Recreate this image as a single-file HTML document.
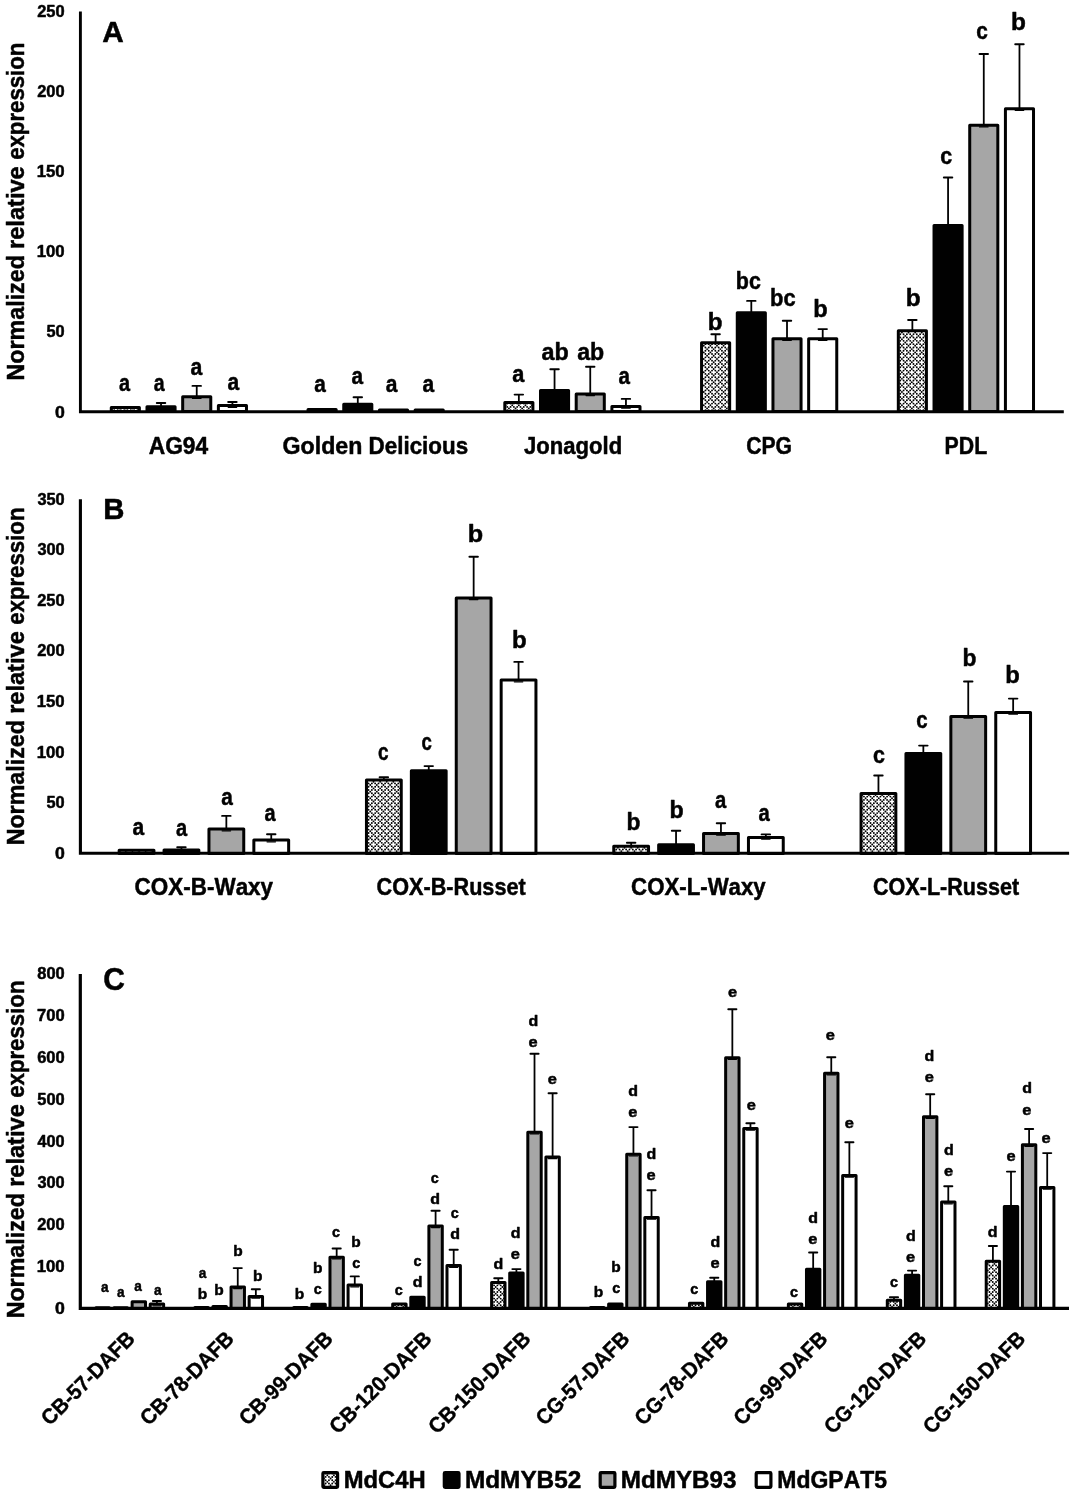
<!DOCTYPE html>
<html><head><meta charset="utf-8"><style>html,body{margin:0;padding:0;background:#fff;width:1075px;height:1495px;overflow:hidden}</style></head>
<body>
<svg width="1075" height="1495" viewBox="0 0 1075 1495" style="display:block">
<style>text{stroke:#000;stroke-width:0.5px;stroke-linejoin:round}</style>
<rect width="100%" height="100%" fill="#fff"/>
<g font-family="Liberation Sans" font-weight="bold" fill="#000" style="font-kerning:none" opacity="0.999">
<rect x="111.28" y="407.60" width="28.10" height="4.00" fill="#fff"/>
<clipPath id="c5"><rect x="111.28" y="407.60" width="28.10" height="4.00"/></clipPath>
<path clip-path="url(#c5)" fill="#000" d="M110.03 406.91a0.95 0.95 0 1 0 1.9 0a0.95 0.95 0 1 0 -1.9 0M110.03 410.21a0.95 0.95 0 1 0 1.9 0a0.95 0.95 0 1 0 -1.9 0M113.33 406.91a0.95 0.95 0 1 0 1.9 0a0.95 0.95 0 1 0 -1.9 0M113.33 410.21a0.95 0.95 0 1 0 1.9 0a0.95 0.95 0 1 0 -1.9 0M116.64 406.91a0.95 0.95 0 1 0 1.9 0a0.95 0.95 0 1 0 -1.9 0M116.64 410.21a0.95 0.95 0 1 0 1.9 0a0.95 0.95 0 1 0 -1.9 0M119.94 406.91a0.95 0.95 0 1 0 1.9 0a0.95 0.95 0 1 0 -1.9 0M119.94 410.21a0.95 0.95 0 1 0 1.9 0a0.95 0.95 0 1 0 -1.9 0M123.24 406.91a0.95 0.95 0 1 0 1.9 0a0.95 0.95 0 1 0 -1.9 0M123.24 410.21a0.95 0.95 0 1 0 1.9 0a0.95 0.95 0 1 0 -1.9 0M126.54 406.91a0.95 0.95 0 1 0 1.9 0a0.95 0.95 0 1 0 -1.9 0M126.54 410.21a0.95 0.95 0 1 0 1.9 0a0.95 0.95 0 1 0 -1.9 0M129.85 406.91a0.95 0.95 0 1 0 1.9 0a0.95 0.95 0 1 0 -1.9 0M129.85 410.21a0.95 0.95 0 1 0 1.9 0a0.95 0.95 0 1 0 -1.9 0M133.15 406.91a0.95 0.95 0 1 0 1.9 0a0.95 0.95 0 1 0 -1.9 0M133.15 410.21a0.95 0.95 0 1 0 1.9 0a0.95 0.95 0 1 0 -1.9 0M136.45 406.91a0.95 0.95 0 1 0 1.9 0a0.95 0.95 0 1 0 -1.9 0M136.45 410.21a0.95 0.95 0 1 0 1.9 0a0.95 0.95 0 1 0 -1.9 0M111.68 408.56a0.95 0.95 0 1 0 1.9 0a0.95 0.95 0 1 0 -1.9 0M114.98 411.86a0.95 0.95 0 1 0 1.9 0a0.95 0.95 0 1 0 -1.9 0M118.29 408.56a0.95 0.95 0 1 0 1.9 0a0.95 0.95 0 1 0 -1.9 0M121.59 411.86a0.95 0.95 0 1 0 1.9 0a0.95 0.95 0 1 0 -1.9 0M124.89 408.56a0.95 0.95 0 1 0 1.9 0a0.95 0.95 0 1 0 -1.9 0M128.19 411.86a0.95 0.95 0 1 0 1.9 0a0.95 0.95 0 1 0 -1.9 0M131.50 408.56a0.95 0.95 0 1 0 1.9 0a0.95 0.95 0 1 0 -1.9 0M134.80 411.86a0.95 0.95 0 1 0 1.9 0a0.95 0.95 0 1 0 -1.9 0M138.10 408.56a0.95 0.95 0 1 0 1.9 0a0.95 0.95 0 1 0 -1.9 0"/>
<rect x="111.28" y="407.60" width="28.10" height="4.00" fill="none" stroke="#000" stroke-width="3.0" stroke-linejoin="round"/>
<text x="119.02" y="391.36" font-size="24" textLength="11.06" lengthAdjust="spacingAndGlyphs">a</text>
<line x1="161.03" y1="408.30" x2="161.03" y2="403.00" stroke="#000" stroke-width="1.8"/>
<line x1="156.78" y1="403.00" x2="165.28" y2="403.00" stroke="#000" stroke-width="1.9" stroke-linecap="round"/>
<rect x="146.98" y="406.80" width="28.10" height="4.80" fill="#000" stroke="#000" stroke-width="3.0" stroke-linejoin="round"/>
<text x="153.63" y="391.36" font-size="24" textLength="10.85" lengthAdjust="spacingAndGlyphs">a</text>
<line x1="196.73" y1="398.20" x2="196.73" y2="385.90" stroke="#000" stroke-width="1.8"/>
<line x1="192.48" y1="385.90" x2="200.98" y2="385.90" stroke="#000" stroke-width="1.9" stroke-linecap="round"/>
<rect x="182.68" y="396.70" width="28.10" height="14.90" fill="#a6a6a6" stroke="#000" stroke-width="3.0" stroke-linejoin="round"/>
<line x1="192.48" y1="398.40" x2="200.98" y2="398.40" stroke="#000" stroke-width="1.2" stroke-linecap="round"/>
<text x="190.48" y="374.66" font-size="24" textLength="11.79" lengthAdjust="spacingAndGlyphs">a</text>
<line x1="232.43" y1="407.10" x2="232.43" y2="402.00" stroke="#000" stroke-width="1.8"/>
<line x1="228.18" y1="402.00" x2="236.68" y2="402.00" stroke="#000" stroke-width="1.9" stroke-linecap="round"/>
<rect x="218.38" y="405.60" width="28.10" height="6.00" fill="#fff" stroke="#000" stroke-width="3.0" stroke-linejoin="round"/>
<line x1="228.18" y1="407.30" x2="236.68" y2="407.30" stroke="#000" stroke-width="1.2" stroke-linecap="round"/>
<text x="227.38" y="389.96" font-size="24" textLength="11.68" lengthAdjust="spacingAndGlyphs">a</text>
<rect x="308.04" y="409.40" width="28.10" height="2.20" fill="#fff"/>
<clipPath id="c24"><rect x="308.04" y="409.40" width="28.10" height="2.20"/></clipPath>
<path clip-path="url(#c24)" fill="#000" d="M308.18 410.21a0.95 0.95 0 1 0 1.9 0a0.95 0.95 0 1 0 -1.9 0M311.48 410.21a0.95 0.95 0 1 0 1.9 0a0.95 0.95 0 1 0 -1.9 0M314.79 410.21a0.95 0.95 0 1 0 1.9 0a0.95 0.95 0 1 0 -1.9 0M318.09 410.21a0.95 0.95 0 1 0 1.9 0a0.95 0.95 0 1 0 -1.9 0M321.39 410.21a0.95 0.95 0 1 0 1.9 0a0.95 0.95 0 1 0 -1.9 0M324.69 410.21a0.95 0.95 0 1 0 1.9 0a0.95 0.95 0 1 0 -1.9 0M328.00 410.21a0.95 0.95 0 1 0 1.9 0a0.95 0.95 0 1 0 -1.9 0M331.30 410.21a0.95 0.95 0 1 0 1.9 0a0.95 0.95 0 1 0 -1.9 0M334.60 410.21a0.95 0.95 0 1 0 1.9 0a0.95 0.95 0 1 0 -1.9 0M306.53 411.86a0.95 0.95 0 1 0 1.9 0a0.95 0.95 0 1 0 -1.9 0M309.83 408.56a0.95 0.95 0 1 0 1.9 0a0.95 0.95 0 1 0 -1.9 0M313.13 411.86a0.95 0.95 0 1 0 1.9 0a0.95 0.95 0 1 0 -1.9 0M316.44 408.56a0.95 0.95 0 1 0 1.9 0a0.95 0.95 0 1 0 -1.9 0M319.74 411.86a0.95 0.95 0 1 0 1.9 0a0.95 0.95 0 1 0 -1.9 0M323.04 408.56a0.95 0.95 0 1 0 1.9 0a0.95 0.95 0 1 0 -1.9 0M326.34 411.86a0.95 0.95 0 1 0 1.9 0a0.95 0.95 0 1 0 -1.9 0M329.65 408.56a0.95 0.95 0 1 0 1.9 0a0.95 0.95 0 1 0 -1.9 0M332.95 411.86a0.95 0.95 0 1 0 1.9 0a0.95 0.95 0 1 0 -1.9 0"/>
<rect x="308.04" y="409.40" width="28.10" height="2.20" fill="none" stroke="#000" stroke-width="3.0" stroke-linejoin="round"/>
<text x="314.29" y="391.76" font-size="24" textLength="11.58" lengthAdjust="spacingAndGlyphs">a</text>
<line x1="357.79" y1="405.70" x2="357.79" y2="397.20" stroke="#000" stroke-width="1.8"/>
<line x1="353.54" y1="397.20" x2="362.04" y2="397.20" stroke="#000" stroke-width="1.9" stroke-linecap="round"/>
<rect x="343.74" y="404.20" width="28.10" height="7.40" fill="#000" stroke="#000" stroke-width="3.0" stroke-linejoin="round"/>
<text x="351.49" y="384.36" font-size="24" textLength="11.58" lengthAdjust="spacingAndGlyphs">a</text>
<rect x="379.44" y="409.90" width="28.10" height="1.70" fill="#a6a6a6" stroke="#000" stroke-width="3.0" stroke-linejoin="round"/>
<text x="385.68" y="391.76" font-size="24" textLength="11.68" lengthAdjust="spacingAndGlyphs">a</text>
<rect x="415.14" y="409.90" width="28.10" height="1.70" fill="#fff" stroke="#000" stroke-width="3.0" stroke-linejoin="round"/>
<text x="422.58" y="392.46" font-size="24" textLength="11.68" lengthAdjust="spacingAndGlyphs">a</text>
<line x1="518.85" y1="404.00" x2="518.85" y2="394.60" stroke="#000" stroke-width="1.8"/>
<line x1="514.60" y1="394.60" x2="523.10" y2="394.60" stroke="#000" stroke-width="1.9" stroke-linecap="round"/>
<rect x="504.80" y="402.50" width="28.10" height="9.10" fill="#fff"/>
<clipPath id="c39"><rect x="504.80" y="402.50" width="28.10" height="9.10"/></clipPath>
<path clip-path="url(#c39)" fill="#000" d="M503.03 403.60a0.95 0.95 0 1 0 1.9 0a0.95 0.95 0 1 0 -1.9 0M503.03 406.91a0.95 0.95 0 1 0 1.9 0a0.95 0.95 0 1 0 -1.9 0M503.03 410.21a0.95 0.95 0 1 0 1.9 0a0.95 0.95 0 1 0 -1.9 0M506.33 403.60a0.95 0.95 0 1 0 1.9 0a0.95 0.95 0 1 0 -1.9 0M506.33 406.91a0.95 0.95 0 1 0 1.9 0a0.95 0.95 0 1 0 -1.9 0M506.33 410.21a0.95 0.95 0 1 0 1.9 0a0.95 0.95 0 1 0 -1.9 0M509.63 403.60a0.95 0.95 0 1 0 1.9 0a0.95 0.95 0 1 0 -1.9 0M509.63 406.91a0.95 0.95 0 1 0 1.9 0a0.95 0.95 0 1 0 -1.9 0M509.63 410.21a0.95 0.95 0 1 0 1.9 0a0.95 0.95 0 1 0 -1.9 0M512.93 403.60a0.95 0.95 0 1 0 1.9 0a0.95 0.95 0 1 0 -1.9 0M512.93 406.91a0.95 0.95 0 1 0 1.9 0a0.95 0.95 0 1 0 -1.9 0M512.93 410.21a0.95 0.95 0 1 0 1.9 0a0.95 0.95 0 1 0 -1.9 0M516.24 403.60a0.95 0.95 0 1 0 1.9 0a0.95 0.95 0 1 0 -1.9 0M516.24 406.91a0.95 0.95 0 1 0 1.9 0a0.95 0.95 0 1 0 -1.9 0M516.24 410.21a0.95 0.95 0 1 0 1.9 0a0.95 0.95 0 1 0 -1.9 0M519.54 403.60a0.95 0.95 0 1 0 1.9 0a0.95 0.95 0 1 0 -1.9 0M519.54 406.91a0.95 0.95 0 1 0 1.9 0a0.95 0.95 0 1 0 -1.9 0M519.54 410.21a0.95 0.95 0 1 0 1.9 0a0.95 0.95 0 1 0 -1.9 0M522.84 403.60a0.95 0.95 0 1 0 1.9 0a0.95 0.95 0 1 0 -1.9 0M522.84 406.91a0.95 0.95 0 1 0 1.9 0a0.95 0.95 0 1 0 -1.9 0M522.84 410.21a0.95 0.95 0 1 0 1.9 0a0.95 0.95 0 1 0 -1.9 0M526.14 403.60a0.95 0.95 0 1 0 1.9 0a0.95 0.95 0 1 0 -1.9 0M526.14 406.91a0.95 0.95 0 1 0 1.9 0a0.95 0.95 0 1 0 -1.9 0M526.14 410.21a0.95 0.95 0 1 0 1.9 0a0.95 0.95 0 1 0 -1.9 0M529.45 403.60a0.95 0.95 0 1 0 1.9 0a0.95 0.95 0 1 0 -1.9 0M529.45 406.91a0.95 0.95 0 1 0 1.9 0a0.95 0.95 0 1 0 -1.9 0M529.45 410.21a0.95 0.95 0 1 0 1.9 0a0.95 0.95 0 1 0 -1.9 0M532.75 403.60a0.95 0.95 0 1 0 1.9 0a0.95 0.95 0 1 0 -1.9 0M532.75 406.91a0.95 0.95 0 1 0 1.9 0a0.95 0.95 0 1 0 -1.9 0M532.75 410.21a0.95 0.95 0 1 0 1.9 0a0.95 0.95 0 1 0 -1.9 0M504.68 405.25a0.95 0.95 0 1 0 1.9 0a0.95 0.95 0 1 0 -1.9 0M504.68 411.86a0.95 0.95 0 1 0 1.9 0a0.95 0.95 0 1 0 -1.9 0M507.98 401.95a0.95 0.95 0 1 0 1.9 0a0.95 0.95 0 1 0 -1.9 0M511.28 405.25a0.95 0.95 0 1 0 1.9 0a0.95 0.95 0 1 0 -1.9 0M507.98 408.56a0.95 0.95 0 1 0 1.9 0a0.95 0.95 0 1 0 -1.9 0M511.28 411.86a0.95 0.95 0 1 0 1.9 0a0.95 0.95 0 1 0 -1.9 0M514.59 401.95a0.95 0.95 0 1 0 1.9 0a0.95 0.95 0 1 0 -1.9 0M517.89 405.25a0.95 0.95 0 1 0 1.9 0a0.95 0.95 0 1 0 -1.9 0M514.59 408.56a0.95 0.95 0 1 0 1.9 0a0.95 0.95 0 1 0 -1.9 0M517.89 411.86a0.95 0.95 0 1 0 1.9 0a0.95 0.95 0 1 0 -1.9 0M521.19 401.95a0.95 0.95 0 1 0 1.9 0a0.95 0.95 0 1 0 -1.9 0M524.49 405.25a0.95 0.95 0 1 0 1.9 0a0.95 0.95 0 1 0 -1.9 0M521.19 408.56a0.95 0.95 0 1 0 1.9 0a0.95 0.95 0 1 0 -1.9 0M524.49 411.86a0.95 0.95 0 1 0 1.9 0a0.95 0.95 0 1 0 -1.9 0M527.80 401.95a0.95 0.95 0 1 0 1.9 0a0.95 0.95 0 1 0 -1.9 0M531.10 405.25a0.95 0.95 0 1 0 1.9 0a0.95 0.95 0 1 0 -1.9 0M527.80 408.56a0.95 0.95 0 1 0 1.9 0a0.95 0.95 0 1 0 -1.9 0M531.10 411.86a0.95 0.95 0 1 0 1.9 0a0.95 0.95 0 1 0 -1.9 0"/>
<rect x="504.80" y="402.50" width="28.10" height="9.10" fill="none" stroke="#000" stroke-width="3.0" stroke-linejoin="round"/>
<text x="512.26" y="382.46" font-size="24" textLength="12.10" lengthAdjust="spacingAndGlyphs">a</text>
<line x1="554.55" y1="392.10" x2="554.55" y2="369.30" stroke="#000" stroke-width="1.8"/>
<line x1="550.30" y1="369.30" x2="558.80" y2="369.30" stroke="#000" stroke-width="1.9" stroke-linecap="round"/>
<rect x="540.50" y="390.60" width="28.10" height="21.00" fill="#000" stroke="#000" stroke-width="3.0" stroke-linejoin="round"/>
<text x="541.62" y="360.16" font-size="24" textLength="27.24" lengthAdjust="spacingAndGlyphs">ab</text>
<line x1="590.25" y1="395.40" x2="590.25" y2="366.80" stroke="#000" stroke-width="1.8"/>
<line x1="586.00" y1="366.80" x2="594.50" y2="366.80" stroke="#000" stroke-width="1.9" stroke-linecap="round"/>
<rect x="576.20" y="393.90" width="28.10" height="17.70" fill="#a6a6a6" stroke="#000" stroke-width="3.0" stroke-linejoin="round"/>
<line x1="586.00" y1="395.60" x2="594.50" y2="395.60" stroke="#000" stroke-width="1.2" stroke-linecap="round"/>
<text x="577.22" y="360.16" font-size="24" textLength="27.03" lengthAdjust="spacingAndGlyphs">ab</text>
<line x1="625.95" y1="408.00" x2="625.95" y2="398.90" stroke="#000" stroke-width="1.8"/>
<line x1="621.70" y1="398.90" x2="630.20" y2="398.90" stroke="#000" stroke-width="1.9" stroke-linecap="round"/>
<rect x="611.90" y="406.50" width="28.10" height="5.10" fill="#fff" stroke="#000" stroke-width="3.0" stroke-linejoin="round"/>
<line x1="621.70" y1="408.20" x2="630.20" y2="408.20" stroke="#000" stroke-width="1.2" stroke-linecap="round"/>
<text x="618.40" y="384.36" font-size="24" textLength="11.47" lengthAdjust="spacingAndGlyphs">a</text>
<line x1="715.61" y1="344.30" x2="715.61" y2="334.20" stroke="#000" stroke-width="1.8"/>
<line x1="711.36" y1="334.20" x2="719.86" y2="334.20" stroke="#000" stroke-width="1.9" stroke-linecap="round"/>
<rect x="701.56" y="342.80" width="28.10" height="68.80" fill="#fff"/>
<clipPath id="c60"><rect x="701.56" y="342.80" width="28.10" height="68.80"/></clipPath>
<path clip-path="url(#c60)" fill="#000" d="M701.18 344.16a0.95 0.95 0 1 0 1.9 0a0.95 0.95 0 1 0 -1.9 0M701.18 347.46a0.95 0.95 0 1 0 1.9 0a0.95 0.95 0 1 0 -1.9 0M701.18 350.76a0.95 0.95 0 1 0 1.9 0a0.95 0.95 0 1 0 -1.9 0M701.18 354.06a0.95 0.95 0 1 0 1.9 0a0.95 0.95 0 1 0 -1.9 0M701.18 357.37a0.95 0.95 0 1 0 1.9 0a0.95 0.95 0 1 0 -1.9 0M701.18 360.67a0.95 0.95 0 1 0 1.9 0a0.95 0.95 0 1 0 -1.9 0M701.18 363.97a0.95 0.95 0 1 0 1.9 0a0.95 0.95 0 1 0 -1.9 0M701.18 367.28a0.95 0.95 0 1 0 1.9 0a0.95 0.95 0 1 0 -1.9 0M701.18 370.58a0.95 0.95 0 1 0 1.9 0a0.95 0.95 0 1 0 -1.9 0M701.18 373.88a0.95 0.95 0 1 0 1.9 0a0.95 0.95 0 1 0 -1.9 0M701.18 377.18a0.95 0.95 0 1 0 1.9 0a0.95 0.95 0 1 0 -1.9 0M701.18 380.49a0.95 0.95 0 1 0 1.9 0a0.95 0.95 0 1 0 -1.9 0M701.18 383.79a0.95 0.95 0 1 0 1.9 0a0.95 0.95 0 1 0 -1.9 0M701.18 387.09a0.95 0.95 0 1 0 1.9 0a0.95 0.95 0 1 0 -1.9 0M701.18 390.39a0.95 0.95 0 1 0 1.9 0a0.95 0.95 0 1 0 -1.9 0M701.18 393.70a0.95 0.95 0 1 0 1.9 0a0.95 0.95 0 1 0 -1.9 0M701.18 397.00a0.95 0.95 0 1 0 1.9 0a0.95 0.95 0 1 0 -1.9 0M701.18 400.30a0.95 0.95 0 1 0 1.9 0a0.95 0.95 0 1 0 -1.9 0M701.18 403.60a0.95 0.95 0 1 0 1.9 0a0.95 0.95 0 1 0 -1.9 0M701.18 406.91a0.95 0.95 0 1 0 1.9 0a0.95 0.95 0 1 0 -1.9 0M701.18 410.21a0.95 0.95 0 1 0 1.9 0a0.95 0.95 0 1 0 -1.9 0M704.48 344.16a0.95 0.95 0 1 0 1.9 0a0.95 0.95 0 1 0 -1.9 0M704.48 347.46a0.95 0.95 0 1 0 1.9 0a0.95 0.95 0 1 0 -1.9 0M704.48 350.76a0.95 0.95 0 1 0 1.9 0a0.95 0.95 0 1 0 -1.9 0M704.48 354.06a0.95 0.95 0 1 0 1.9 0a0.95 0.95 0 1 0 -1.9 0M704.48 357.37a0.95 0.95 0 1 0 1.9 0a0.95 0.95 0 1 0 -1.9 0M704.48 360.67a0.95 0.95 0 1 0 1.9 0a0.95 0.95 0 1 0 -1.9 0M704.48 363.97a0.95 0.95 0 1 0 1.9 0a0.95 0.95 0 1 0 -1.9 0M704.48 367.28a0.95 0.95 0 1 0 1.9 0a0.95 0.95 0 1 0 -1.9 0M704.48 370.58a0.95 0.95 0 1 0 1.9 0a0.95 0.95 0 1 0 -1.9 0M704.48 373.88a0.95 0.95 0 1 0 1.9 0a0.95 0.95 0 1 0 -1.9 0M704.48 377.18a0.95 0.95 0 1 0 1.9 0a0.95 0.95 0 1 0 -1.9 0M704.48 380.49a0.95 0.95 0 1 0 1.9 0a0.95 0.95 0 1 0 -1.9 0M704.48 383.79a0.95 0.95 0 1 0 1.9 0a0.95 0.95 0 1 0 -1.9 0M704.48 387.09a0.95 0.95 0 1 0 1.9 0a0.95 0.95 0 1 0 -1.9 0M704.48 390.39a0.95 0.95 0 1 0 1.9 0a0.95 0.95 0 1 0 -1.9 0M704.48 393.70a0.95 0.95 0 1 0 1.9 0a0.95 0.95 0 1 0 -1.9 0M704.48 397.00a0.95 0.95 0 1 0 1.9 0a0.95 0.95 0 1 0 -1.9 0M704.48 400.30a0.95 0.95 0 1 0 1.9 0a0.95 0.95 0 1 0 -1.9 0M704.48 403.60a0.95 0.95 0 1 0 1.9 0a0.95 0.95 0 1 0 -1.9 0M704.48 406.91a0.95 0.95 0 1 0 1.9 0a0.95 0.95 0 1 0 -1.9 0M704.48 410.21a0.95 0.95 0 1 0 1.9 0a0.95 0.95 0 1 0 -1.9 0M707.78 344.16a0.95 0.95 0 1 0 1.9 0a0.95 0.95 0 1 0 -1.9 0M707.78 347.46a0.95 0.95 0 1 0 1.9 0a0.95 0.95 0 1 0 -1.9 0M707.78 350.76a0.95 0.95 0 1 0 1.9 0a0.95 0.95 0 1 0 -1.9 0M707.78 354.06a0.95 0.95 0 1 0 1.9 0a0.95 0.95 0 1 0 -1.9 0M707.78 357.37a0.95 0.95 0 1 0 1.9 0a0.95 0.95 0 1 0 -1.9 0M707.78 360.67a0.95 0.95 0 1 0 1.9 0a0.95 0.95 0 1 0 -1.9 0M707.78 363.97a0.95 0.95 0 1 0 1.9 0a0.95 0.95 0 1 0 -1.9 0M707.78 367.28a0.95 0.95 0 1 0 1.9 0a0.95 0.95 0 1 0 -1.9 0M707.78 370.58a0.95 0.95 0 1 0 1.9 0a0.95 0.95 0 1 0 -1.9 0M707.78 373.88a0.95 0.95 0 1 0 1.9 0a0.95 0.95 0 1 0 -1.9 0M707.78 377.18a0.95 0.95 0 1 0 1.9 0a0.95 0.95 0 1 0 -1.9 0M707.78 380.49a0.95 0.95 0 1 0 1.9 0a0.95 0.95 0 1 0 -1.9 0M707.78 383.79a0.95 0.95 0 1 0 1.9 0a0.95 0.95 0 1 0 -1.9 0M707.78 387.09a0.95 0.95 0 1 0 1.9 0a0.95 0.95 0 1 0 -1.9 0M707.78 390.39a0.95 0.95 0 1 0 1.9 0a0.95 0.95 0 1 0 -1.9 0M707.78 393.70a0.95 0.95 0 1 0 1.9 0a0.95 0.95 0 1 0 -1.9 0M707.78 397.00a0.95 0.95 0 1 0 1.9 0a0.95 0.95 0 1 0 -1.9 0M707.78 400.30a0.95 0.95 0 1 0 1.9 0a0.95 0.95 0 1 0 -1.9 0M707.78 403.60a0.95 0.95 0 1 0 1.9 0a0.95 0.95 0 1 0 -1.9 0M707.78 406.91a0.95 0.95 0 1 0 1.9 0a0.95 0.95 0 1 0 -1.9 0M707.78 410.21a0.95 0.95 0 1 0 1.9 0a0.95 0.95 0 1 0 -1.9 0M711.08 344.16a0.95 0.95 0 1 0 1.9 0a0.95 0.95 0 1 0 -1.9 0M711.08 347.46a0.95 0.95 0 1 0 1.9 0a0.95 0.95 0 1 0 -1.9 0M711.08 350.76a0.95 0.95 0 1 0 1.9 0a0.95 0.95 0 1 0 -1.9 0M711.08 354.06a0.95 0.95 0 1 0 1.9 0a0.95 0.95 0 1 0 -1.9 0M711.08 357.37a0.95 0.95 0 1 0 1.9 0a0.95 0.95 0 1 0 -1.9 0M711.08 360.67a0.95 0.95 0 1 0 1.9 0a0.95 0.95 0 1 0 -1.9 0M711.08 363.97a0.95 0.95 0 1 0 1.9 0a0.95 0.95 0 1 0 -1.9 0M711.08 367.28a0.95 0.95 0 1 0 1.9 0a0.95 0.95 0 1 0 -1.9 0M711.08 370.58a0.95 0.95 0 1 0 1.9 0a0.95 0.95 0 1 0 -1.9 0M711.08 373.88a0.95 0.95 0 1 0 1.9 0a0.95 0.95 0 1 0 -1.9 0M711.08 377.18a0.95 0.95 0 1 0 1.9 0a0.95 0.95 0 1 0 -1.9 0M711.08 380.49a0.95 0.95 0 1 0 1.9 0a0.95 0.95 0 1 0 -1.9 0M711.08 383.79a0.95 0.95 0 1 0 1.9 0a0.95 0.95 0 1 0 -1.9 0M711.08 387.09a0.95 0.95 0 1 0 1.9 0a0.95 0.95 0 1 0 -1.9 0M711.08 390.39a0.95 0.95 0 1 0 1.9 0a0.95 0.95 0 1 0 -1.9 0M711.08 393.70a0.95 0.95 0 1 0 1.9 0a0.95 0.95 0 1 0 -1.9 0M711.08 397.00a0.95 0.95 0 1 0 1.9 0a0.95 0.95 0 1 0 -1.9 0M711.08 400.30a0.95 0.95 0 1 0 1.9 0a0.95 0.95 0 1 0 -1.9 0M711.08 403.60a0.95 0.95 0 1 0 1.9 0a0.95 0.95 0 1 0 -1.9 0M711.08 406.91a0.95 0.95 0 1 0 1.9 0a0.95 0.95 0 1 0 -1.9 0M711.08 410.21a0.95 0.95 0 1 0 1.9 0a0.95 0.95 0 1 0 -1.9 0M714.39 344.16a0.95 0.95 0 1 0 1.9 0a0.95 0.95 0 1 0 -1.9 0M714.39 347.46a0.95 0.95 0 1 0 1.9 0a0.95 0.95 0 1 0 -1.9 0M714.39 350.76a0.95 0.95 0 1 0 1.9 0a0.95 0.95 0 1 0 -1.9 0M714.39 354.06a0.95 0.95 0 1 0 1.9 0a0.95 0.95 0 1 0 -1.9 0M714.39 357.37a0.95 0.95 0 1 0 1.9 0a0.95 0.95 0 1 0 -1.9 0M714.39 360.67a0.95 0.95 0 1 0 1.9 0a0.95 0.95 0 1 0 -1.9 0M714.39 363.97a0.95 0.95 0 1 0 1.9 0a0.95 0.95 0 1 0 -1.9 0M714.39 367.28a0.95 0.95 0 1 0 1.9 0a0.95 0.95 0 1 0 -1.9 0M714.39 370.58a0.95 0.95 0 1 0 1.9 0a0.95 0.95 0 1 0 -1.9 0M714.39 373.88a0.95 0.95 0 1 0 1.9 0a0.95 0.95 0 1 0 -1.9 0M714.39 377.18a0.95 0.95 0 1 0 1.9 0a0.95 0.95 0 1 0 -1.9 0M714.39 380.49a0.95 0.95 0 1 0 1.9 0a0.95 0.95 0 1 0 -1.9 0M714.39 383.79a0.95 0.95 0 1 0 1.9 0a0.95 0.95 0 1 0 -1.9 0M714.39 387.09a0.95 0.95 0 1 0 1.9 0a0.95 0.95 0 1 0 -1.9 0M714.39 390.39a0.95 0.95 0 1 0 1.9 0a0.95 0.95 0 1 0 -1.9 0M714.39 393.70a0.95 0.95 0 1 0 1.9 0a0.95 0.95 0 1 0 -1.9 0M714.39 397.00a0.95 0.95 0 1 0 1.9 0a0.95 0.95 0 1 0 -1.9 0M714.39 400.30a0.95 0.95 0 1 0 1.9 0a0.95 0.95 0 1 0 -1.9 0M714.39 403.60a0.95 0.95 0 1 0 1.9 0a0.95 0.95 0 1 0 -1.9 0M714.39 406.91a0.95 0.95 0 1 0 1.9 0a0.95 0.95 0 1 0 -1.9 0M714.39 410.21a0.95 0.95 0 1 0 1.9 0a0.95 0.95 0 1 0 -1.9 0M717.69 344.16a0.95 0.95 0 1 0 1.9 0a0.95 0.95 0 1 0 -1.9 0M717.69 347.46a0.95 0.95 0 1 0 1.9 0a0.95 0.95 0 1 0 -1.9 0M717.69 350.76a0.95 0.95 0 1 0 1.9 0a0.95 0.95 0 1 0 -1.9 0M717.69 354.06a0.95 0.95 0 1 0 1.9 0a0.95 0.95 0 1 0 -1.9 0M717.69 357.37a0.95 0.95 0 1 0 1.9 0a0.95 0.95 0 1 0 -1.9 0M717.69 360.67a0.95 0.95 0 1 0 1.9 0a0.95 0.95 0 1 0 -1.9 0M717.69 363.97a0.95 0.95 0 1 0 1.9 0a0.95 0.95 0 1 0 -1.9 0M717.69 367.28a0.95 0.95 0 1 0 1.9 0a0.95 0.95 0 1 0 -1.9 0M717.69 370.58a0.95 0.95 0 1 0 1.9 0a0.95 0.95 0 1 0 -1.9 0M717.69 373.88a0.95 0.95 0 1 0 1.9 0a0.95 0.95 0 1 0 -1.9 0M717.69 377.18a0.95 0.95 0 1 0 1.9 0a0.95 0.95 0 1 0 -1.9 0M717.69 380.49a0.95 0.95 0 1 0 1.9 0a0.95 0.95 0 1 0 -1.9 0M717.69 383.79a0.95 0.95 0 1 0 1.9 0a0.95 0.95 0 1 0 -1.9 0M717.69 387.09a0.95 0.95 0 1 0 1.9 0a0.95 0.95 0 1 0 -1.9 0M717.69 390.39a0.95 0.95 0 1 0 1.9 0a0.95 0.95 0 1 0 -1.9 0M717.69 393.70a0.95 0.95 0 1 0 1.9 0a0.95 0.95 0 1 0 -1.9 0M717.69 397.00a0.95 0.95 0 1 0 1.9 0a0.95 0.95 0 1 0 -1.9 0M717.69 400.30a0.95 0.95 0 1 0 1.9 0a0.95 0.95 0 1 0 -1.9 0M717.69 403.60a0.95 0.95 0 1 0 1.9 0a0.95 0.95 0 1 0 -1.9 0M717.69 406.91a0.95 0.95 0 1 0 1.9 0a0.95 0.95 0 1 0 -1.9 0M717.69 410.21a0.95 0.95 0 1 0 1.9 0a0.95 0.95 0 1 0 -1.9 0M720.99 344.16a0.95 0.95 0 1 0 1.9 0a0.95 0.95 0 1 0 -1.9 0M720.99 347.46a0.95 0.95 0 1 0 1.9 0a0.95 0.95 0 1 0 -1.9 0M720.99 350.76a0.95 0.95 0 1 0 1.9 0a0.95 0.95 0 1 0 -1.9 0M720.99 354.06a0.95 0.95 0 1 0 1.9 0a0.95 0.95 0 1 0 -1.9 0M720.99 357.37a0.95 0.95 0 1 0 1.9 0a0.95 0.95 0 1 0 -1.9 0M720.99 360.67a0.95 0.95 0 1 0 1.9 0a0.95 0.95 0 1 0 -1.9 0M720.99 363.97a0.95 0.95 0 1 0 1.9 0a0.95 0.95 0 1 0 -1.9 0M720.99 367.28a0.95 0.95 0 1 0 1.9 0a0.95 0.95 0 1 0 -1.9 0M720.99 370.58a0.95 0.95 0 1 0 1.9 0a0.95 0.95 0 1 0 -1.9 0M720.99 373.88a0.95 0.95 0 1 0 1.9 0a0.95 0.95 0 1 0 -1.9 0M720.99 377.18a0.95 0.95 0 1 0 1.9 0a0.95 0.95 0 1 0 -1.9 0M720.99 380.49a0.95 0.95 0 1 0 1.9 0a0.95 0.95 0 1 0 -1.9 0M720.99 383.79a0.95 0.95 0 1 0 1.9 0a0.95 0.95 0 1 0 -1.9 0M720.99 387.09a0.95 0.95 0 1 0 1.9 0a0.95 0.95 0 1 0 -1.9 0M720.99 390.39a0.95 0.95 0 1 0 1.9 0a0.95 0.95 0 1 0 -1.9 0M720.99 393.70a0.95 0.95 0 1 0 1.9 0a0.95 0.95 0 1 0 -1.9 0M720.99 397.00a0.95 0.95 0 1 0 1.9 0a0.95 0.95 0 1 0 -1.9 0M720.99 400.30a0.95 0.95 0 1 0 1.9 0a0.95 0.95 0 1 0 -1.9 0M720.99 403.60a0.95 0.95 0 1 0 1.9 0a0.95 0.95 0 1 0 -1.9 0M720.99 406.91a0.95 0.95 0 1 0 1.9 0a0.95 0.95 0 1 0 -1.9 0M720.99 410.21a0.95 0.95 0 1 0 1.9 0a0.95 0.95 0 1 0 -1.9 0M724.29 344.16a0.95 0.95 0 1 0 1.9 0a0.95 0.95 0 1 0 -1.9 0M724.29 347.46a0.95 0.95 0 1 0 1.9 0a0.95 0.95 0 1 0 -1.9 0M724.29 350.76a0.95 0.95 0 1 0 1.9 0a0.95 0.95 0 1 0 -1.9 0M724.29 354.06a0.95 0.95 0 1 0 1.9 0a0.95 0.95 0 1 0 -1.9 0M724.29 357.37a0.95 0.95 0 1 0 1.9 0a0.95 0.95 0 1 0 -1.9 0M724.29 360.67a0.95 0.95 0 1 0 1.9 0a0.95 0.95 0 1 0 -1.9 0M724.29 363.97a0.95 0.95 0 1 0 1.9 0a0.95 0.95 0 1 0 -1.9 0M724.29 367.28a0.95 0.95 0 1 0 1.9 0a0.95 0.95 0 1 0 -1.9 0M724.29 370.58a0.95 0.95 0 1 0 1.9 0a0.95 0.95 0 1 0 -1.9 0M724.29 373.88a0.95 0.95 0 1 0 1.9 0a0.95 0.95 0 1 0 -1.9 0M724.29 377.18a0.95 0.95 0 1 0 1.9 0a0.95 0.95 0 1 0 -1.9 0M724.29 380.49a0.95 0.95 0 1 0 1.9 0a0.95 0.95 0 1 0 -1.9 0M724.29 383.79a0.95 0.95 0 1 0 1.9 0a0.95 0.95 0 1 0 -1.9 0M724.29 387.09a0.95 0.95 0 1 0 1.9 0a0.95 0.95 0 1 0 -1.9 0M724.29 390.39a0.95 0.95 0 1 0 1.9 0a0.95 0.95 0 1 0 -1.9 0M724.29 393.70a0.95 0.95 0 1 0 1.9 0a0.95 0.95 0 1 0 -1.9 0M724.29 397.00a0.95 0.95 0 1 0 1.9 0a0.95 0.95 0 1 0 -1.9 0M724.29 400.30a0.95 0.95 0 1 0 1.9 0a0.95 0.95 0 1 0 -1.9 0M724.29 403.60a0.95 0.95 0 1 0 1.9 0a0.95 0.95 0 1 0 -1.9 0M724.29 406.91a0.95 0.95 0 1 0 1.9 0a0.95 0.95 0 1 0 -1.9 0M724.29 410.21a0.95 0.95 0 1 0 1.9 0a0.95 0.95 0 1 0 -1.9 0M727.60 344.16a0.95 0.95 0 1 0 1.9 0a0.95 0.95 0 1 0 -1.9 0M727.60 347.46a0.95 0.95 0 1 0 1.9 0a0.95 0.95 0 1 0 -1.9 0M727.60 350.76a0.95 0.95 0 1 0 1.9 0a0.95 0.95 0 1 0 -1.9 0M727.60 354.06a0.95 0.95 0 1 0 1.9 0a0.95 0.95 0 1 0 -1.9 0M727.60 357.37a0.95 0.95 0 1 0 1.9 0a0.95 0.95 0 1 0 -1.9 0M727.60 360.67a0.95 0.95 0 1 0 1.9 0a0.95 0.95 0 1 0 -1.9 0M727.60 363.97a0.95 0.95 0 1 0 1.9 0a0.95 0.95 0 1 0 -1.9 0M727.60 367.28a0.95 0.95 0 1 0 1.9 0a0.95 0.95 0 1 0 -1.9 0M727.60 370.58a0.95 0.95 0 1 0 1.9 0a0.95 0.95 0 1 0 -1.9 0M727.60 373.88a0.95 0.95 0 1 0 1.9 0a0.95 0.95 0 1 0 -1.9 0M727.60 377.18a0.95 0.95 0 1 0 1.9 0a0.95 0.95 0 1 0 -1.9 0M727.60 380.49a0.95 0.95 0 1 0 1.9 0a0.95 0.95 0 1 0 -1.9 0M727.60 383.79a0.95 0.95 0 1 0 1.9 0a0.95 0.95 0 1 0 -1.9 0M727.60 387.09a0.95 0.95 0 1 0 1.9 0a0.95 0.95 0 1 0 -1.9 0M727.60 390.39a0.95 0.95 0 1 0 1.9 0a0.95 0.95 0 1 0 -1.9 0M727.60 393.70a0.95 0.95 0 1 0 1.9 0a0.95 0.95 0 1 0 -1.9 0M727.60 397.00a0.95 0.95 0 1 0 1.9 0a0.95 0.95 0 1 0 -1.9 0M727.60 400.30a0.95 0.95 0 1 0 1.9 0a0.95 0.95 0 1 0 -1.9 0M727.60 403.60a0.95 0.95 0 1 0 1.9 0a0.95 0.95 0 1 0 -1.9 0M727.60 406.91a0.95 0.95 0 1 0 1.9 0a0.95 0.95 0 1 0 -1.9 0M727.60 410.21a0.95 0.95 0 1 0 1.9 0a0.95 0.95 0 1 0 -1.9 0M702.83 345.81a0.95 0.95 0 1 0 1.9 0a0.95 0.95 0 1 0 -1.9 0M702.83 352.41a0.95 0.95 0 1 0 1.9 0a0.95 0.95 0 1 0 -1.9 0M702.83 359.02a0.95 0.95 0 1 0 1.9 0a0.95 0.95 0 1 0 -1.9 0M702.83 365.62a0.95 0.95 0 1 0 1.9 0a0.95 0.95 0 1 0 -1.9 0M702.83 372.23a0.95 0.95 0 1 0 1.9 0a0.95 0.95 0 1 0 -1.9 0M702.83 378.83a0.95 0.95 0 1 0 1.9 0a0.95 0.95 0 1 0 -1.9 0M702.83 385.44a0.95 0.95 0 1 0 1.9 0a0.95 0.95 0 1 0 -1.9 0M702.83 392.04a0.95 0.95 0 1 0 1.9 0a0.95 0.95 0 1 0 -1.9 0M702.83 398.65a0.95 0.95 0 1 0 1.9 0a0.95 0.95 0 1 0 -1.9 0M702.83 405.25a0.95 0.95 0 1 0 1.9 0a0.95 0.95 0 1 0 -1.9 0M702.83 411.86a0.95 0.95 0 1 0 1.9 0a0.95 0.95 0 1 0 -1.9 0M706.13 342.51a0.95 0.95 0 1 0 1.9 0a0.95 0.95 0 1 0 -1.9 0M709.43 345.81a0.95 0.95 0 1 0 1.9 0a0.95 0.95 0 1 0 -1.9 0M706.13 349.11a0.95 0.95 0 1 0 1.9 0a0.95 0.95 0 1 0 -1.9 0M709.43 352.41a0.95 0.95 0 1 0 1.9 0a0.95 0.95 0 1 0 -1.9 0M706.13 355.72a0.95 0.95 0 1 0 1.9 0a0.95 0.95 0 1 0 -1.9 0M709.43 359.02a0.95 0.95 0 1 0 1.9 0a0.95 0.95 0 1 0 -1.9 0M706.13 362.32a0.95 0.95 0 1 0 1.9 0a0.95 0.95 0 1 0 -1.9 0M709.43 365.62a0.95 0.95 0 1 0 1.9 0a0.95 0.95 0 1 0 -1.9 0M706.13 368.93a0.95 0.95 0 1 0 1.9 0a0.95 0.95 0 1 0 -1.9 0M709.43 372.23a0.95 0.95 0 1 0 1.9 0a0.95 0.95 0 1 0 -1.9 0M706.13 375.53a0.95 0.95 0 1 0 1.9 0a0.95 0.95 0 1 0 -1.9 0M709.43 378.83a0.95 0.95 0 1 0 1.9 0a0.95 0.95 0 1 0 -1.9 0M706.13 382.14a0.95 0.95 0 1 0 1.9 0a0.95 0.95 0 1 0 -1.9 0M709.43 385.44a0.95 0.95 0 1 0 1.9 0a0.95 0.95 0 1 0 -1.9 0M706.13 388.74a0.95 0.95 0 1 0 1.9 0a0.95 0.95 0 1 0 -1.9 0M709.43 392.04a0.95 0.95 0 1 0 1.9 0a0.95 0.95 0 1 0 -1.9 0M706.13 395.35a0.95 0.95 0 1 0 1.9 0a0.95 0.95 0 1 0 -1.9 0M709.43 398.65a0.95 0.95 0 1 0 1.9 0a0.95 0.95 0 1 0 -1.9 0M706.13 401.95a0.95 0.95 0 1 0 1.9 0a0.95 0.95 0 1 0 -1.9 0M709.43 405.25a0.95 0.95 0 1 0 1.9 0a0.95 0.95 0 1 0 -1.9 0M706.13 408.56a0.95 0.95 0 1 0 1.9 0a0.95 0.95 0 1 0 -1.9 0M709.43 411.86a0.95 0.95 0 1 0 1.9 0a0.95 0.95 0 1 0 -1.9 0M712.74 342.51a0.95 0.95 0 1 0 1.9 0a0.95 0.95 0 1 0 -1.9 0M716.04 345.81a0.95 0.95 0 1 0 1.9 0a0.95 0.95 0 1 0 -1.9 0M712.74 349.11a0.95 0.95 0 1 0 1.9 0a0.95 0.95 0 1 0 -1.9 0M716.04 352.41a0.95 0.95 0 1 0 1.9 0a0.95 0.95 0 1 0 -1.9 0M712.74 355.72a0.95 0.95 0 1 0 1.9 0a0.95 0.95 0 1 0 -1.9 0M716.04 359.02a0.95 0.95 0 1 0 1.9 0a0.95 0.95 0 1 0 -1.9 0M712.74 362.32a0.95 0.95 0 1 0 1.9 0a0.95 0.95 0 1 0 -1.9 0M716.04 365.62a0.95 0.95 0 1 0 1.9 0a0.95 0.95 0 1 0 -1.9 0M712.74 368.93a0.95 0.95 0 1 0 1.9 0a0.95 0.95 0 1 0 -1.9 0M716.04 372.23a0.95 0.95 0 1 0 1.9 0a0.95 0.95 0 1 0 -1.9 0M712.74 375.53a0.95 0.95 0 1 0 1.9 0a0.95 0.95 0 1 0 -1.9 0M716.04 378.83a0.95 0.95 0 1 0 1.9 0a0.95 0.95 0 1 0 -1.9 0M712.74 382.14a0.95 0.95 0 1 0 1.9 0a0.95 0.95 0 1 0 -1.9 0M716.04 385.44a0.95 0.95 0 1 0 1.9 0a0.95 0.95 0 1 0 -1.9 0M712.74 388.74a0.95 0.95 0 1 0 1.9 0a0.95 0.95 0 1 0 -1.9 0M716.04 392.04a0.95 0.95 0 1 0 1.9 0a0.95 0.95 0 1 0 -1.9 0M712.74 395.35a0.95 0.95 0 1 0 1.9 0a0.95 0.95 0 1 0 -1.9 0M716.04 398.65a0.95 0.95 0 1 0 1.9 0a0.95 0.95 0 1 0 -1.9 0M712.74 401.95a0.95 0.95 0 1 0 1.9 0a0.95 0.95 0 1 0 -1.9 0M716.04 405.25a0.95 0.95 0 1 0 1.9 0a0.95 0.95 0 1 0 -1.9 0M712.74 408.56a0.95 0.95 0 1 0 1.9 0a0.95 0.95 0 1 0 -1.9 0M716.04 411.86a0.95 0.95 0 1 0 1.9 0a0.95 0.95 0 1 0 -1.9 0M719.34 342.51a0.95 0.95 0 1 0 1.9 0a0.95 0.95 0 1 0 -1.9 0M722.64 345.81a0.95 0.95 0 1 0 1.9 0a0.95 0.95 0 1 0 -1.9 0M719.34 349.11a0.95 0.95 0 1 0 1.9 0a0.95 0.95 0 1 0 -1.9 0M722.64 352.41a0.95 0.95 0 1 0 1.9 0a0.95 0.95 0 1 0 -1.9 0M719.34 355.72a0.95 0.95 0 1 0 1.9 0a0.95 0.95 0 1 0 -1.9 0M722.64 359.02a0.95 0.95 0 1 0 1.9 0a0.95 0.95 0 1 0 -1.9 0M719.34 362.32a0.95 0.95 0 1 0 1.9 0a0.95 0.95 0 1 0 -1.9 0M722.64 365.62a0.95 0.95 0 1 0 1.9 0a0.95 0.95 0 1 0 -1.9 0M719.34 368.93a0.95 0.95 0 1 0 1.9 0a0.95 0.95 0 1 0 -1.9 0M722.64 372.23a0.95 0.95 0 1 0 1.9 0a0.95 0.95 0 1 0 -1.9 0M719.34 375.53a0.95 0.95 0 1 0 1.9 0a0.95 0.95 0 1 0 -1.9 0M722.64 378.83a0.95 0.95 0 1 0 1.9 0a0.95 0.95 0 1 0 -1.9 0M719.34 382.14a0.95 0.95 0 1 0 1.9 0a0.95 0.95 0 1 0 -1.9 0M722.64 385.44a0.95 0.95 0 1 0 1.9 0a0.95 0.95 0 1 0 -1.9 0M719.34 388.74a0.95 0.95 0 1 0 1.9 0a0.95 0.95 0 1 0 -1.9 0M722.64 392.04a0.95 0.95 0 1 0 1.9 0a0.95 0.95 0 1 0 -1.9 0M719.34 395.35a0.95 0.95 0 1 0 1.9 0a0.95 0.95 0 1 0 -1.9 0M722.64 398.65a0.95 0.95 0 1 0 1.9 0a0.95 0.95 0 1 0 -1.9 0M719.34 401.95a0.95 0.95 0 1 0 1.9 0a0.95 0.95 0 1 0 -1.9 0M722.64 405.25a0.95 0.95 0 1 0 1.9 0a0.95 0.95 0 1 0 -1.9 0M719.34 408.56a0.95 0.95 0 1 0 1.9 0a0.95 0.95 0 1 0 -1.9 0M722.64 411.86a0.95 0.95 0 1 0 1.9 0a0.95 0.95 0 1 0 -1.9 0M725.95 342.51a0.95 0.95 0 1 0 1.9 0a0.95 0.95 0 1 0 -1.9 0M729.25 345.81a0.95 0.95 0 1 0 1.9 0a0.95 0.95 0 1 0 -1.9 0M725.95 349.11a0.95 0.95 0 1 0 1.9 0a0.95 0.95 0 1 0 -1.9 0M729.25 352.41a0.95 0.95 0 1 0 1.9 0a0.95 0.95 0 1 0 -1.9 0M725.95 355.72a0.95 0.95 0 1 0 1.9 0a0.95 0.95 0 1 0 -1.9 0M729.25 359.02a0.95 0.95 0 1 0 1.9 0a0.95 0.95 0 1 0 -1.9 0M725.95 362.32a0.95 0.95 0 1 0 1.9 0a0.95 0.95 0 1 0 -1.9 0M729.25 365.62a0.95 0.95 0 1 0 1.9 0a0.95 0.95 0 1 0 -1.9 0M725.95 368.93a0.95 0.95 0 1 0 1.9 0a0.95 0.95 0 1 0 -1.9 0M729.25 372.23a0.95 0.95 0 1 0 1.9 0a0.95 0.95 0 1 0 -1.9 0M725.95 375.53a0.95 0.95 0 1 0 1.9 0a0.95 0.95 0 1 0 -1.9 0M729.25 378.83a0.95 0.95 0 1 0 1.9 0a0.95 0.95 0 1 0 -1.9 0M725.95 382.14a0.95 0.95 0 1 0 1.9 0a0.95 0.95 0 1 0 -1.9 0M729.25 385.44a0.95 0.95 0 1 0 1.9 0a0.95 0.95 0 1 0 -1.9 0M725.95 388.74a0.95 0.95 0 1 0 1.9 0a0.95 0.95 0 1 0 -1.9 0M729.25 392.04a0.95 0.95 0 1 0 1.9 0a0.95 0.95 0 1 0 -1.9 0M725.95 395.35a0.95 0.95 0 1 0 1.9 0a0.95 0.95 0 1 0 -1.9 0M729.25 398.65a0.95 0.95 0 1 0 1.9 0a0.95 0.95 0 1 0 -1.9 0M725.95 401.95a0.95 0.95 0 1 0 1.9 0a0.95 0.95 0 1 0 -1.9 0M729.25 405.25a0.95 0.95 0 1 0 1.9 0a0.95 0.95 0 1 0 -1.9 0M725.95 408.56a0.95 0.95 0 1 0 1.9 0a0.95 0.95 0 1 0 -1.9 0M729.25 411.86a0.95 0.95 0 1 0 1.9 0a0.95 0.95 0 1 0 -1.9 0"/>
<rect x="701.56" y="342.80" width="28.10" height="68.80" fill="none" stroke="#000" stroke-width="3.0" stroke-linejoin="round"/>
<text x="707.70" y="329.66" font-size="24" textLength="14.79" lengthAdjust="spacingAndGlyphs">b</text>
<line x1="751.31" y1="314.30" x2="751.31" y2="300.90" stroke="#000" stroke-width="1.8"/>
<line x1="747.06" y1="300.90" x2="755.56" y2="300.90" stroke="#000" stroke-width="1.9" stroke-linecap="round"/>
<rect x="737.26" y="312.80" width="28.10" height="98.80" fill="#000" stroke="#000" stroke-width="3.0" stroke-linejoin="round"/>
<text x="735.79" y="289.46" font-size="24" textLength="25.04" lengthAdjust="spacingAndGlyphs">bc</text>
<line x1="787.01" y1="340.20" x2="787.01" y2="320.80" stroke="#000" stroke-width="1.8"/>
<line x1="782.76" y1="320.80" x2="791.26" y2="320.80" stroke="#000" stroke-width="1.9" stroke-linecap="round"/>
<rect x="772.96" y="338.70" width="28.10" height="72.90" fill="#a6a6a6" stroke="#000" stroke-width="3.0" stroke-linejoin="round"/>
<line x1="782.76" y1="340.40" x2="791.26" y2="340.40" stroke="#000" stroke-width="1.2" stroke-linecap="round"/>
<text x="770.05" y="306.06" font-size="24" textLength="25.59" lengthAdjust="spacingAndGlyphs">bc</text>
<line x1="822.71" y1="340.30" x2="822.71" y2="329.10" stroke="#000" stroke-width="1.8"/>
<line x1="818.46" y1="329.10" x2="826.96" y2="329.10" stroke="#000" stroke-width="1.9" stroke-linecap="round"/>
<rect x="808.66" y="338.80" width="28.10" height="72.80" fill="#fff" stroke="#000" stroke-width="3.0" stroke-linejoin="round"/>
<line x1="818.46" y1="340.50" x2="826.96" y2="340.50" stroke="#000" stroke-width="1.2" stroke-linecap="round"/>
<text x="813.14" y="316.86" font-size="24" textLength="14.43" lengthAdjust="spacingAndGlyphs">b</text>
<line x1="912.37" y1="332.30" x2="912.37" y2="320.00" stroke="#000" stroke-width="1.8"/>
<line x1="908.12" y1="320.00" x2="916.62" y2="320.00" stroke="#000" stroke-width="1.9" stroke-linecap="round"/>
<rect x="898.32" y="330.80" width="28.10" height="80.80" fill="#fff"/>
<clipPath id="c81"><rect x="898.32" y="330.80" width="28.10" height="80.80"/></clipPath>
<path clip-path="url(#c81)" fill="#000" d="M899.33 330.95a0.95 0.95 0 1 0 1.9 0a0.95 0.95 0 1 0 -1.9 0M899.33 334.25a0.95 0.95 0 1 0 1.9 0a0.95 0.95 0 1 0 -1.9 0M899.33 337.55a0.95 0.95 0 1 0 1.9 0a0.95 0.95 0 1 0 -1.9 0M899.33 340.86a0.95 0.95 0 1 0 1.9 0a0.95 0.95 0 1 0 -1.9 0M899.33 344.16a0.95 0.95 0 1 0 1.9 0a0.95 0.95 0 1 0 -1.9 0M899.33 347.46a0.95 0.95 0 1 0 1.9 0a0.95 0.95 0 1 0 -1.9 0M899.33 350.76a0.95 0.95 0 1 0 1.9 0a0.95 0.95 0 1 0 -1.9 0M899.33 354.06a0.95 0.95 0 1 0 1.9 0a0.95 0.95 0 1 0 -1.9 0M899.33 357.37a0.95 0.95 0 1 0 1.9 0a0.95 0.95 0 1 0 -1.9 0M899.33 360.67a0.95 0.95 0 1 0 1.9 0a0.95 0.95 0 1 0 -1.9 0M899.33 363.97a0.95 0.95 0 1 0 1.9 0a0.95 0.95 0 1 0 -1.9 0M899.33 367.28a0.95 0.95 0 1 0 1.9 0a0.95 0.95 0 1 0 -1.9 0M899.33 370.58a0.95 0.95 0 1 0 1.9 0a0.95 0.95 0 1 0 -1.9 0M899.33 373.88a0.95 0.95 0 1 0 1.9 0a0.95 0.95 0 1 0 -1.9 0M899.33 377.18a0.95 0.95 0 1 0 1.9 0a0.95 0.95 0 1 0 -1.9 0M899.33 380.49a0.95 0.95 0 1 0 1.9 0a0.95 0.95 0 1 0 -1.9 0M899.33 383.79a0.95 0.95 0 1 0 1.9 0a0.95 0.95 0 1 0 -1.9 0M899.33 387.09a0.95 0.95 0 1 0 1.9 0a0.95 0.95 0 1 0 -1.9 0M899.33 390.39a0.95 0.95 0 1 0 1.9 0a0.95 0.95 0 1 0 -1.9 0M899.33 393.70a0.95 0.95 0 1 0 1.9 0a0.95 0.95 0 1 0 -1.9 0M899.33 397.00a0.95 0.95 0 1 0 1.9 0a0.95 0.95 0 1 0 -1.9 0M899.33 400.30a0.95 0.95 0 1 0 1.9 0a0.95 0.95 0 1 0 -1.9 0M899.33 403.60a0.95 0.95 0 1 0 1.9 0a0.95 0.95 0 1 0 -1.9 0M899.33 406.91a0.95 0.95 0 1 0 1.9 0a0.95 0.95 0 1 0 -1.9 0M899.33 410.21a0.95 0.95 0 1 0 1.9 0a0.95 0.95 0 1 0 -1.9 0M902.63 330.95a0.95 0.95 0 1 0 1.9 0a0.95 0.95 0 1 0 -1.9 0M902.63 334.25a0.95 0.95 0 1 0 1.9 0a0.95 0.95 0 1 0 -1.9 0M902.63 337.55a0.95 0.95 0 1 0 1.9 0a0.95 0.95 0 1 0 -1.9 0M902.63 340.86a0.95 0.95 0 1 0 1.9 0a0.95 0.95 0 1 0 -1.9 0M902.63 344.16a0.95 0.95 0 1 0 1.9 0a0.95 0.95 0 1 0 -1.9 0M902.63 347.46a0.95 0.95 0 1 0 1.9 0a0.95 0.95 0 1 0 -1.9 0M902.63 350.76a0.95 0.95 0 1 0 1.9 0a0.95 0.95 0 1 0 -1.9 0M902.63 354.06a0.95 0.95 0 1 0 1.9 0a0.95 0.95 0 1 0 -1.9 0M902.63 357.37a0.95 0.95 0 1 0 1.9 0a0.95 0.95 0 1 0 -1.9 0M902.63 360.67a0.95 0.95 0 1 0 1.9 0a0.95 0.95 0 1 0 -1.9 0M902.63 363.97a0.95 0.95 0 1 0 1.9 0a0.95 0.95 0 1 0 -1.9 0M902.63 367.28a0.95 0.95 0 1 0 1.9 0a0.95 0.95 0 1 0 -1.9 0M902.63 370.58a0.95 0.95 0 1 0 1.9 0a0.95 0.95 0 1 0 -1.9 0M902.63 373.88a0.95 0.95 0 1 0 1.9 0a0.95 0.95 0 1 0 -1.9 0M902.63 377.18a0.95 0.95 0 1 0 1.9 0a0.95 0.95 0 1 0 -1.9 0M902.63 380.49a0.95 0.95 0 1 0 1.9 0a0.95 0.95 0 1 0 -1.9 0M902.63 383.79a0.95 0.95 0 1 0 1.9 0a0.95 0.95 0 1 0 -1.9 0M902.63 387.09a0.95 0.95 0 1 0 1.9 0a0.95 0.95 0 1 0 -1.9 0M902.63 390.39a0.95 0.95 0 1 0 1.9 0a0.95 0.95 0 1 0 -1.9 0M902.63 393.70a0.95 0.95 0 1 0 1.9 0a0.95 0.95 0 1 0 -1.9 0M902.63 397.00a0.95 0.95 0 1 0 1.9 0a0.95 0.95 0 1 0 -1.9 0M902.63 400.30a0.95 0.95 0 1 0 1.9 0a0.95 0.95 0 1 0 -1.9 0M902.63 403.60a0.95 0.95 0 1 0 1.9 0a0.95 0.95 0 1 0 -1.9 0M902.63 406.91a0.95 0.95 0 1 0 1.9 0a0.95 0.95 0 1 0 -1.9 0M902.63 410.21a0.95 0.95 0 1 0 1.9 0a0.95 0.95 0 1 0 -1.9 0M905.93 330.95a0.95 0.95 0 1 0 1.9 0a0.95 0.95 0 1 0 -1.9 0M905.93 334.25a0.95 0.95 0 1 0 1.9 0a0.95 0.95 0 1 0 -1.9 0M905.93 337.55a0.95 0.95 0 1 0 1.9 0a0.95 0.95 0 1 0 -1.9 0M905.93 340.86a0.95 0.95 0 1 0 1.9 0a0.95 0.95 0 1 0 -1.9 0M905.93 344.16a0.95 0.95 0 1 0 1.9 0a0.95 0.95 0 1 0 -1.9 0M905.93 347.46a0.95 0.95 0 1 0 1.9 0a0.95 0.95 0 1 0 -1.9 0M905.93 350.76a0.95 0.95 0 1 0 1.9 0a0.95 0.95 0 1 0 -1.9 0M905.93 354.06a0.95 0.95 0 1 0 1.9 0a0.95 0.95 0 1 0 -1.9 0M905.93 357.37a0.95 0.95 0 1 0 1.9 0a0.95 0.95 0 1 0 -1.9 0M905.93 360.67a0.95 0.95 0 1 0 1.9 0a0.95 0.95 0 1 0 -1.9 0M905.93 363.97a0.95 0.95 0 1 0 1.9 0a0.95 0.95 0 1 0 -1.9 0M905.93 367.28a0.95 0.95 0 1 0 1.9 0a0.95 0.95 0 1 0 -1.9 0M905.93 370.58a0.95 0.95 0 1 0 1.9 0a0.95 0.95 0 1 0 -1.9 0M905.93 373.88a0.95 0.95 0 1 0 1.9 0a0.95 0.95 0 1 0 -1.9 0M905.93 377.18a0.95 0.95 0 1 0 1.9 0a0.95 0.95 0 1 0 -1.9 0M905.93 380.49a0.95 0.95 0 1 0 1.9 0a0.95 0.95 0 1 0 -1.9 0M905.93 383.79a0.95 0.95 0 1 0 1.9 0a0.95 0.95 0 1 0 -1.9 0M905.93 387.09a0.95 0.95 0 1 0 1.9 0a0.95 0.95 0 1 0 -1.9 0M905.93 390.39a0.95 0.95 0 1 0 1.9 0a0.95 0.95 0 1 0 -1.9 0M905.93 393.70a0.95 0.95 0 1 0 1.9 0a0.95 0.95 0 1 0 -1.9 0M905.93 397.00a0.95 0.95 0 1 0 1.9 0a0.95 0.95 0 1 0 -1.9 0M905.93 400.30a0.95 0.95 0 1 0 1.9 0a0.95 0.95 0 1 0 -1.9 0M905.93 403.60a0.95 0.95 0 1 0 1.9 0a0.95 0.95 0 1 0 -1.9 0M905.93 406.91a0.95 0.95 0 1 0 1.9 0a0.95 0.95 0 1 0 -1.9 0M905.93 410.21a0.95 0.95 0 1 0 1.9 0a0.95 0.95 0 1 0 -1.9 0M909.24 330.95a0.95 0.95 0 1 0 1.9 0a0.95 0.95 0 1 0 -1.9 0M909.24 334.25a0.95 0.95 0 1 0 1.9 0a0.95 0.95 0 1 0 -1.9 0M909.24 337.55a0.95 0.95 0 1 0 1.9 0a0.95 0.95 0 1 0 -1.9 0M909.24 340.86a0.95 0.95 0 1 0 1.9 0a0.95 0.95 0 1 0 -1.9 0M909.24 344.16a0.95 0.95 0 1 0 1.9 0a0.95 0.95 0 1 0 -1.9 0M909.24 347.46a0.95 0.95 0 1 0 1.9 0a0.95 0.95 0 1 0 -1.9 0M909.24 350.76a0.95 0.95 0 1 0 1.9 0a0.95 0.95 0 1 0 -1.9 0M909.24 354.06a0.95 0.95 0 1 0 1.9 0a0.95 0.95 0 1 0 -1.9 0M909.24 357.37a0.95 0.95 0 1 0 1.9 0a0.95 0.95 0 1 0 -1.9 0M909.24 360.67a0.95 0.95 0 1 0 1.9 0a0.95 0.95 0 1 0 -1.9 0M909.24 363.97a0.95 0.95 0 1 0 1.9 0a0.95 0.95 0 1 0 -1.9 0M909.24 367.28a0.95 0.95 0 1 0 1.9 0a0.95 0.95 0 1 0 -1.9 0M909.24 370.58a0.95 0.95 0 1 0 1.9 0a0.95 0.95 0 1 0 -1.9 0M909.24 373.88a0.95 0.95 0 1 0 1.9 0a0.95 0.95 0 1 0 -1.9 0M909.24 377.18a0.95 0.95 0 1 0 1.9 0a0.95 0.95 0 1 0 -1.9 0M909.24 380.49a0.95 0.95 0 1 0 1.9 0a0.95 0.95 0 1 0 -1.9 0M909.24 383.79a0.95 0.95 0 1 0 1.9 0a0.95 0.95 0 1 0 -1.9 0M909.24 387.09a0.95 0.95 0 1 0 1.9 0a0.95 0.95 0 1 0 -1.9 0M909.24 390.39a0.95 0.95 0 1 0 1.9 0a0.95 0.95 0 1 0 -1.9 0M909.24 393.70a0.95 0.95 0 1 0 1.9 0a0.95 0.95 0 1 0 -1.9 0M909.24 397.00a0.95 0.95 0 1 0 1.9 0a0.95 0.95 0 1 0 -1.9 0M909.24 400.30a0.95 0.95 0 1 0 1.9 0a0.95 0.95 0 1 0 -1.9 0M909.24 403.60a0.95 0.95 0 1 0 1.9 0a0.95 0.95 0 1 0 -1.9 0M909.24 406.91a0.95 0.95 0 1 0 1.9 0a0.95 0.95 0 1 0 -1.9 0M909.24 410.21a0.95 0.95 0 1 0 1.9 0a0.95 0.95 0 1 0 -1.9 0M912.54 330.95a0.95 0.95 0 1 0 1.9 0a0.95 0.95 0 1 0 -1.9 0M912.54 334.25a0.95 0.95 0 1 0 1.9 0a0.95 0.95 0 1 0 -1.9 0M912.54 337.55a0.95 0.95 0 1 0 1.9 0a0.95 0.95 0 1 0 -1.9 0M912.54 340.86a0.95 0.95 0 1 0 1.9 0a0.95 0.95 0 1 0 -1.9 0M912.54 344.16a0.95 0.95 0 1 0 1.9 0a0.95 0.95 0 1 0 -1.9 0M912.54 347.46a0.95 0.95 0 1 0 1.9 0a0.95 0.95 0 1 0 -1.9 0M912.54 350.76a0.95 0.95 0 1 0 1.9 0a0.95 0.95 0 1 0 -1.9 0M912.54 354.06a0.95 0.95 0 1 0 1.9 0a0.95 0.95 0 1 0 -1.9 0M912.54 357.37a0.95 0.95 0 1 0 1.9 0a0.95 0.95 0 1 0 -1.9 0M912.54 360.67a0.95 0.95 0 1 0 1.9 0a0.95 0.95 0 1 0 -1.9 0M912.54 363.97a0.95 0.95 0 1 0 1.9 0a0.95 0.95 0 1 0 -1.9 0M912.54 367.28a0.95 0.95 0 1 0 1.9 0a0.95 0.95 0 1 0 -1.9 0M912.54 370.58a0.95 0.95 0 1 0 1.9 0a0.95 0.95 0 1 0 -1.9 0M912.54 373.88a0.95 0.95 0 1 0 1.9 0a0.95 0.95 0 1 0 -1.9 0M912.54 377.18a0.95 0.95 0 1 0 1.9 0a0.95 0.95 0 1 0 -1.9 0M912.54 380.49a0.95 0.95 0 1 0 1.9 0a0.95 0.95 0 1 0 -1.9 0M912.54 383.79a0.95 0.95 0 1 0 1.9 0a0.95 0.95 0 1 0 -1.9 0M912.54 387.09a0.95 0.95 0 1 0 1.9 0a0.95 0.95 0 1 0 -1.9 0M912.54 390.39a0.95 0.95 0 1 0 1.9 0a0.95 0.95 0 1 0 -1.9 0M912.54 393.70a0.95 0.95 0 1 0 1.9 0a0.95 0.95 0 1 0 -1.9 0M912.54 397.00a0.95 0.95 0 1 0 1.9 0a0.95 0.95 0 1 0 -1.9 0M912.54 400.30a0.95 0.95 0 1 0 1.9 0a0.95 0.95 0 1 0 -1.9 0M912.54 403.60a0.95 0.95 0 1 0 1.9 0a0.95 0.95 0 1 0 -1.9 0M912.54 406.91a0.95 0.95 0 1 0 1.9 0a0.95 0.95 0 1 0 -1.9 0M912.54 410.21a0.95 0.95 0 1 0 1.9 0a0.95 0.95 0 1 0 -1.9 0M915.84 330.95a0.95 0.95 0 1 0 1.9 0a0.95 0.95 0 1 0 -1.9 0M915.84 334.25a0.95 0.95 0 1 0 1.9 0a0.95 0.95 0 1 0 -1.9 0M915.84 337.55a0.95 0.95 0 1 0 1.9 0a0.95 0.95 0 1 0 -1.9 0M915.84 340.86a0.95 0.95 0 1 0 1.9 0a0.95 0.95 0 1 0 -1.9 0M915.84 344.16a0.95 0.95 0 1 0 1.9 0a0.95 0.95 0 1 0 -1.9 0M915.84 347.46a0.95 0.95 0 1 0 1.9 0a0.95 0.95 0 1 0 -1.9 0M915.84 350.76a0.95 0.95 0 1 0 1.9 0a0.95 0.95 0 1 0 -1.9 0M915.84 354.06a0.95 0.95 0 1 0 1.9 0a0.95 0.95 0 1 0 -1.9 0M915.84 357.37a0.95 0.95 0 1 0 1.9 0a0.95 0.95 0 1 0 -1.9 0M915.84 360.67a0.95 0.95 0 1 0 1.9 0a0.95 0.95 0 1 0 -1.9 0M915.84 363.97a0.95 0.95 0 1 0 1.9 0a0.95 0.95 0 1 0 -1.9 0M915.84 367.28a0.95 0.95 0 1 0 1.9 0a0.95 0.95 0 1 0 -1.9 0M915.84 370.58a0.95 0.95 0 1 0 1.9 0a0.95 0.95 0 1 0 -1.9 0M915.84 373.88a0.95 0.95 0 1 0 1.9 0a0.95 0.95 0 1 0 -1.9 0M915.84 377.18a0.95 0.95 0 1 0 1.9 0a0.95 0.95 0 1 0 -1.9 0M915.84 380.49a0.95 0.95 0 1 0 1.9 0a0.95 0.95 0 1 0 -1.9 0M915.84 383.79a0.95 0.95 0 1 0 1.9 0a0.95 0.95 0 1 0 -1.9 0M915.84 387.09a0.95 0.95 0 1 0 1.9 0a0.95 0.95 0 1 0 -1.9 0M915.84 390.39a0.95 0.95 0 1 0 1.9 0a0.95 0.95 0 1 0 -1.9 0M915.84 393.70a0.95 0.95 0 1 0 1.9 0a0.95 0.95 0 1 0 -1.9 0M915.84 397.00a0.95 0.95 0 1 0 1.9 0a0.95 0.95 0 1 0 -1.9 0M915.84 400.30a0.95 0.95 0 1 0 1.9 0a0.95 0.95 0 1 0 -1.9 0M915.84 403.60a0.95 0.95 0 1 0 1.9 0a0.95 0.95 0 1 0 -1.9 0M915.84 406.91a0.95 0.95 0 1 0 1.9 0a0.95 0.95 0 1 0 -1.9 0M915.84 410.21a0.95 0.95 0 1 0 1.9 0a0.95 0.95 0 1 0 -1.9 0M919.14 330.95a0.95 0.95 0 1 0 1.9 0a0.95 0.95 0 1 0 -1.9 0M919.14 334.25a0.95 0.95 0 1 0 1.9 0a0.95 0.95 0 1 0 -1.9 0M919.14 337.55a0.95 0.95 0 1 0 1.9 0a0.95 0.95 0 1 0 -1.9 0M919.14 340.86a0.95 0.95 0 1 0 1.9 0a0.95 0.95 0 1 0 -1.9 0M919.14 344.16a0.95 0.95 0 1 0 1.9 0a0.95 0.95 0 1 0 -1.9 0M919.14 347.46a0.95 0.95 0 1 0 1.9 0a0.95 0.95 0 1 0 -1.9 0M919.14 350.76a0.95 0.95 0 1 0 1.9 0a0.95 0.95 0 1 0 -1.9 0M919.14 354.06a0.95 0.95 0 1 0 1.9 0a0.95 0.95 0 1 0 -1.9 0M919.14 357.37a0.95 0.95 0 1 0 1.9 0a0.95 0.95 0 1 0 -1.9 0M919.14 360.67a0.95 0.95 0 1 0 1.9 0a0.95 0.95 0 1 0 -1.9 0M919.14 363.97a0.95 0.95 0 1 0 1.9 0a0.95 0.95 0 1 0 -1.9 0M919.14 367.28a0.95 0.95 0 1 0 1.9 0a0.95 0.95 0 1 0 -1.9 0M919.14 370.58a0.95 0.95 0 1 0 1.9 0a0.95 0.95 0 1 0 -1.9 0M919.14 373.88a0.95 0.95 0 1 0 1.9 0a0.95 0.95 0 1 0 -1.9 0M919.14 377.18a0.95 0.95 0 1 0 1.9 0a0.95 0.95 0 1 0 -1.9 0M919.14 380.49a0.95 0.95 0 1 0 1.9 0a0.95 0.95 0 1 0 -1.9 0M919.14 383.79a0.95 0.95 0 1 0 1.9 0a0.95 0.95 0 1 0 -1.9 0M919.14 387.09a0.95 0.95 0 1 0 1.9 0a0.95 0.95 0 1 0 -1.9 0M919.14 390.39a0.95 0.95 0 1 0 1.9 0a0.95 0.95 0 1 0 -1.9 0M919.14 393.70a0.95 0.95 0 1 0 1.9 0a0.95 0.95 0 1 0 -1.9 0M919.14 397.00a0.95 0.95 0 1 0 1.9 0a0.95 0.95 0 1 0 -1.9 0M919.14 400.30a0.95 0.95 0 1 0 1.9 0a0.95 0.95 0 1 0 -1.9 0M919.14 403.60a0.95 0.95 0 1 0 1.9 0a0.95 0.95 0 1 0 -1.9 0M919.14 406.91a0.95 0.95 0 1 0 1.9 0a0.95 0.95 0 1 0 -1.9 0M919.14 410.21a0.95 0.95 0 1 0 1.9 0a0.95 0.95 0 1 0 -1.9 0M922.44 330.95a0.95 0.95 0 1 0 1.9 0a0.95 0.95 0 1 0 -1.9 0M922.44 334.25a0.95 0.95 0 1 0 1.9 0a0.95 0.95 0 1 0 -1.9 0M922.44 337.55a0.95 0.95 0 1 0 1.9 0a0.95 0.95 0 1 0 -1.9 0M922.44 340.86a0.95 0.95 0 1 0 1.9 0a0.95 0.95 0 1 0 -1.9 0M922.44 344.16a0.95 0.95 0 1 0 1.9 0a0.95 0.95 0 1 0 -1.9 0M922.44 347.46a0.95 0.95 0 1 0 1.9 0a0.95 0.95 0 1 0 -1.9 0M922.44 350.76a0.95 0.95 0 1 0 1.9 0a0.95 0.95 0 1 0 -1.9 0M922.44 354.06a0.95 0.95 0 1 0 1.9 0a0.95 0.95 0 1 0 -1.9 0M922.44 357.37a0.95 0.95 0 1 0 1.9 0a0.95 0.95 0 1 0 -1.9 0M922.44 360.67a0.95 0.95 0 1 0 1.9 0a0.95 0.95 0 1 0 -1.9 0M922.44 363.97a0.95 0.95 0 1 0 1.9 0a0.95 0.95 0 1 0 -1.9 0M922.44 367.28a0.95 0.95 0 1 0 1.9 0a0.95 0.95 0 1 0 -1.9 0M922.44 370.58a0.95 0.95 0 1 0 1.9 0a0.95 0.95 0 1 0 -1.9 0M922.44 373.88a0.95 0.95 0 1 0 1.9 0a0.95 0.95 0 1 0 -1.9 0M922.44 377.18a0.95 0.95 0 1 0 1.9 0a0.95 0.95 0 1 0 -1.9 0M922.44 380.49a0.95 0.95 0 1 0 1.9 0a0.95 0.95 0 1 0 -1.9 0M922.44 383.79a0.95 0.95 0 1 0 1.9 0a0.95 0.95 0 1 0 -1.9 0M922.44 387.09a0.95 0.95 0 1 0 1.9 0a0.95 0.95 0 1 0 -1.9 0M922.44 390.39a0.95 0.95 0 1 0 1.9 0a0.95 0.95 0 1 0 -1.9 0M922.44 393.70a0.95 0.95 0 1 0 1.9 0a0.95 0.95 0 1 0 -1.9 0M922.44 397.00a0.95 0.95 0 1 0 1.9 0a0.95 0.95 0 1 0 -1.9 0M922.44 400.30a0.95 0.95 0 1 0 1.9 0a0.95 0.95 0 1 0 -1.9 0M922.44 403.60a0.95 0.95 0 1 0 1.9 0a0.95 0.95 0 1 0 -1.9 0M922.44 406.91a0.95 0.95 0 1 0 1.9 0a0.95 0.95 0 1 0 -1.9 0M922.44 410.21a0.95 0.95 0 1 0 1.9 0a0.95 0.95 0 1 0 -1.9 0M925.75 330.95a0.95 0.95 0 1 0 1.9 0a0.95 0.95 0 1 0 -1.9 0M925.75 334.25a0.95 0.95 0 1 0 1.9 0a0.95 0.95 0 1 0 -1.9 0M925.75 337.55a0.95 0.95 0 1 0 1.9 0a0.95 0.95 0 1 0 -1.9 0M925.75 340.86a0.95 0.95 0 1 0 1.9 0a0.95 0.95 0 1 0 -1.9 0M925.75 344.16a0.95 0.95 0 1 0 1.9 0a0.95 0.95 0 1 0 -1.9 0M925.75 347.46a0.95 0.95 0 1 0 1.9 0a0.95 0.95 0 1 0 -1.9 0M925.75 350.76a0.95 0.95 0 1 0 1.9 0a0.95 0.95 0 1 0 -1.9 0M925.75 354.06a0.95 0.95 0 1 0 1.9 0a0.95 0.95 0 1 0 -1.9 0M925.75 357.37a0.95 0.95 0 1 0 1.9 0a0.95 0.95 0 1 0 -1.9 0M925.75 360.67a0.95 0.95 0 1 0 1.9 0a0.95 0.95 0 1 0 -1.9 0M925.75 363.97a0.95 0.95 0 1 0 1.9 0a0.95 0.95 0 1 0 -1.9 0M925.75 367.28a0.95 0.95 0 1 0 1.9 0a0.95 0.95 0 1 0 -1.9 0M925.75 370.58a0.95 0.95 0 1 0 1.9 0a0.95 0.95 0 1 0 -1.9 0M925.75 373.88a0.95 0.95 0 1 0 1.9 0a0.95 0.95 0 1 0 -1.9 0M925.75 377.18a0.95 0.95 0 1 0 1.9 0a0.95 0.95 0 1 0 -1.9 0M925.75 380.49a0.95 0.95 0 1 0 1.9 0a0.95 0.95 0 1 0 -1.9 0M925.75 383.79a0.95 0.95 0 1 0 1.9 0a0.95 0.95 0 1 0 -1.9 0M925.75 387.09a0.95 0.95 0 1 0 1.9 0a0.95 0.95 0 1 0 -1.9 0M925.75 390.39a0.95 0.95 0 1 0 1.9 0a0.95 0.95 0 1 0 -1.9 0M925.75 393.70a0.95 0.95 0 1 0 1.9 0a0.95 0.95 0 1 0 -1.9 0M925.75 397.00a0.95 0.95 0 1 0 1.9 0a0.95 0.95 0 1 0 -1.9 0M925.75 400.30a0.95 0.95 0 1 0 1.9 0a0.95 0.95 0 1 0 -1.9 0M925.75 403.60a0.95 0.95 0 1 0 1.9 0a0.95 0.95 0 1 0 -1.9 0M925.75 406.91a0.95 0.95 0 1 0 1.9 0a0.95 0.95 0 1 0 -1.9 0M925.75 410.21a0.95 0.95 0 1 0 1.9 0a0.95 0.95 0 1 0 -1.9 0M900.98 332.60a0.95 0.95 0 1 0 1.9 0a0.95 0.95 0 1 0 -1.9 0M897.68 335.90a0.95 0.95 0 1 0 1.9 0a0.95 0.95 0 1 0 -1.9 0M900.98 339.20a0.95 0.95 0 1 0 1.9 0a0.95 0.95 0 1 0 -1.9 0M897.68 342.51a0.95 0.95 0 1 0 1.9 0a0.95 0.95 0 1 0 -1.9 0M900.98 345.81a0.95 0.95 0 1 0 1.9 0a0.95 0.95 0 1 0 -1.9 0M897.68 349.11a0.95 0.95 0 1 0 1.9 0a0.95 0.95 0 1 0 -1.9 0M900.98 352.41a0.95 0.95 0 1 0 1.9 0a0.95 0.95 0 1 0 -1.9 0M897.68 355.72a0.95 0.95 0 1 0 1.9 0a0.95 0.95 0 1 0 -1.9 0M900.98 359.02a0.95 0.95 0 1 0 1.9 0a0.95 0.95 0 1 0 -1.9 0M897.68 362.32a0.95 0.95 0 1 0 1.9 0a0.95 0.95 0 1 0 -1.9 0M900.98 365.62a0.95 0.95 0 1 0 1.9 0a0.95 0.95 0 1 0 -1.9 0M897.68 368.93a0.95 0.95 0 1 0 1.9 0a0.95 0.95 0 1 0 -1.9 0M900.98 372.23a0.95 0.95 0 1 0 1.9 0a0.95 0.95 0 1 0 -1.9 0M897.68 375.53a0.95 0.95 0 1 0 1.9 0a0.95 0.95 0 1 0 -1.9 0M900.98 378.83a0.95 0.95 0 1 0 1.9 0a0.95 0.95 0 1 0 -1.9 0M897.68 382.14a0.95 0.95 0 1 0 1.9 0a0.95 0.95 0 1 0 -1.9 0M900.98 385.44a0.95 0.95 0 1 0 1.9 0a0.95 0.95 0 1 0 -1.9 0M897.68 388.74a0.95 0.95 0 1 0 1.9 0a0.95 0.95 0 1 0 -1.9 0M900.98 392.04a0.95 0.95 0 1 0 1.9 0a0.95 0.95 0 1 0 -1.9 0M897.68 395.35a0.95 0.95 0 1 0 1.9 0a0.95 0.95 0 1 0 -1.9 0M900.98 398.65a0.95 0.95 0 1 0 1.9 0a0.95 0.95 0 1 0 -1.9 0M897.68 401.95a0.95 0.95 0 1 0 1.9 0a0.95 0.95 0 1 0 -1.9 0M900.98 405.25a0.95 0.95 0 1 0 1.9 0a0.95 0.95 0 1 0 -1.9 0M897.68 408.56a0.95 0.95 0 1 0 1.9 0a0.95 0.95 0 1 0 -1.9 0M900.98 411.86a0.95 0.95 0 1 0 1.9 0a0.95 0.95 0 1 0 -1.9 0M907.58 332.60a0.95 0.95 0 1 0 1.9 0a0.95 0.95 0 1 0 -1.9 0M904.28 335.90a0.95 0.95 0 1 0 1.9 0a0.95 0.95 0 1 0 -1.9 0M907.58 339.20a0.95 0.95 0 1 0 1.9 0a0.95 0.95 0 1 0 -1.9 0M904.28 342.51a0.95 0.95 0 1 0 1.9 0a0.95 0.95 0 1 0 -1.9 0M907.58 345.81a0.95 0.95 0 1 0 1.9 0a0.95 0.95 0 1 0 -1.9 0M904.28 349.11a0.95 0.95 0 1 0 1.9 0a0.95 0.95 0 1 0 -1.9 0M907.58 352.41a0.95 0.95 0 1 0 1.9 0a0.95 0.95 0 1 0 -1.9 0M904.28 355.72a0.95 0.95 0 1 0 1.9 0a0.95 0.95 0 1 0 -1.9 0M907.58 359.02a0.95 0.95 0 1 0 1.9 0a0.95 0.95 0 1 0 -1.9 0M904.28 362.32a0.95 0.95 0 1 0 1.9 0a0.95 0.95 0 1 0 -1.9 0M907.58 365.62a0.95 0.95 0 1 0 1.9 0a0.95 0.95 0 1 0 -1.9 0M904.28 368.93a0.95 0.95 0 1 0 1.9 0a0.95 0.95 0 1 0 -1.9 0M907.58 372.23a0.95 0.95 0 1 0 1.9 0a0.95 0.95 0 1 0 -1.9 0M904.28 375.53a0.95 0.95 0 1 0 1.9 0a0.95 0.95 0 1 0 -1.9 0M907.58 378.83a0.95 0.95 0 1 0 1.9 0a0.95 0.95 0 1 0 -1.9 0M904.28 382.14a0.95 0.95 0 1 0 1.9 0a0.95 0.95 0 1 0 -1.9 0M907.58 385.44a0.95 0.95 0 1 0 1.9 0a0.95 0.95 0 1 0 -1.9 0M904.28 388.74a0.95 0.95 0 1 0 1.9 0a0.95 0.95 0 1 0 -1.9 0M907.58 392.04a0.95 0.95 0 1 0 1.9 0a0.95 0.95 0 1 0 -1.9 0M904.28 395.35a0.95 0.95 0 1 0 1.9 0a0.95 0.95 0 1 0 -1.9 0M907.58 398.65a0.95 0.95 0 1 0 1.9 0a0.95 0.95 0 1 0 -1.9 0M904.28 401.95a0.95 0.95 0 1 0 1.9 0a0.95 0.95 0 1 0 -1.9 0M907.58 405.25a0.95 0.95 0 1 0 1.9 0a0.95 0.95 0 1 0 -1.9 0M904.28 408.56a0.95 0.95 0 1 0 1.9 0a0.95 0.95 0 1 0 -1.9 0M907.58 411.86a0.95 0.95 0 1 0 1.9 0a0.95 0.95 0 1 0 -1.9 0M914.19 332.60a0.95 0.95 0 1 0 1.9 0a0.95 0.95 0 1 0 -1.9 0M910.89 335.90a0.95 0.95 0 1 0 1.9 0a0.95 0.95 0 1 0 -1.9 0M914.19 339.20a0.95 0.95 0 1 0 1.9 0a0.95 0.95 0 1 0 -1.9 0M910.89 342.51a0.95 0.95 0 1 0 1.9 0a0.95 0.95 0 1 0 -1.9 0M914.19 345.81a0.95 0.95 0 1 0 1.9 0a0.95 0.95 0 1 0 -1.9 0M910.89 349.11a0.95 0.95 0 1 0 1.9 0a0.95 0.95 0 1 0 -1.9 0M914.19 352.41a0.95 0.95 0 1 0 1.9 0a0.95 0.95 0 1 0 -1.9 0M910.89 355.72a0.95 0.95 0 1 0 1.9 0a0.95 0.95 0 1 0 -1.9 0M914.19 359.02a0.95 0.95 0 1 0 1.9 0a0.95 0.95 0 1 0 -1.9 0M910.89 362.32a0.95 0.95 0 1 0 1.9 0a0.95 0.95 0 1 0 -1.9 0M914.19 365.62a0.95 0.95 0 1 0 1.9 0a0.95 0.95 0 1 0 -1.9 0M910.89 368.93a0.95 0.95 0 1 0 1.9 0a0.95 0.95 0 1 0 -1.9 0M914.19 372.23a0.95 0.95 0 1 0 1.9 0a0.95 0.95 0 1 0 -1.9 0M910.89 375.53a0.95 0.95 0 1 0 1.9 0a0.95 0.95 0 1 0 -1.9 0M914.19 378.83a0.95 0.95 0 1 0 1.9 0a0.95 0.95 0 1 0 -1.9 0M910.89 382.14a0.95 0.95 0 1 0 1.9 0a0.95 0.95 0 1 0 -1.9 0M914.19 385.44a0.95 0.95 0 1 0 1.9 0a0.95 0.95 0 1 0 -1.9 0M910.89 388.74a0.95 0.95 0 1 0 1.9 0a0.95 0.95 0 1 0 -1.9 0M914.19 392.04a0.95 0.95 0 1 0 1.9 0a0.95 0.95 0 1 0 -1.9 0M910.89 395.35a0.95 0.95 0 1 0 1.9 0a0.95 0.95 0 1 0 -1.9 0M914.19 398.65a0.95 0.95 0 1 0 1.9 0a0.95 0.95 0 1 0 -1.9 0M910.89 401.95a0.95 0.95 0 1 0 1.9 0a0.95 0.95 0 1 0 -1.9 0M914.19 405.25a0.95 0.95 0 1 0 1.9 0a0.95 0.95 0 1 0 -1.9 0M910.89 408.56a0.95 0.95 0 1 0 1.9 0a0.95 0.95 0 1 0 -1.9 0M914.19 411.86a0.95 0.95 0 1 0 1.9 0a0.95 0.95 0 1 0 -1.9 0M920.79 332.60a0.95 0.95 0 1 0 1.9 0a0.95 0.95 0 1 0 -1.9 0M917.49 335.90a0.95 0.95 0 1 0 1.9 0a0.95 0.95 0 1 0 -1.9 0M920.79 339.20a0.95 0.95 0 1 0 1.9 0a0.95 0.95 0 1 0 -1.9 0M917.49 342.51a0.95 0.95 0 1 0 1.9 0a0.95 0.95 0 1 0 -1.9 0M920.79 345.81a0.95 0.95 0 1 0 1.9 0a0.95 0.95 0 1 0 -1.9 0M917.49 349.11a0.95 0.95 0 1 0 1.9 0a0.95 0.95 0 1 0 -1.9 0M920.79 352.41a0.95 0.95 0 1 0 1.9 0a0.95 0.95 0 1 0 -1.9 0M917.49 355.72a0.95 0.95 0 1 0 1.9 0a0.95 0.95 0 1 0 -1.9 0M920.79 359.02a0.95 0.95 0 1 0 1.9 0a0.95 0.95 0 1 0 -1.9 0M917.49 362.32a0.95 0.95 0 1 0 1.9 0a0.95 0.95 0 1 0 -1.9 0M920.79 365.62a0.95 0.95 0 1 0 1.9 0a0.95 0.95 0 1 0 -1.9 0M917.49 368.93a0.95 0.95 0 1 0 1.9 0a0.95 0.95 0 1 0 -1.9 0M920.79 372.23a0.95 0.95 0 1 0 1.9 0a0.95 0.95 0 1 0 -1.9 0M917.49 375.53a0.95 0.95 0 1 0 1.9 0a0.95 0.95 0 1 0 -1.9 0M920.79 378.83a0.95 0.95 0 1 0 1.9 0a0.95 0.95 0 1 0 -1.9 0M917.49 382.14a0.95 0.95 0 1 0 1.9 0a0.95 0.95 0 1 0 -1.9 0M920.79 385.44a0.95 0.95 0 1 0 1.9 0a0.95 0.95 0 1 0 -1.9 0M917.49 388.74a0.95 0.95 0 1 0 1.9 0a0.95 0.95 0 1 0 -1.9 0M920.79 392.04a0.95 0.95 0 1 0 1.9 0a0.95 0.95 0 1 0 -1.9 0M917.49 395.35a0.95 0.95 0 1 0 1.9 0a0.95 0.95 0 1 0 -1.9 0M920.79 398.65a0.95 0.95 0 1 0 1.9 0a0.95 0.95 0 1 0 -1.9 0M917.49 401.95a0.95 0.95 0 1 0 1.9 0a0.95 0.95 0 1 0 -1.9 0M920.79 405.25a0.95 0.95 0 1 0 1.9 0a0.95 0.95 0 1 0 -1.9 0M917.49 408.56a0.95 0.95 0 1 0 1.9 0a0.95 0.95 0 1 0 -1.9 0M920.79 411.86a0.95 0.95 0 1 0 1.9 0a0.95 0.95 0 1 0 -1.9 0M924.10 335.90a0.95 0.95 0 1 0 1.9 0a0.95 0.95 0 1 0 -1.9 0M924.10 342.51a0.95 0.95 0 1 0 1.9 0a0.95 0.95 0 1 0 -1.9 0M924.10 349.11a0.95 0.95 0 1 0 1.9 0a0.95 0.95 0 1 0 -1.9 0M924.10 355.72a0.95 0.95 0 1 0 1.9 0a0.95 0.95 0 1 0 -1.9 0M924.10 362.32a0.95 0.95 0 1 0 1.9 0a0.95 0.95 0 1 0 -1.9 0M924.10 368.93a0.95 0.95 0 1 0 1.9 0a0.95 0.95 0 1 0 -1.9 0M924.10 375.53a0.95 0.95 0 1 0 1.9 0a0.95 0.95 0 1 0 -1.9 0M924.10 382.14a0.95 0.95 0 1 0 1.9 0a0.95 0.95 0 1 0 -1.9 0M924.10 388.74a0.95 0.95 0 1 0 1.9 0a0.95 0.95 0 1 0 -1.9 0M924.10 395.35a0.95 0.95 0 1 0 1.9 0a0.95 0.95 0 1 0 -1.9 0M924.10 401.95a0.95 0.95 0 1 0 1.9 0a0.95 0.95 0 1 0 -1.9 0M924.10 408.56a0.95 0.95 0 1 0 1.9 0a0.95 0.95 0 1 0 -1.9 0"/>
<rect x="898.32" y="330.80" width="28.10" height="80.80" fill="none" stroke="#000" stroke-width="3.0" stroke-linejoin="round"/>
<text x="905.79" y="306.36" font-size="24" textLength="14.91" lengthAdjust="spacingAndGlyphs">b</text>
<line x1="948.07" y1="226.90" x2="948.07" y2="177.50" stroke="#000" stroke-width="1.8"/>
<line x1="943.82" y1="177.50" x2="952.32" y2="177.50" stroke="#000" stroke-width="1.9" stroke-linecap="round"/>
<rect x="934.02" y="225.40" width="28.10" height="186.20" fill="#000" stroke="#000" stroke-width="3.0" stroke-linejoin="round"/>
<text x="940.26" y="163.86" font-size="24" textLength="11.97" lengthAdjust="spacingAndGlyphs">c</text>
<line x1="983.77" y1="126.70" x2="983.77" y2="54.00" stroke="#000" stroke-width="1.8"/>
<line x1="979.52" y1="54.00" x2="988.02" y2="54.00" stroke="#000" stroke-width="1.9" stroke-linecap="round"/>
<rect x="969.72" y="125.20" width="28.10" height="286.40" fill="#a6a6a6" stroke="#000" stroke-width="3.0" stroke-linejoin="round"/>
<line x1="979.52" y1="126.90" x2="988.02" y2="126.90" stroke="#000" stroke-width="1.2" stroke-linecap="round"/>
<text x="976.18" y="39.16" font-size="24" textLength="11.63" lengthAdjust="spacingAndGlyphs">c</text>
<line x1="1019.47" y1="110.30" x2="1019.47" y2="44.30" stroke="#000" stroke-width="1.8"/>
<line x1="1015.22" y1="44.30" x2="1023.72" y2="44.30" stroke="#000" stroke-width="1.9" stroke-linecap="round"/>
<rect x="1005.42" y="108.80" width="28.10" height="302.80" fill="#fff" stroke="#000" stroke-width="3.0" stroke-linejoin="round"/>
<line x1="1015.22" y1="110.50" x2="1023.72" y2="110.50" stroke="#000" stroke-width="1.2" stroke-linecap="round"/>
<text x="1011.09" y="30.46" font-size="24" textLength="14.91" lengthAdjust="spacingAndGlyphs">b</text>
<rect x="119.15" y="850.30" width="34.80" height="3.10" fill="#fff"/>
<clipPath id="c100"><rect x="119.15" y="850.30" width="34.80" height="3.10"/></clipPath>
<path clip-path="url(#c100)" fill="#000" d="M119.94 849.44a0.95 0.95 0 1 0 1.9 0a0.95 0.95 0 1 0 -1.9 0M119.94 852.74a0.95 0.95 0 1 0 1.9 0a0.95 0.95 0 1 0 -1.9 0M123.24 849.44a0.95 0.95 0 1 0 1.9 0a0.95 0.95 0 1 0 -1.9 0M123.24 852.74a0.95 0.95 0 1 0 1.9 0a0.95 0.95 0 1 0 -1.9 0M126.54 849.44a0.95 0.95 0 1 0 1.9 0a0.95 0.95 0 1 0 -1.9 0M126.54 852.74a0.95 0.95 0 1 0 1.9 0a0.95 0.95 0 1 0 -1.9 0M129.85 849.44a0.95 0.95 0 1 0 1.9 0a0.95 0.95 0 1 0 -1.9 0M129.85 852.74a0.95 0.95 0 1 0 1.9 0a0.95 0.95 0 1 0 -1.9 0M133.15 849.44a0.95 0.95 0 1 0 1.9 0a0.95 0.95 0 1 0 -1.9 0M133.15 852.74a0.95 0.95 0 1 0 1.9 0a0.95 0.95 0 1 0 -1.9 0M136.45 849.44a0.95 0.95 0 1 0 1.9 0a0.95 0.95 0 1 0 -1.9 0M136.45 852.74a0.95 0.95 0 1 0 1.9 0a0.95 0.95 0 1 0 -1.9 0M139.75 849.44a0.95 0.95 0 1 0 1.9 0a0.95 0.95 0 1 0 -1.9 0M139.75 852.74a0.95 0.95 0 1 0 1.9 0a0.95 0.95 0 1 0 -1.9 0M143.06 849.44a0.95 0.95 0 1 0 1.9 0a0.95 0.95 0 1 0 -1.9 0M143.06 852.74a0.95 0.95 0 1 0 1.9 0a0.95 0.95 0 1 0 -1.9 0M146.36 849.44a0.95 0.95 0 1 0 1.9 0a0.95 0.95 0 1 0 -1.9 0M146.36 852.74a0.95 0.95 0 1 0 1.9 0a0.95 0.95 0 1 0 -1.9 0M149.66 849.44a0.95 0.95 0 1 0 1.9 0a0.95 0.95 0 1 0 -1.9 0M149.66 852.74a0.95 0.95 0 1 0 1.9 0a0.95 0.95 0 1 0 -1.9 0M152.96 849.44a0.95 0.95 0 1 0 1.9 0a0.95 0.95 0 1 0 -1.9 0M152.96 852.74a0.95 0.95 0 1 0 1.9 0a0.95 0.95 0 1 0 -1.9 0M118.29 851.09a0.95 0.95 0 1 0 1.9 0a0.95 0.95 0 1 0 -1.9 0M124.89 851.09a0.95 0.95 0 1 0 1.9 0a0.95 0.95 0 1 0 -1.9 0M131.50 851.09a0.95 0.95 0 1 0 1.9 0a0.95 0.95 0 1 0 -1.9 0M138.10 851.09a0.95 0.95 0 1 0 1.9 0a0.95 0.95 0 1 0 -1.9 0M144.71 851.09a0.95 0.95 0 1 0 1.9 0a0.95 0.95 0 1 0 -1.9 0M151.31 851.09a0.95 0.95 0 1 0 1.9 0a0.95 0.95 0 1 0 -1.9 0"/>
<rect x="119.15" y="850.30" width="34.80" height="3.10" fill="none" stroke="#000" stroke-width="3.0" stroke-linejoin="round"/>
<text x="132.48" y="835.16" font-size="24" textLength="11.68" lengthAdjust="spacingAndGlyphs">a</text>
<line x1="181.45" y1="851.50" x2="181.45" y2="847.30" stroke="#000" stroke-width="1.8"/>
<line x1="177.20" y1="847.30" x2="185.70" y2="847.30" stroke="#000" stroke-width="1.9" stroke-linecap="round"/>
<rect x="164.05" y="850.00" width="34.80" height="3.40" fill="#000" stroke="#000" stroke-width="3.0" stroke-linejoin="round"/>
<text x="176.11" y="836.46" font-size="24" textLength="11.16" lengthAdjust="spacingAndGlyphs">a</text>
<line x1="226.35" y1="830.60" x2="226.35" y2="815.90" stroke="#000" stroke-width="1.8"/>
<line x1="222.10" y1="815.90" x2="230.60" y2="815.90" stroke="#000" stroke-width="1.9" stroke-linecap="round"/>
<rect x="208.95" y="829.10" width="34.80" height="24.30" fill="#a6a6a6" stroke="#000" stroke-width="3.0" stroke-linejoin="round"/>
<line x1="222.10" y1="830.80" x2="230.60" y2="830.80" stroke="#000" stroke-width="1.2" stroke-linecap="round"/>
<text x="221.29" y="805.26" font-size="24" textLength="11.58" lengthAdjust="spacingAndGlyphs">a</text>
<line x1="271.25" y1="841.60" x2="271.25" y2="834.30" stroke="#000" stroke-width="1.8"/>
<line x1="267.00" y1="834.30" x2="275.50" y2="834.30" stroke="#000" stroke-width="1.9" stroke-linecap="round"/>
<rect x="253.85" y="840.10" width="34.80" height="13.30" fill="#fff" stroke="#000" stroke-width="3.0" stroke-linejoin="round"/>
<line x1="267.00" y1="841.80" x2="275.50" y2="841.80" stroke="#000" stroke-width="1.2" stroke-linecap="round"/>
<text x="264.62" y="820.66" font-size="24" textLength="11.06" lengthAdjust="spacingAndGlyphs">a</text>
<line x1="383.85" y1="781.60" x2="383.85" y2="777.30" stroke="#000" stroke-width="1.8"/>
<line x1="379.60" y1="777.30" x2="388.10" y2="777.30" stroke="#000" stroke-width="1.9" stroke-linecap="round"/>
<rect x="366.45" y="780.10" width="34.80" height="73.30" fill="#fff"/>
<clipPath id="c121"><rect x="366.45" y="780.10" width="34.80" height="73.30"/></clipPath>
<path clip-path="url(#c121)" fill="#000" d="M367.63 780.09a0.95 0.95 0 1 0 1.9 0a0.95 0.95 0 1 0 -1.9 0M367.63 783.39a0.95 0.95 0 1 0 1.9 0a0.95 0.95 0 1 0 -1.9 0M367.63 786.69a0.95 0.95 0 1 0 1.9 0a0.95 0.95 0 1 0 -1.9 0M367.63 790.00a0.95 0.95 0 1 0 1.9 0a0.95 0.95 0 1 0 -1.9 0M367.63 793.30a0.95 0.95 0 1 0 1.9 0a0.95 0.95 0 1 0 -1.9 0M367.63 796.60a0.95 0.95 0 1 0 1.9 0a0.95 0.95 0 1 0 -1.9 0M367.63 799.90a0.95 0.95 0 1 0 1.9 0a0.95 0.95 0 1 0 -1.9 0M367.63 803.21a0.95 0.95 0 1 0 1.9 0a0.95 0.95 0 1 0 -1.9 0M367.63 806.51a0.95 0.95 0 1 0 1.9 0a0.95 0.95 0 1 0 -1.9 0M367.63 809.81a0.95 0.95 0 1 0 1.9 0a0.95 0.95 0 1 0 -1.9 0M367.63 813.11a0.95 0.95 0 1 0 1.9 0a0.95 0.95 0 1 0 -1.9 0M367.63 816.42a0.95 0.95 0 1 0 1.9 0a0.95 0.95 0 1 0 -1.9 0M367.63 819.72a0.95 0.95 0 1 0 1.9 0a0.95 0.95 0 1 0 -1.9 0M367.63 823.02a0.95 0.95 0 1 0 1.9 0a0.95 0.95 0 1 0 -1.9 0M367.63 826.32a0.95 0.95 0 1 0 1.9 0a0.95 0.95 0 1 0 -1.9 0M367.63 829.62a0.95 0.95 0 1 0 1.9 0a0.95 0.95 0 1 0 -1.9 0M367.63 832.93a0.95 0.95 0 1 0 1.9 0a0.95 0.95 0 1 0 -1.9 0M367.63 836.23a0.95 0.95 0 1 0 1.9 0a0.95 0.95 0 1 0 -1.9 0M367.63 839.53a0.95 0.95 0 1 0 1.9 0a0.95 0.95 0 1 0 -1.9 0M367.63 842.84a0.95 0.95 0 1 0 1.9 0a0.95 0.95 0 1 0 -1.9 0M367.63 846.14a0.95 0.95 0 1 0 1.9 0a0.95 0.95 0 1 0 -1.9 0M367.63 849.44a0.95 0.95 0 1 0 1.9 0a0.95 0.95 0 1 0 -1.9 0M367.63 852.74a0.95 0.95 0 1 0 1.9 0a0.95 0.95 0 1 0 -1.9 0M370.93 780.09a0.95 0.95 0 1 0 1.9 0a0.95 0.95 0 1 0 -1.9 0M370.93 783.39a0.95 0.95 0 1 0 1.9 0a0.95 0.95 0 1 0 -1.9 0M370.93 786.69a0.95 0.95 0 1 0 1.9 0a0.95 0.95 0 1 0 -1.9 0M370.93 790.00a0.95 0.95 0 1 0 1.9 0a0.95 0.95 0 1 0 -1.9 0M370.93 793.30a0.95 0.95 0 1 0 1.9 0a0.95 0.95 0 1 0 -1.9 0M370.93 796.60a0.95 0.95 0 1 0 1.9 0a0.95 0.95 0 1 0 -1.9 0M370.93 799.90a0.95 0.95 0 1 0 1.9 0a0.95 0.95 0 1 0 -1.9 0M370.93 803.21a0.95 0.95 0 1 0 1.9 0a0.95 0.95 0 1 0 -1.9 0M370.93 806.51a0.95 0.95 0 1 0 1.9 0a0.95 0.95 0 1 0 -1.9 0M370.93 809.81a0.95 0.95 0 1 0 1.9 0a0.95 0.95 0 1 0 -1.9 0M370.93 813.11a0.95 0.95 0 1 0 1.9 0a0.95 0.95 0 1 0 -1.9 0M370.93 816.42a0.95 0.95 0 1 0 1.9 0a0.95 0.95 0 1 0 -1.9 0M370.93 819.72a0.95 0.95 0 1 0 1.9 0a0.95 0.95 0 1 0 -1.9 0M370.93 823.02a0.95 0.95 0 1 0 1.9 0a0.95 0.95 0 1 0 -1.9 0M370.93 826.32a0.95 0.95 0 1 0 1.9 0a0.95 0.95 0 1 0 -1.9 0M370.93 829.62a0.95 0.95 0 1 0 1.9 0a0.95 0.95 0 1 0 -1.9 0M370.93 832.93a0.95 0.95 0 1 0 1.9 0a0.95 0.95 0 1 0 -1.9 0M370.93 836.23a0.95 0.95 0 1 0 1.9 0a0.95 0.95 0 1 0 -1.9 0M370.93 839.53a0.95 0.95 0 1 0 1.9 0a0.95 0.95 0 1 0 -1.9 0M370.93 842.84a0.95 0.95 0 1 0 1.9 0a0.95 0.95 0 1 0 -1.9 0M370.93 846.14a0.95 0.95 0 1 0 1.9 0a0.95 0.95 0 1 0 -1.9 0M370.93 849.44a0.95 0.95 0 1 0 1.9 0a0.95 0.95 0 1 0 -1.9 0M370.93 852.74a0.95 0.95 0 1 0 1.9 0a0.95 0.95 0 1 0 -1.9 0M374.23 780.09a0.95 0.95 0 1 0 1.9 0a0.95 0.95 0 1 0 -1.9 0M374.23 783.39a0.95 0.95 0 1 0 1.9 0a0.95 0.95 0 1 0 -1.9 0M374.23 786.69a0.95 0.95 0 1 0 1.9 0a0.95 0.95 0 1 0 -1.9 0M374.23 790.00a0.95 0.95 0 1 0 1.9 0a0.95 0.95 0 1 0 -1.9 0M374.23 793.30a0.95 0.95 0 1 0 1.9 0a0.95 0.95 0 1 0 -1.9 0M374.23 796.60a0.95 0.95 0 1 0 1.9 0a0.95 0.95 0 1 0 -1.9 0M374.23 799.90a0.95 0.95 0 1 0 1.9 0a0.95 0.95 0 1 0 -1.9 0M374.23 803.21a0.95 0.95 0 1 0 1.9 0a0.95 0.95 0 1 0 -1.9 0M374.23 806.51a0.95 0.95 0 1 0 1.9 0a0.95 0.95 0 1 0 -1.9 0M374.23 809.81a0.95 0.95 0 1 0 1.9 0a0.95 0.95 0 1 0 -1.9 0M374.23 813.11a0.95 0.95 0 1 0 1.9 0a0.95 0.95 0 1 0 -1.9 0M374.23 816.42a0.95 0.95 0 1 0 1.9 0a0.95 0.95 0 1 0 -1.9 0M374.23 819.72a0.95 0.95 0 1 0 1.9 0a0.95 0.95 0 1 0 -1.9 0M374.23 823.02a0.95 0.95 0 1 0 1.9 0a0.95 0.95 0 1 0 -1.9 0M374.23 826.32a0.95 0.95 0 1 0 1.9 0a0.95 0.95 0 1 0 -1.9 0M374.23 829.62a0.95 0.95 0 1 0 1.9 0a0.95 0.95 0 1 0 -1.9 0M374.23 832.93a0.95 0.95 0 1 0 1.9 0a0.95 0.95 0 1 0 -1.9 0M374.23 836.23a0.95 0.95 0 1 0 1.9 0a0.95 0.95 0 1 0 -1.9 0M374.23 839.53a0.95 0.95 0 1 0 1.9 0a0.95 0.95 0 1 0 -1.9 0M374.23 842.84a0.95 0.95 0 1 0 1.9 0a0.95 0.95 0 1 0 -1.9 0M374.23 846.14a0.95 0.95 0 1 0 1.9 0a0.95 0.95 0 1 0 -1.9 0M374.23 849.44a0.95 0.95 0 1 0 1.9 0a0.95 0.95 0 1 0 -1.9 0M374.23 852.74a0.95 0.95 0 1 0 1.9 0a0.95 0.95 0 1 0 -1.9 0M377.53 780.09a0.95 0.95 0 1 0 1.9 0a0.95 0.95 0 1 0 -1.9 0M377.53 783.39a0.95 0.95 0 1 0 1.9 0a0.95 0.95 0 1 0 -1.9 0M377.53 786.69a0.95 0.95 0 1 0 1.9 0a0.95 0.95 0 1 0 -1.9 0M377.53 790.00a0.95 0.95 0 1 0 1.9 0a0.95 0.95 0 1 0 -1.9 0M377.53 793.30a0.95 0.95 0 1 0 1.9 0a0.95 0.95 0 1 0 -1.9 0M377.53 796.60a0.95 0.95 0 1 0 1.9 0a0.95 0.95 0 1 0 -1.9 0M377.53 799.90a0.95 0.95 0 1 0 1.9 0a0.95 0.95 0 1 0 -1.9 0M377.53 803.21a0.95 0.95 0 1 0 1.9 0a0.95 0.95 0 1 0 -1.9 0M377.53 806.51a0.95 0.95 0 1 0 1.9 0a0.95 0.95 0 1 0 -1.9 0M377.53 809.81a0.95 0.95 0 1 0 1.9 0a0.95 0.95 0 1 0 -1.9 0M377.53 813.11a0.95 0.95 0 1 0 1.9 0a0.95 0.95 0 1 0 -1.9 0M377.53 816.42a0.95 0.95 0 1 0 1.9 0a0.95 0.95 0 1 0 -1.9 0M377.53 819.72a0.95 0.95 0 1 0 1.9 0a0.95 0.95 0 1 0 -1.9 0M377.53 823.02a0.95 0.95 0 1 0 1.9 0a0.95 0.95 0 1 0 -1.9 0M377.53 826.32a0.95 0.95 0 1 0 1.9 0a0.95 0.95 0 1 0 -1.9 0M377.53 829.62a0.95 0.95 0 1 0 1.9 0a0.95 0.95 0 1 0 -1.9 0M377.53 832.93a0.95 0.95 0 1 0 1.9 0a0.95 0.95 0 1 0 -1.9 0M377.53 836.23a0.95 0.95 0 1 0 1.9 0a0.95 0.95 0 1 0 -1.9 0M377.53 839.53a0.95 0.95 0 1 0 1.9 0a0.95 0.95 0 1 0 -1.9 0M377.53 842.84a0.95 0.95 0 1 0 1.9 0a0.95 0.95 0 1 0 -1.9 0M377.53 846.14a0.95 0.95 0 1 0 1.9 0a0.95 0.95 0 1 0 -1.9 0M377.53 849.44a0.95 0.95 0 1 0 1.9 0a0.95 0.95 0 1 0 -1.9 0M377.53 852.74a0.95 0.95 0 1 0 1.9 0a0.95 0.95 0 1 0 -1.9 0M380.84 780.09a0.95 0.95 0 1 0 1.9 0a0.95 0.95 0 1 0 -1.9 0M380.84 783.39a0.95 0.95 0 1 0 1.9 0a0.95 0.95 0 1 0 -1.9 0M380.84 786.69a0.95 0.95 0 1 0 1.9 0a0.95 0.95 0 1 0 -1.9 0M380.84 790.00a0.95 0.95 0 1 0 1.9 0a0.95 0.95 0 1 0 -1.9 0M380.84 793.30a0.95 0.95 0 1 0 1.9 0a0.95 0.95 0 1 0 -1.9 0M380.84 796.60a0.95 0.95 0 1 0 1.9 0a0.95 0.95 0 1 0 -1.9 0M380.84 799.90a0.95 0.95 0 1 0 1.9 0a0.95 0.95 0 1 0 -1.9 0M380.84 803.21a0.95 0.95 0 1 0 1.9 0a0.95 0.95 0 1 0 -1.9 0M380.84 806.51a0.95 0.95 0 1 0 1.9 0a0.95 0.95 0 1 0 -1.9 0M380.84 809.81a0.95 0.95 0 1 0 1.9 0a0.95 0.95 0 1 0 -1.9 0M380.84 813.11a0.95 0.95 0 1 0 1.9 0a0.95 0.95 0 1 0 -1.9 0M380.84 816.42a0.95 0.95 0 1 0 1.9 0a0.95 0.95 0 1 0 -1.9 0M380.84 819.72a0.95 0.95 0 1 0 1.9 0a0.95 0.95 0 1 0 -1.9 0M380.84 823.02a0.95 0.95 0 1 0 1.9 0a0.95 0.95 0 1 0 -1.9 0M380.84 826.32a0.95 0.95 0 1 0 1.9 0a0.95 0.95 0 1 0 -1.9 0M380.84 829.62a0.95 0.95 0 1 0 1.9 0a0.95 0.95 0 1 0 -1.9 0M380.84 832.93a0.95 0.95 0 1 0 1.9 0a0.95 0.95 0 1 0 -1.9 0M380.84 836.23a0.95 0.95 0 1 0 1.9 0a0.95 0.95 0 1 0 -1.9 0M380.84 839.53a0.95 0.95 0 1 0 1.9 0a0.95 0.95 0 1 0 -1.9 0M380.84 842.84a0.95 0.95 0 1 0 1.9 0a0.95 0.95 0 1 0 -1.9 0M380.84 846.14a0.95 0.95 0 1 0 1.9 0a0.95 0.95 0 1 0 -1.9 0M380.84 849.44a0.95 0.95 0 1 0 1.9 0a0.95 0.95 0 1 0 -1.9 0M380.84 852.74a0.95 0.95 0 1 0 1.9 0a0.95 0.95 0 1 0 -1.9 0M384.14 780.09a0.95 0.95 0 1 0 1.9 0a0.95 0.95 0 1 0 -1.9 0M384.14 783.39a0.95 0.95 0 1 0 1.9 0a0.95 0.95 0 1 0 -1.9 0M384.14 786.69a0.95 0.95 0 1 0 1.9 0a0.95 0.95 0 1 0 -1.9 0M384.14 790.00a0.95 0.95 0 1 0 1.9 0a0.95 0.95 0 1 0 -1.9 0M384.14 793.30a0.95 0.95 0 1 0 1.9 0a0.95 0.95 0 1 0 -1.9 0M384.14 796.60a0.95 0.95 0 1 0 1.9 0a0.95 0.95 0 1 0 -1.9 0M384.14 799.90a0.95 0.95 0 1 0 1.9 0a0.95 0.95 0 1 0 -1.9 0M384.14 803.21a0.95 0.95 0 1 0 1.9 0a0.95 0.95 0 1 0 -1.9 0M384.14 806.51a0.95 0.95 0 1 0 1.9 0a0.95 0.95 0 1 0 -1.9 0M384.14 809.81a0.95 0.95 0 1 0 1.9 0a0.95 0.95 0 1 0 -1.9 0M384.14 813.11a0.95 0.95 0 1 0 1.9 0a0.95 0.95 0 1 0 -1.9 0M384.14 816.42a0.95 0.95 0 1 0 1.9 0a0.95 0.95 0 1 0 -1.9 0M384.14 819.72a0.95 0.95 0 1 0 1.9 0a0.95 0.95 0 1 0 -1.9 0M384.14 823.02a0.95 0.95 0 1 0 1.9 0a0.95 0.95 0 1 0 -1.9 0M384.14 826.32a0.95 0.95 0 1 0 1.9 0a0.95 0.95 0 1 0 -1.9 0M384.14 829.62a0.95 0.95 0 1 0 1.9 0a0.95 0.95 0 1 0 -1.9 0M384.14 832.93a0.95 0.95 0 1 0 1.9 0a0.95 0.95 0 1 0 -1.9 0M384.14 836.23a0.95 0.95 0 1 0 1.9 0a0.95 0.95 0 1 0 -1.9 0M384.14 839.53a0.95 0.95 0 1 0 1.9 0a0.95 0.95 0 1 0 -1.9 0M384.14 842.84a0.95 0.95 0 1 0 1.9 0a0.95 0.95 0 1 0 -1.9 0M384.14 846.14a0.95 0.95 0 1 0 1.9 0a0.95 0.95 0 1 0 -1.9 0M384.14 849.44a0.95 0.95 0 1 0 1.9 0a0.95 0.95 0 1 0 -1.9 0M384.14 852.74a0.95 0.95 0 1 0 1.9 0a0.95 0.95 0 1 0 -1.9 0M387.44 780.09a0.95 0.95 0 1 0 1.9 0a0.95 0.95 0 1 0 -1.9 0M387.44 783.39a0.95 0.95 0 1 0 1.9 0a0.95 0.95 0 1 0 -1.9 0M387.44 786.69a0.95 0.95 0 1 0 1.9 0a0.95 0.95 0 1 0 -1.9 0M387.44 790.00a0.95 0.95 0 1 0 1.9 0a0.95 0.95 0 1 0 -1.9 0M387.44 793.30a0.95 0.95 0 1 0 1.9 0a0.95 0.95 0 1 0 -1.9 0M387.44 796.60a0.95 0.95 0 1 0 1.9 0a0.95 0.95 0 1 0 -1.9 0M387.44 799.90a0.95 0.95 0 1 0 1.9 0a0.95 0.95 0 1 0 -1.9 0M387.44 803.21a0.95 0.95 0 1 0 1.9 0a0.95 0.95 0 1 0 -1.9 0M387.44 806.51a0.95 0.95 0 1 0 1.9 0a0.95 0.95 0 1 0 -1.9 0M387.44 809.81a0.95 0.95 0 1 0 1.9 0a0.95 0.95 0 1 0 -1.9 0M387.44 813.11a0.95 0.95 0 1 0 1.9 0a0.95 0.95 0 1 0 -1.9 0M387.44 816.42a0.95 0.95 0 1 0 1.9 0a0.95 0.95 0 1 0 -1.9 0M387.44 819.72a0.95 0.95 0 1 0 1.9 0a0.95 0.95 0 1 0 -1.9 0M387.44 823.02a0.95 0.95 0 1 0 1.9 0a0.95 0.95 0 1 0 -1.9 0M387.44 826.32a0.95 0.95 0 1 0 1.9 0a0.95 0.95 0 1 0 -1.9 0M387.44 829.62a0.95 0.95 0 1 0 1.9 0a0.95 0.95 0 1 0 -1.9 0M387.44 832.93a0.95 0.95 0 1 0 1.9 0a0.95 0.95 0 1 0 -1.9 0M387.44 836.23a0.95 0.95 0 1 0 1.9 0a0.95 0.95 0 1 0 -1.9 0M387.44 839.53a0.95 0.95 0 1 0 1.9 0a0.95 0.95 0 1 0 -1.9 0M387.44 842.84a0.95 0.95 0 1 0 1.9 0a0.95 0.95 0 1 0 -1.9 0M387.44 846.14a0.95 0.95 0 1 0 1.9 0a0.95 0.95 0 1 0 -1.9 0M387.44 849.44a0.95 0.95 0 1 0 1.9 0a0.95 0.95 0 1 0 -1.9 0M387.44 852.74a0.95 0.95 0 1 0 1.9 0a0.95 0.95 0 1 0 -1.9 0M390.74 780.09a0.95 0.95 0 1 0 1.9 0a0.95 0.95 0 1 0 -1.9 0M390.74 783.39a0.95 0.95 0 1 0 1.9 0a0.95 0.95 0 1 0 -1.9 0M390.74 786.69a0.95 0.95 0 1 0 1.9 0a0.95 0.95 0 1 0 -1.9 0M390.74 790.00a0.95 0.95 0 1 0 1.9 0a0.95 0.95 0 1 0 -1.9 0M390.74 793.30a0.95 0.95 0 1 0 1.9 0a0.95 0.95 0 1 0 -1.9 0M390.74 796.60a0.95 0.95 0 1 0 1.9 0a0.95 0.95 0 1 0 -1.9 0M390.74 799.90a0.95 0.95 0 1 0 1.9 0a0.95 0.95 0 1 0 -1.9 0M390.74 803.21a0.95 0.95 0 1 0 1.9 0a0.95 0.95 0 1 0 -1.9 0M390.74 806.51a0.95 0.95 0 1 0 1.9 0a0.95 0.95 0 1 0 -1.9 0M390.74 809.81a0.95 0.95 0 1 0 1.9 0a0.95 0.95 0 1 0 -1.9 0M390.74 813.11a0.95 0.95 0 1 0 1.9 0a0.95 0.95 0 1 0 -1.9 0M390.74 816.42a0.95 0.95 0 1 0 1.9 0a0.95 0.95 0 1 0 -1.9 0M390.74 819.72a0.95 0.95 0 1 0 1.9 0a0.95 0.95 0 1 0 -1.9 0M390.74 823.02a0.95 0.95 0 1 0 1.9 0a0.95 0.95 0 1 0 -1.9 0M390.74 826.32a0.95 0.95 0 1 0 1.9 0a0.95 0.95 0 1 0 -1.9 0M390.74 829.62a0.95 0.95 0 1 0 1.9 0a0.95 0.95 0 1 0 -1.9 0M390.74 832.93a0.95 0.95 0 1 0 1.9 0a0.95 0.95 0 1 0 -1.9 0M390.74 836.23a0.95 0.95 0 1 0 1.9 0a0.95 0.95 0 1 0 -1.9 0M390.74 839.53a0.95 0.95 0 1 0 1.9 0a0.95 0.95 0 1 0 -1.9 0M390.74 842.84a0.95 0.95 0 1 0 1.9 0a0.95 0.95 0 1 0 -1.9 0M390.74 846.14a0.95 0.95 0 1 0 1.9 0a0.95 0.95 0 1 0 -1.9 0M390.74 849.44a0.95 0.95 0 1 0 1.9 0a0.95 0.95 0 1 0 -1.9 0M390.74 852.74a0.95 0.95 0 1 0 1.9 0a0.95 0.95 0 1 0 -1.9 0M394.05 780.09a0.95 0.95 0 1 0 1.9 0a0.95 0.95 0 1 0 -1.9 0M394.05 783.39a0.95 0.95 0 1 0 1.9 0a0.95 0.95 0 1 0 -1.9 0M394.05 786.69a0.95 0.95 0 1 0 1.9 0a0.95 0.95 0 1 0 -1.9 0M394.05 790.00a0.95 0.95 0 1 0 1.9 0a0.95 0.95 0 1 0 -1.9 0M394.05 793.30a0.95 0.95 0 1 0 1.9 0a0.95 0.95 0 1 0 -1.9 0M394.05 796.60a0.95 0.95 0 1 0 1.9 0a0.95 0.95 0 1 0 -1.9 0M394.05 799.90a0.95 0.95 0 1 0 1.9 0a0.95 0.95 0 1 0 -1.9 0M394.05 803.21a0.95 0.95 0 1 0 1.9 0a0.95 0.95 0 1 0 -1.9 0M394.05 806.51a0.95 0.95 0 1 0 1.9 0a0.95 0.95 0 1 0 -1.9 0M394.05 809.81a0.95 0.95 0 1 0 1.9 0a0.95 0.95 0 1 0 -1.9 0M394.05 813.11a0.95 0.95 0 1 0 1.9 0a0.95 0.95 0 1 0 -1.9 0M394.05 816.42a0.95 0.95 0 1 0 1.9 0a0.95 0.95 0 1 0 -1.9 0M394.05 819.72a0.95 0.95 0 1 0 1.9 0a0.95 0.95 0 1 0 -1.9 0M394.05 823.02a0.95 0.95 0 1 0 1.9 0a0.95 0.95 0 1 0 -1.9 0M394.05 826.32a0.95 0.95 0 1 0 1.9 0a0.95 0.95 0 1 0 -1.9 0M394.05 829.62a0.95 0.95 0 1 0 1.9 0a0.95 0.95 0 1 0 -1.9 0M394.05 832.93a0.95 0.95 0 1 0 1.9 0a0.95 0.95 0 1 0 -1.9 0M394.05 836.23a0.95 0.95 0 1 0 1.9 0a0.95 0.95 0 1 0 -1.9 0M394.05 839.53a0.95 0.95 0 1 0 1.9 0a0.95 0.95 0 1 0 -1.9 0M394.05 842.84a0.95 0.95 0 1 0 1.9 0a0.95 0.95 0 1 0 -1.9 0M394.05 846.14a0.95 0.95 0 1 0 1.9 0a0.95 0.95 0 1 0 -1.9 0M394.05 849.44a0.95 0.95 0 1 0 1.9 0a0.95 0.95 0 1 0 -1.9 0M394.05 852.74a0.95 0.95 0 1 0 1.9 0a0.95 0.95 0 1 0 -1.9 0M397.35 780.09a0.95 0.95 0 1 0 1.9 0a0.95 0.95 0 1 0 -1.9 0M397.35 783.39a0.95 0.95 0 1 0 1.9 0a0.95 0.95 0 1 0 -1.9 0M397.35 786.69a0.95 0.95 0 1 0 1.9 0a0.95 0.95 0 1 0 -1.9 0M397.35 790.00a0.95 0.95 0 1 0 1.9 0a0.95 0.95 0 1 0 -1.9 0M397.35 793.30a0.95 0.95 0 1 0 1.9 0a0.95 0.95 0 1 0 -1.9 0M397.35 796.60a0.95 0.95 0 1 0 1.9 0a0.95 0.95 0 1 0 -1.9 0M397.35 799.90a0.95 0.95 0 1 0 1.9 0a0.95 0.95 0 1 0 -1.9 0M397.35 803.21a0.95 0.95 0 1 0 1.9 0a0.95 0.95 0 1 0 -1.9 0M397.35 806.51a0.95 0.95 0 1 0 1.9 0a0.95 0.95 0 1 0 -1.9 0M397.35 809.81a0.95 0.95 0 1 0 1.9 0a0.95 0.95 0 1 0 -1.9 0M397.35 813.11a0.95 0.95 0 1 0 1.9 0a0.95 0.95 0 1 0 -1.9 0M397.35 816.42a0.95 0.95 0 1 0 1.9 0a0.95 0.95 0 1 0 -1.9 0M397.35 819.72a0.95 0.95 0 1 0 1.9 0a0.95 0.95 0 1 0 -1.9 0M397.35 823.02a0.95 0.95 0 1 0 1.9 0a0.95 0.95 0 1 0 -1.9 0M397.35 826.32a0.95 0.95 0 1 0 1.9 0a0.95 0.95 0 1 0 -1.9 0M397.35 829.62a0.95 0.95 0 1 0 1.9 0a0.95 0.95 0 1 0 -1.9 0M397.35 832.93a0.95 0.95 0 1 0 1.9 0a0.95 0.95 0 1 0 -1.9 0M397.35 836.23a0.95 0.95 0 1 0 1.9 0a0.95 0.95 0 1 0 -1.9 0M397.35 839.53a0.95 0.95 0 1 0 1.9 0a0.95 0.95 0 1 0 -1.9 0M397.35 842.84a0.95 0.95 0 1 0 1.9 0a0.95 0.95 0 1 0 -1.9 0M397.35 846.14a0.95 0.95 0 1 0 1.9 0a0.95 0.95 0 1 0 -1.9 0M397.35 849.44a0.95 0.95 0 1 0 1.9 0a0.95 0.95 0 1 0 -1.9 0M397.35 852.74a0.95 0.95 0 1 0 1.9 0a0.95 0.95 0 1 0 -1.9 0M400.65 780.09a0.95 0.95 0 1 0 1.9 0a0.95 0.95 0 1 0 -1.9 0M400.65 783.39a0.95 0.95 0 1 0 1.9 0a0.95 0.95 0 1 0 -1.9 0M400.65 786.69a0.95 0.95 0 1 0 1.9 0a0.95 0.95 0 1 0 -1.9 0M400.65 790.00a0.95 0.95 0 1 0 1.9 0a0.95 0.95 0 1 0 -1.9 0M400.65 793.30a0.95 0.95 0 1 0 1.9 0a0.95 0.95 0 1 0 -1.9 0M400.65 796.60a0.95 0.95 0 1 0 1.9 0a0.95 0.95 0 1 0 -1.9 0M400.65 799.90a0.95 0.95 0 1 0 1.9 0a0.95 0.95 0 1 0 -1.9 0M400.65 803.21a0.95 0.95 0 1 0 1.9 0a0.95 0.95 0 1 0 -1.9 0M400.65 806.51a0.95 0.95 0 1 0 1.9 0a0.95 0.95 0 1 0 -1.9 0M400.65 809.81a0.95 0.95 0 1 0 1.9 0a0.95 0.95 0 1 0 -1.9 0M400.65 813.11a0.95 0.95 0 1 0 1.9 0a0.95 0.95 0 1 0 -1.9 0M400.65 816.42a0.95 0.95 0 1 0 1.9 0a0.95 0.95 0 1 0 -1.9 0M400.65 819.72a0.95 0.95 0 1 0 1.9 0a0.95 0.95 0 1 0 -1.9 0M400.65 823.02a0.95 0.95 0 1 0 1.9 0a0.95 0.95 0 1 0 -1.9 0M400.65 826.32a0.95 0.95 0 1 0 1.9 0a0.95 0.95 0 1 0 -1.9 0M400.65 829.62a0.95 0.95 0 1 0 1.9 0a0.95 0.95 0 1 0 -1.9 0M400.65 832.93a0.95 0.95 0 1 0 1.9 0a0.95 0.95 0 1 0 -1.9 0M400.65 836.23a0.95 0.95 0 1 0 1.9 0a0.95 0.95 0 1 0 -1.9 0M400.65 839.53a0.95 0.95 0 1 0 1.9 0a0.95 0.95 0 1 0 -1.9 0M400.65 842.84a0.95 0.95 0 1 0 1.9 0a0.95 0.95 0 1 0 -1.9 0M400.65 846.14a0.95 0.95 0 1 0 1.9 0a0.95 0.95 0 1 0 -1.9 0M400.65 849.44a0.95 0.95 0 1 0 1.9 0a0.95 0.95 0 1 0 -1.9 0M400.65 852.74a0.95 0.95 0 1 0 1.9 0a0.95 0.95 0 1 0 -1.9 0M365.97 781.74a0.95 0.95 0 1 0 1.9 0a0.95 0.95 0 1 0 -1.9 0M365.97 788.34a0.95 0.95 0 1 0 1.9 0a0.95 0.95 0 1 0 -1.9 0M365.97 794.95a0.95 0.95 0 1 0 1.9 0a0.95 0.95 0 1 0 -1.9 0M365.97 801.55a0.95 0.95 0 1 0 1.9 0a0.95 0.95 0 1 0 -1.9 0M365.97 808.16a0.95 0.95 0 1 0 1.9 0a0.95 0.95 0 1 0 -1.9 0M365.97 814.76a0.95 0.95 0 1 0 1.9 0a0.95 0.95 0 1 0 -1.9 0M365.97 821.37a0.95 0.95 0 1 0 1.9 0a0.95 0.95 0 1 0 -1.9 0M365.97 827.97a0.95 0.95 0 1 0 1.9 0a0.95 0.95 0 1 0 -1.9 0M365.97 834.58a0.95 0.95 0 1 0 1.9 0a0.95 0.95 0 1 0 -1.9 0M365.97 841.18a0.95 0.95 0 1 0 1.9 0a0.95 0.95 0 1 0 -1.9 0M365.97 847.79a0.95 0.95 0 1 0 1.9 0a0.95 0.95 0 1 0 -1.9 0M372.58 781.74a0.95 0.95 0 1 0 1.9 0a0.95 0.95 0 1 0 -1.9 0M369.28 785.04a0.95 0.95 0 1 0 1.9 0a0.95 0.95 0 1 0 -1.9 0M372.58 788.34a0.95 0.95 0 1 0 1.9 0a0.95 0.95 0 1 0 -1.9 0M369.28 791.65a0.95 0.95 0 1 0 1.9 0a0.95 0.95 0 1 0 -1.9 0M372.58 794.95a0.95 0.95 0 1 0 1.9 0a0.95 0.95 0 1 0 -1.9 0M369.28 798.25a0.95 0.95 0 1 0 1.9 0a0.95 0.95 0 1 0 -1.9 0M372.58 801.55a0.95 0.95 0 1 0 1.9 0a0.95 0.95 0 1 0 -1.9 0M369.28 804.86a0.95 0.95 0 1 0 1.9 0a0.95 0.95 0 1 0 -1.9 0M372.58 808.16a0.95 0.95 0 1 0 1.9 0a0.95 0.95 0 1 0 -1.9 0M369.28 811.46a0.95 0.95 0 1 0 1.9 0a0.95 0.95 0 1 0 -1.9 0M372.58 814.76a0.95 0.95 0 1 0 1.9 0a0.95 0.95 0 1 0 -1.9 0M369.28 818.07a0.95 0.95 0 1 0 1.9 0a0.95 0.95 0 1 0 -1.9 0M372.58 821.37a0.95 0.95 0 1 0 1.9 0a0.95 0.95 0 1 0 -1.9 0M369.28 824.67a0.95 0.95 0 1 0 1.9 0a0.95 0.95 0 1 0 -1.9 0M372.58 827.97a0.95 0.95 0 1 0 1.9 0a0.95 0.95 0 1 0 -1.9 0M369.28 831.28a0.95 0.95 0 1 0 1.9 0a0.95 0.95 0 1 0 -1.9 0M372.58 834.58a0.95 0.95 0 1 0 1.9 0a0.95 0.95 0 1 0 -1.9 0M369.28 837.88a0.95 0.95 0 1 0 1.9 0a0.95 0.95 0 1 0 -1.9 0M372.58 841.18a0.95 0.95 0 1 0 1.9 0a0.95 0.95 0 1 0 -1.9 0M369.28 844.49a0.95 0.95 0 1 0 1.9 0a0.95 0.95 0 1 0 -1.9 0M372.58 847.79a0.95 0.95 0 1 0 1.9 0a0.95 0.95 0 1 0 -1.9 0M369.28 851.09a0.95 0.95 0 1 0 1.9 0a0.95 0.95 0 1 0 -1.9 0M379.18 781.74a0.95 0.95 0 1 0 1.9 0a0.95 0.95 0 1 0 -1.9 0M375.88 785.04a0.95 0.95 0 1 0 1.9 0a0.95 0.95 0 1 0 -1.9 0M379.18 788.34a0.95 0.95 0 1 0 1.9 0a0.95 0.95 0 1 0 -1.9 0M375.88 791.65a0.95 0.95 0 1 0 1.9 0a0.95 0.95 0 1 0 -1.9 0M379.18 794.95a0.95 0.95 0 1 0 1.9 0a0.95 0.95 0 1 0 -1.9 0M375.88 798.25a0.95 0.95 0 1 0 1.9 0a0.95 0.95 0 1 0 -1.9 0M379.18 801.55a0.95 0.95 0 1 0 1.9 0a0.95 0.95 0 1 0 -1.9 0M375.88 804.86a0.95 0.95 0 1 0 1.9 0a0.95 0.95 0 1 0 -1.9 0M379.18 808.16a0.95 0.95 0 1 0 1.9 0a0.95 0.95 0 1 0 -1.9 0M375.88 811.46a0.95 0.95 0 1 0 1.9 0a0.95 0.95 0 1 0 -1.9 0M379.18 814.76a0.95 0.95 0 1 0 1.9 0a0.95 0.95 0 1 0 -1.9 0M375.88 818.07a0.95 0.95 0 1 0 1.9 0a0.95 0.95 0 1 0 -1.9 0M379.18 821.37a0.95 0.95 0 1 0 1.9 0a0.95 0.95 0 1 0 -1.9 0M375.88 824.67a0.95 0.95 0 1 0 1.9 0a0.95 0.95 0 1 0 -1.9 0M379.18 827.97a0.95 0.95 0 1 0 1.9 0a0.95 0.95 0 1 0 -1.9 0M375.88 831.28a0.95 0.95 0 1 0 1.9 0a0.95 0.95 0 1 0 -1.9 0M379.18 834.58a0.95 0.95 0 1 0 1.9 0a0.95 0.95 0 1 0 -1.9 0M375.88 837.88a0.95 0.95 0 1 0 1.9 0a0.95 0.95 0 1 0 -1.9 0M379.18 841.18a0.95 0.95 0 1 0 1.9 0a0.95 0.95 0 1 0 -1.9 0M375.88 844.49a0.95 0.95 0 1 0 1.9 0a0.95 0.95 0 1 0 -1.9 0M379.18 847.79a0.95 0.95 0 1 0 1.9 0a0.95 0.95 0 1 0 -1.9 0M375.88 851.09a0.95 0.95 0 1 0 1.9 0a0.95 0.95 0 1 0 -1.9 0M385.79 781.74a0.95 0.95 0 1 0 1.9 0a0.95 0.95 0 1 0 -1.9 0M382.49 785.04a0.95 0.95 0 1 0 1.9 0a0.95 0.95 0 1 0 -1.9 0M385.79 788.34a0.95 0.95 0 1 0 1.9 0a0.95 0.95 0 1 0 -1.9 0M382.49 791.65a0.95 0.95 0 1 0 1.9 0a0.95 0.95 0 1 0 -1.9 0M385.79 794.95a0.95 0.95 0 1 0 1.9 0a0.95 0.95 0 1 0 -1.9 0M382.49 798.25a0.95 0.95 0 1 0 1.9 0a0.95 0.95 0 1 0 -1.9 0M385.79 801.55a0.95 0.95 0 1 0 1.9 0a0.95 0.95 0 1 0 -1.9 0M382.49 804.86a0.95 0.95 0 1 0 1.9 0a0.95 0.95 0 1 0 -1.9 0M385.79 808.16a0.95 0.95 0 1 0 1.9 0a0.95 0.95 0 1 0 -1.9 0M382.49 811.46a0.95 0.95 0 1 0 1.9 0a0.95 0.95 0 1 0 -1.9 0M385.79 814.76a0.95 0.95 0 1 0 1.9 0a0.95 0.95 0 1 0 -1.9 0M382.49 818.07a0.95 0.95 0 1 0 1.9 0a0.95 0.95 0 1 0 -1.9 0M385.79 821.37a0.95 0.95 0 1 0 1.9 0a0.95 0.95 0 1 0 -1.9 0M382.49 824.67a0.95 0.95 0 1 0 1.9 0a0.95 0.95 0 1 0 -1.9 0M385.79 827.97a0.95 0.95 0 1 0 1.9 0a0.95 0.95 0 1 0 -1.9 0M382.49 831.28a0.95 0.95 0 1 0 1.9 0a0.95 0.95 0 1 0 -1.9 0M385.79 834.58a0.95 0.95 0 1 0 1.9 0a0.95 0.95 0 1 0 -1.9 0M382.49 837.88a0.95 0.95 0 1 0 1.9 0a0.95 0.95 0 1 0 -1.9 0M385.79 841.18a0.95 0.95 0 1 0 1.9 0a0.95 0.95 0 1 0 -1.9 0M382.49 844.49a0.95 0.95 0 1 0 1.9 0a0.95 0.95 0 1 0 -1.9 0M385.79 847.79a0.95 0.95 0 1 0 1.9 0a0.95 0.95 0 1 0 -1.9 0M382.49 851.09a0.95 0.95 0 1 0 1.9 0a0.95 0.95 0 1 0 -1.9 0M392.39 781.74a0.95 0.95 0 1 0 1.9 0a0.95 0.95 0 1 0 -1.9 0M389.09 785.04a0.95 0.95 0 1 0 1.9 0a0.95 0.95 0 1 0 -1.9 0M392.39 788.34a0.95 0.95 0 1 0 1.9 0a0.95 0.95 0 1 0 -1.9 0M389.09 791.65a0.95 0.95 0 1 0 1.9 0a0.95 0.95 0 1 0 -1.9 0M392.39 794.95a0.95 0.95 0 1 0 1.9 0a0.95 0.95 0 1 0 -1.9 0M389.09 798.25a0.95 0.95 0 1 0 1.9 0a0.95 0.95 0 1 0 -1.9 0M392.39 801.55a0.95 0.95 0 1 0 1.9 0a0.95 0.95 0 1 0 -1.9 0M389.09 804.86a0.95 0.95 0 1 0 1.9 0a0.95 0.95 0 1 0 -1.9 0M392.39 808.16a0.95 0.95 0 1 0 1.9 0a0.95 0.95 0 1 0 -1.9 0M389.09 811.46a0.95 0.95 0 1 0 1.9 0a0.95 0.95 0 1 0 -1.9 0M392.39 814.76a0.95 0.95 0 1 0 1.9 0a0.95 0.95 0 1 0 -1.9 0M389.09 818.07a0.95 0.95 0 1 0 1.9 0a0.95 0.95 0 1 0 -1.9 0M392.39 821.37a0.95 0.95 0 1 0 1.9 0a0.95 0.95 0 1 0 -1.9 0M389.09 824.67a0.95 0.95 0 1 0 1.9 0a0.95 0.95 0 1 0 -1.9 0M392.39 827.97a0.95 0.95 0 1 0 1.9 0a0.95 0.95 0 1 0 -1.9 0M389.09 831.28a0.95 0.95 0 1 0 1.9 0a0.95 0.95 0 1 0 -1.9 0M392.39 834.58a0.95 0.95 0 1 0 1.9 0a0.95 0.95 0 1 0 -1.9 0M389.09 837.88a0.95 0.95 0 1 0 1.9 0a0.95 0.95 0 1 0 -1.9 0M392.39 841.18a0.95 0.95 0 1 0 1.9 0a0.95 0.95 0 1 0 -1.9 0M389.09 844.49a0.95 0.95 0 1 0 1.9 0a0.95 0.95 0 1 0 -1.9 0M392.39 847.79a0.95 0.95 0 1 0 1.9 0a0.95 0.95 0 1 0 -1.9 0M389.09 851.09a0.95 0.95 0 1 0 1.9 0a0.95 0.95 0 1 0 -1.9 0M399.00 781.74a0.95 0.95 0 1 0 1.9 0a0.95 0.95 0 1 0 -1.9 0M395.70 785.04a0.95 0.95 0 1 0 1.9 0a0.95 0.95 0 1 0 -1.9 0M399.00 788.34a0.95 0.95 0 1 0 1.9 0a0.95 0.95 0 1 0 -1.9 0M395.70 791.65a0.95 0.95 0 1 0 1.9 0a0.95 0.95 0 1 0 -1.9 0M399.00 794.95a0.95 0.95 0 1 0 1.9 0a0.95 0.95 0 1 0 -1.9 0M395.70 798.25a0.95 0.95 0 1 0 1.9 0a0.95 0.95 0 1 0 -1.9 0M399.00 801.55a0.95 0.95 0 1 0 1.9 0a0.95 0.95 0 1 0 -1.9 0M395.70 804.86a0.95 0.95 0 1 0 1.9 0a0.95 0.95 0 1 0 -1.9 0M399.00 808.16a0.95 0.95 0 1 0 1.9 0a0.95 0.95 0 1 0 -1.9 0M395.70 811.46a0.95 0.95 0 1 0 1.9 0a0.95 0.95 0 1 0 -1.9 0M399.00 814.76a0.95 0.95 0 1 0 1.9 0a0.95 0.95 0 1 0 -1.9 0M395.70 818.07a0.95 0.95 0 1 0 1.9 0a0.95 0.95 0 1 0 -1.9 0M399.00 821.37a0.95 0.95 0 1 0 1.9 0a0.95 0.95 0 1 0 -1.9 0M395.70 824.67a0.95 0.95 0 1 0 1.9 0a0.95 0.95 0 1 0 -1.9 0M399.00 827.97a0.95 0.95 0 1 0 1.9 0a0.95 0.95 0 1 0 -1.9 0M395.70 831.28a0.95 0.95 0 1 0 1.9 0a0.95 0.95 0 1 0 -1.9 0M399.00 834.58a0.95 0.95 0 1 0 1.9 0a0.95 0.95 0 1 0 -1.9 0M395.70 837.88a0.95 0.95 0 1 0 1.9 0a0.95 0.95 0 1 0 -1.9 0M399.00 841.18a0.95 0.95 0 1 0 1.9 0a0.95 0.95 0 1 0 -1.9 0M395.70 844.49a0.95 0.95 0 1 0 1.9 0a0.95 0.95 0 1 0 -1.9 0M399.00 847.79a0.95 0.95 0 1 0 1.9 0a0.95 0.95 0 1 0 -1.9 0M395.70 851.09a0.95 0.95 0 1 0 1.9 0a0.95 0.95 0 1 0 -1.9 0"/>
<rect x="366.45" y="780.10" width="34.80" height="73.30" fill="none" stroke="#000" stroke-width="3.0" stroke-linejoin="round"/>
<text x="378.06" y="760.36" font-size="24" textLength="10.60" lengthAdjust="spacingAndGlyphs">c</text>
<line x1="428.75" y1="772.30" x2="428.75" y2="766.10" stroke="#000" stroke-width="1.8"/>
<line x1="424.50" y1="766.10" x2="433.00" y2="766.10" stroke="#000" stroke-width="1.9" stroke-linecap="round"/>
<rect x="411.35" y="770.80" width="34.80" height="82.60" fill="#000" stroke="#000" stroke-width="3.0" stroke-linejoin="round"/>
<text x="421.47" y="750.46" font-size="24" textLength="10.38" lengthAdjust="spacingAndGlyphs">c</text>
<line x1="473.65" y1="599.40" x2="473.65" y2="556.70" stroke="#000" stroke-width="1.8"/>
<line x1="469.40" y1="556.70" x2="477.90" y2="556.70" stroke="#000" stroke-width="1.9" stroke-linecap="round"/>
<rect x="456.25" y="597.90" width="34.80" height="255.50" fill="#a6a6a6" stroke="#000" stroke-width="3.0" stroke-linejoin="round"/>
<line x1="469.40" y1="599.60" x2="477.90" y2="599.60" stroke="#000" stroke-width="1.2" stroke-linecap="round"/>
<text x="467.74" y="542.16" font-size="24" textLength="15.40" lengthAdjust="spacingAndGlyphs">b</text>
<line x1="518.55" y1="681.60" x2="518.55" y2="661.90" stroke="#000" stroke-width="1.8"/>
<line x1="514.30" y1="661.90" x2="522.80" y2="661.90" stroke="#000" stroke-width="1.9" stroke-linecap="round"/>
<rect x="501.15" y="680.10" width="34.80" height="173.30" fill="#fff" stroke="#000" stroke-width="3.0" stroke-linejoin="round"/>
<line x1="514.30" y1="681.80" x2="522.80" y2="681.80" stroke="#000" stroke-width="1.2" stroke-linecap="round"/>
<text x="512.12" y="647.66" font-size="24" textLength="14.67" lengthAdjust="spacingAndGlyphs">b</text>
<line x1="631.15" y1="847.70" x2="631.15" y2="842.80" stroke="#000" stroke-width="1.8"/>
<line x1="626.90" y1="842.80" x2="635.40" y2="842.80" stroke="#000" stroke-width="1.9" stroke-linecap="round"/>
<rect x="613.75" y="846.20" width="34.80" height="7.20" fill="#fff"/>
<clipPath id="c142"><rect x="613.75" y="846.20" width="34.80" height="7.20"/></clipPath>
<path clip-path="url(#c142)" fill="#000" d="M612.01 846.14a0.95 0.95 0 1 0 1.9 0a0.95 0.95 0 1 0 -1.9 0M612.01 849.44a0.95 0.95 0 1 0 1.9 0a0.95 0.95 0 1 0 -1.9 0M612.01 852.74a0.95 0.95 0 1 0 1.9 0a0.95 0.95 0 1 0 -1.9 0M615.31 846.14a0.95 0.95 0 1 0 1.9 0a0.95 0.95 0 1 0 -1.9 0M615.31 849.44a0.95 0.95 0 1 0 1.9 0a0.95 0.95 0 1 0 -1.9 0M615.31 852.74a0.95 0.95 0 1 0 1.9 0a0.95 0.95 0 1 0 -1.9 0M618.61 846.14a0.95 0.95 0 1 0 1.9 0a0.95 0.95 0 1 0 -1.9 0M618.61 849.44a0.95 0.95 0 1 0 1.9 0a0.95 0.95 0 1 0 -1.9 0M618.61 852.74a0.95 0.95 0 1 0 1.9 0a0.95 0.95 0 1 0 -1.9 0M621.92 846.14a0.95 0.95 0 1 0 1.9 0a0.95 0.95 0 1 0 -1.9 0M621.92 849.44a0.95 0.95 0 1 0 1.9 0a0.95 0.95 0 1 0 -1.9 0M621.92 852.74a0.95 0.95 0 1 0 1.9 0a0.95 0.95 0 1 0 -1.9 0M625.22 846.14a0.95 0.95 0 1 0 1.9 0a0.95 0.95 0 1 0 -1.9 0M625.22 849.44a0.95 0.95 0 1 0 1.9 0a0.95 0.95 0 1 0 -1.9 0M625.22 852.74a0.95 0.95 0 1 0 1.9 0a0.95 0.95 0 1 0 -1.9 0M628.52 846.14a0.95 0.95 0 1 0 1.9 0a0.95 0.95 0 1 0 -1.9 0M628.52 849.44a0.95 0.95 0 1 0 1.9 0a0.95 0.95 0 1 0 -1.9 0M628.52 852.74a0.95 0.95 0 1 0 1.9 0a0.95 0.95 0 1 0 -1.9 0M631.82 846.14a0.95 0.95 0 1 0 1.9 0a0.95 0.95 0 1 0 -1.9 0M631.82 849.44a0.95 0.95 0 1 0 1.9 0a0.95 0.95 0 1 0 -1.9 0M631.82 852.74a0.95 0.95 0 1 0 1.9 0a0.95 0.95 0 1 0 -1.9 0M635.13 846.14a0.95 0.95 0 1 0 1.9 0a0.95 0.95 0 1 0 -1.9 0M635.13 849.44a0.95 0.95 0 1 0 1.9 0a0.95 0.95 0 1 0 -1.9 0M635.13 852.74a0.95 0.95 0 1 0 1.9 0a0.95 0.95 0 1 0 -1.9 0M638.43 846.14a0.95 0.95 0 1 0 1.9 0a0.95 0.95 0 1 0 -1.9 0M638.43 849.44a0.95 0.95 0 1 0 1.9 0a0.95 0.95 0 1 0 -1.9 0M638.43 852.74a0.95 0.95 0 1 0 1.9 0a0.95 0.95 0 1 0 -1.9 0M641.73 846.14a0.95 0.95 0 1 0 1.9 0a0.95 0.95 0 1 0 -1.9 0M641.73 849.44a0.95 0.95 0 1 0 1.9 0a0.95 0.95 0 1 0 -1.9 0M641.73 852.74a0.95 0.95 0 1 0 1.9 0a0.95 0.95 0 1 0 -1.9 0M645.03 846.14a0.95 0.95 0 1 0 1.9 0a0.95 0.95 0 1 0 -1.9 0M645.03 849.44a0.95 0.95 0 1 0 1.9 0a0.95 0.95 0 1 0 -1.9 0M645.03 852.74a0.95 0.95 0 1 0 1.9 0a0.95 0.95 0 1 0 -1.9 0M648.34 846.14a0.95 0.95 0 1 0 1.9 0a0.95 0.95 0 1 0 -1.9 0M648.34 849.44a0.95 0.95 0 1 0 1.9 0a0.95 0.95 0 1 0 -1.9 0M648.34 852.74a0.95 0.95 0 1 0 1.9 0a0.95 0.95 0 1 0 -1.9 0M616.96 847.79a0.95 0.95 0 1 0 1.9 0a0.95 0.95 0 1 0 -1.9 0M613.66 851.09a0.95 0.95 0 1 0 1.9 0a0.95 0.95 0 1 0 -1.9 0M623.57 847.79a0.95 0.95 0 1 0 1.9 0a0.95 0.95 0 1 0 -1.9 0M620.27 851.09a0.95 0.95 0 1 0 1.9 0a0.95 0.95 0 1 0 -1.9 0M630.17 847.79a0.95 0.95 0 1 0 1.9 0a0.95 0.95 0 1 0 -1.9 0M626.87 851.09a0.95 0.95 0 1 0 1.9 0a0.95 0.95 0 1 0 -1.9 0M636.78 847.79a0.95 0.95 0 1 0 1.9 0a0.95 0.95 0 1 0 -1.9 0M633.48 851.09a0.95 0.95 0 1 0 1.9 0a0.95 0.95 0 1 0 -1.9 0M643.38 847.79a0.95 0.95 0 1 0 1.9 0a0.95 0.95 0 1 0 -1.9 0M640.08 851.09a0.95 0.95 0 1 0 1.9 0a0.95 0.95 0 1 0 -1.9 0M646.69 851.09a0.95 0.95 0 1 0 1.9 0a0.95 0.95 0 1 0 -1.9 0"/>
<rect x="613.75" y="846.20" width="34.80" height="7.20" fill="none" stroke="#000" stroke-width="3.0" stroke-linejoin="round"/>
<text x="626.40" y="829.56" font-size="24" textLength="13.94" lengthAdjust="spacingAndGlyphs">b</text>
<line x1="676.05" y1="846.30" x2="676.05" y2="830.70" stroke="#000" stroke-width="1.8"/>
<line x1="671.80" y1="830.70" x2="680.30" y2="830.70" stroke="#000" stroke-width="1.9" stroke-linecap="round"/>
<rect x="658.65" y="844.80" width="34.80" height="8.60" fill="#000" stroke="#000" stroke-width="3.0" stroke-linejoin="round"/>
<text x="669.57" y="818.36" font-size="24" textLength="14.18" lengthAdjust="spacingAndGlyphs">b</text>
<line x1="720.95" y1="835.00" x2="720.95" y2="823.30" stroke="#000" stroke-width="1.8"/>
<line x1="716.70" y1="823.30" x2="725.20" y2="823.30" stroke="#000" stroke-width="1.9" stroke-linecap="round"/>
<rect x="703.55" y="833.50" width="34.80" height="19.90" fill="#a6a6a6" stroke="#000" stroke-width="3.0" stroke-linejoin="round"/>
<line x1="716.70" y1="835.20" x2="725.20" y2="835.20" stroke="#000" stroke-width="1.2" stroke-linecap="round"/>
<text x="715.11" y="807.76" font-size="24" textLength="11.26" lengthAdjust="spacingAndGlyphs">a</text>
<line x1="765.85" y1="838.90" x2="765.85" y2="834.40" stroke="#000" stroke-width="1.8"/>
<line x1="761.60" y1="834.40" x2="770.10" y2="834.40" stroke="#000" stroke-width="1.9" stroke-linecap="round"/>
<rect x="748.45" y="837.40" width="34.80" height="16.00" fill="#fff" stroke="#000" stroke-width="3.0" stroke-linejoin="round"/>
<line x1="761.60" y1="839.10" x2="770.10" y2="839.10" stroke="#000" stroke-width="1.2" stroke-linecap="round"/>
<text x="758.51" y="821.16" font-size="24" textLength="11.26" lengthAdjust="spacingAndGlyphs">a</text>
<line x1="878.45" y1="794.90" x2="878.45" y2="775.50" stroke="#000" stroke-width="1.8"/>
<line x1="874.20" y1="775.50" x2="882.70" y2="775.50" stroke="#000" stroke-width="1.9" stroke-linecap="round"/>
<rect x="861.05" y="793.40" width="34.80" height="60.00" fill="#fff"/>
<clipPath id="c163"><rect x="861.05" y="793.40" width="34.80" height="60.00"/></clipPath>
<path clip-path="url(#c163)" fill="#000" d="M859.70 793.30a0.95 0.95 0 1 0 1.9 0a0.95 0.95 0 1 0 -1.9 0M859.70 796.60a0.95 0.95 0 1 0 1.9 0a0.95 0.95 0 1 0 -1.9 0M859.70 799.90a0.95 0.95 0 1 0 1.9 0a0.95 0.95 0 1 0 -1.9 0M859.70 803.21a0.95 0.95 0 1 0 1.9 0a0.95 0.95 0 1 0 -1.9 0M859.70 806.51a0.95 0.95 0 1 0 1.9 0a0.95 0.95 0 1 0 -1.9 0M859.70 809.81a0.95 0.95 0 1 0 1.9 0a0.95 0.95 0 1 0 -1.9 0M859.70 813.11a0.95 0.95 0 1 0 1.9 0a0.95 0.95 0 1 0 -1.9 0M859.70 816.42a0.95 0.95 0 1 0 1.9 0a0.95 0.95 0 1 0 -1.9 0M859.70 819.72a0.95 0.95 0 1 0 1.9 0a0.95 0.95 0 1 0 -1.9 0M859.70 823.02a0.95 0.95 0 1 0 1.9 0a0.95 0.95 0 1 0 -1.9 0M859.70 826.32a0.95 0.95 0 1 0 1.9 0a0.95 0.95 0 1 0 -1.9 0M859.70 829.62a0.95 0.95 0 1 0 1.9 0a0.95 0.95 0 1 0 -1.9 0M859.70 832.93a0.95 0.95 0 1 0 1.9 0a0.95 0.95 0 1 0 -1.9 0M859.70 836.23a0.95 0.95 0 1 0 1.9 0a0.95 0.95 0 1 0 -1.9 0M859.70 839.53a0.95 0.95 0 1 0 1.9 0a0.95 0.95 0 1 0 -1.9 0M859.70 842.84a0.95 0.95 0 1 0 1.9 0a0.95 0.95 0 1 0 -1.9 0M859.70 846.14a0.95 0.95 0 1 0 1.9 0a0.95 0.95 0 1 0 -1.9 0M859.70 849.44a0.95 0.95 0 1 0 1.9 0a0.95 0.95 0 1 0 -1.9 0M859.70 852.74a0.95 0.95 0 1 0 1.9 0a0.95 0.95 0 1 0 -1.9 0M863.00 793.30a0.95 0.95 0 1 0 1.9 0a0.95 0.95 0 1 0 -1.9 0M863.00 796.60a0.95 0.95 0 1 0 1.9 0a0.95 0.95 0 1 0 -1.9 0M863.00 799.90a0.95 0.95 0 1 0 1.9 0a0.95 0.95 0 1 0 -1.9 0M863.00 803.21a0.95 0.95 0 1 0 1.9 0a0.95 0.95 0 1 0 -1.9 0M863.00 806.51a0.95 0.95 0 1 0 1.9 0a0.95 0.95 0 1 0 -1.9 0M863.00 809.81a0.95 0.95 0 1 0 1.9 0a0.95 0.95 0 1 0 -1.9 0M863.00 813.11a0.95 0.95 0 1 0 1.9 0a0.95 0.95 0 1 0 -1.9 0M863.00 816.42a0.95 0.95 0 1 0 1.9 0a0.95 0.95 0 1 0 -1.9 0M863.00 819.72a0.95 0.95 0 1 0 1.9 0a0.95 0.95 0 1 0 -1.9 0M863.00 823.02a0.95 0.95 0 1 0 1.9 0a0.95 0.95 0 1 0 -1.9 0M863.00 826.32a0.95 0.95 0 1 0 1.9 0a0.95 0.95 0 1 0 -1.9 0M863.00 829.62a0.95 0.95 0 1 0 1.9 0a0.95 0.95 0 1 0 -1.9 0M863.00 832.93a0.95 0.95 0 1 0 1.9 0a0.95 0.95 0 1 0 -1.9 0M863.00 836.23a0.95 0.95 0 1 0 1.9 0a0.95 0.95 0 1 0 -1.9 0M863.00 839.53a0.95 0.95 0 1 0 1.9 0a0.95 0.95 0 1 0 -1.9 0M863.00 842.84a0.95 0.95 0 1 0 1.9 0a0.95 0.95 0 1 0 -1.9 0M863.00 846.14a0.95 0.95 0 1 0 1.9 0a0.95 0.95 0 1 0 -1.9 0M863.00 849.44a0.95 0.95 0 1 0 1.9 0a0.95 0.95 0 1 0 -1.9 0M863.00 852.74a0.95 0.95 0 1 0 1.9 0a0.95 0.95 0 1 0 -1.9 0M866.30 793.30a0.95 0.95 0 1 0 1.9 0a0.95 0.95 0 1 0 -1.9 0M866.30 796.60a0.95 0.95 0 1 0 1.9 0a0.95 0.95 0 1 0 -1.9 0M866.30 799.90a0.95 0.95 0 1 0 1.9 0a0.95 0.95 0 1 0 -1.9 0M866.30 803.21a0.95 0.95 0 1 0 1.9 0a0.95 0.95 0 1 0 -1.9 0M866.30 806.51a0.95 0.95 0 1 0 1.9 0a0.95 0.95 0 1 0 -1.9 0M866.30 809.81a0.95 0.95 0 1 0 1.9 0a0.95 0.95 0 1 0 -1.9 0M866.30 813.11a0.95 0.95 0 1 0 1.9 0a0.95 0.95 0 1 0 -1.9 0M866.30 816.42a0.95 0.95 0 1 0 1.9 0a0.95 0.95 0 1 0 -1.9 0M866.30 819.72a0.95 0.95 0 1 0 1.9 0a0.95 0.95 0 1 0 -1.9 0M866.30 823.02a0.95 0.95 0 1 0 1.9 0a0.95 0.95 0 1 0 -1.9 0M866.30 826.32a0.95 0.95 0 1 0 1.9 0a0.95 0.95 0 1 0 -1.9 0M866.30 829.62a0.95 0.95 0 1 0 1.9 0a0.95 0.95 0 1 0 -1.9 0M866.30 832.93a0.95 0.95 0 1 0 1.9 0a0.95 0.95 0 1 0 -1.9 0M866.30 836.23a0.95 0.95 0 1 0 1.9 0a0.95 0.95 0 1 0 -1.9 0M866.30 839.53a0.95 0.95 0 1 0 1.9 0a0.95 0.95 0 1 0 -1.9 0M866.30 842.84a0.95 0.95 0 1 0 1.9 0a0.95 0.95 0 1 0 -1.9 0M866.30 846.14a0.95 0.95 0 1 0 1.9 0a0.95 0.95 0 1 0 -1.9 0M866.30 849.44a0.95 0.95 0 1 0 1.9 0a0.95 0.95 0 1 0 -1.9 0M866.30 852.74a0.95 0.95 0 1 0 1.9 0a0.95 0.95 0 1 0 -1.9 0M869.61 793.30a0.95 0.95 0 1 0 1.9 0a0.95 0.95 0 1 0 -1.9 0M869.61 796.60a0.95 0.95 0 1 0 1.9 0a0.95 0.95 0 1 0 -1.9 0M869.61 799.90a0.95 0.95 0 1 0 1.9 0a0.95 0.95 0 1 0 -1.9 0M869.61 803.21a0.95 0.95 0 1 0 1.9 0a0.95 0.95 0 1 0 -1.9 0M869.61 806.51a0.95 0.95 0 1 0 1.9 0a0.95 0.95 0 1 0 -1.9 0M869.61 809.81a0.95 0.95 0 1 0 1.9 0a0.95 0.95 0 1 0 -1.9 0M869.61 813.11a0.95 0.95 0 1 0 1.9 0a0.95 0.95 0 1 0 -1.9 0M869.61 816.42a0.95 0.95 0 1 0 1.9 0a0.95 0.95 0 1 0 -1.9 0M869.61 819.72a0.95 0.95 0 1 0 1.9 0a0.95 0.95 0 1 0 -1.9 0M869.61 823.02a0.95 0.95 0 1 0 1.9 0a0.95 0.95 0 1 0 -1.9 0M869.61 826.32a0.95 0.95 0 1 0 1.9 0a0.95 0.95 0 1 0 -1.9 0M869.61 829.62a0.95 0.95 0 1 0 1.9 0a0.95 0.95 0 1 0 -1.9 0M869.61 832.93a0.95 0.95 0 1 0 1.9 0a0.95 0.95 0 1 0 -1.9 0M869.61 836.23a0.95 0.95 0 1 0 1.9 0a0.95 0.95 0 1 0 -1.9 0M869.61 839.53a0.95 0.95 0 1 0 1.9 0a0.95 0.95 0 1 0 -1.9 0M869.61 842.84a0.95 0.95 0 1 0 1.9 0a0.95 0.95 0 1 0 -1.9 0M869.61 846.14a0.95 0.95 0 1 0 1.9 0a0.95 0.95 0 1 0 -1.9 0M869.61 849.44a0.95 0.95 0 1 0 1.9 0a0.95 0.95 0 1 0 -1.9 0M869.61 852.74a0.95 0.95 0 1 0 1.9 0a0.95 0.95 0 1 0 -1.9 0M872.91 793.30a0.95 0.95 0 1 0 1.9 0a0.95 0.95 0 1 0 -1.9 0M872.91 796.60a0.95 0.95 0 1 0 1.9 0a0.95 0.95 0 1 0 -1.9 0M872.91 799.90a0.95 0.95 0 1 0 1.9 0a0.95 0.95 0 1 0 -1.9 0M872.91 803.21a0.95 0.95 0 1 0 1.9 0a0.95 0.95 0 1 0 -1.9 0M872.91 806.51a0.95 0.95 0 1 0 1.9 0a0.95 0.95 0 1 0 -1.9 0M872.91 809.81a0.95 0.95 0 1 0 1.9 0a0.95 0.95 0 1 0 -1.9 0M872.91 813.11a0.95 0.95 0 1 0 1.9 0a0.95 0.95 0 1 0 -1.9 0M872.91 816.42a0.95 0.95 0 1 0 1.9 0a0.95 0.95 0 1 0 -1.9 0M872.91 819.72a0.95 0.95 0 1 0 1.9 0a0.95 0.95 0 1 0 -1.9 0M872.91 823.02a0.95 0.95 0 1 0 1.9 0a0.95 0.95 0 1 0 -1.9 0M872.91 826.32a0.95 0.95 0 1 0 1.9 0a0.95 0.95 0 1 0 -1.9 0M872.91 829.62a0.95 0.95 0 1 0 1.9 0a0.95 0.95 0 1 0 -1.9 0M872.91 832.93a0.95 0.95 0 1 0 1.9 0a0.95 0.95 0 1 0 -1.9 0M872.91 836.23a0.95 0.95 0 1 0 1.9 0a0.95 0.95 0 1 0 -1.9 0M872.91 839.53a0.95 0.95 0 1 0 1.9 0a0.95 0.95 0 1 0 -1.9 0M872.91 842.84a0.95 0.95 0 1 0 1.9 0a0.95 0.95 0 1 0 -1.9 0M872.91 846.14a0.95 0.95 0 1 0 1.9 0a0.95 0.95 0 1 0 -1.9 0M872.91 849.44a0.95 0.95 0 1 0 1.9 0a0.95 0.95 0 1 0 -1.9 0M872.91 852.74a0.95 0.95 0 1 0 1.9 0a0.95 0.95 0 1 0 -1.9 0M876.21 793.30a0.95 0.95 0 1 0 1.9 0a0.95 0.95 0 1 0 -1.9 0M876.21 796.60a0.95 0.95 0 1 0 1.9 0a0.95 0.95 0 1 0 -1.9 0M876.21 799.90a0.95 0.95 0 1 0 1.9 0a0.95 0.95 0 1 0 -1.9 0M876.21 803.21a0.95 0.95 0 1 0 1.9 0a0.95 0.95 0 1 0 -1.9 0M876.21 806.51a0.95 0.95 0 1 0 1.9 0a0.95 0.95 0 1 0 -1.9 0M876.21 809.81a0.95 0.95 0 1 0 1.9 0a0.95 0.95 0 1 0 -1.9 0M876.21 813.11a0.95 0.95 0 1 0 1.9 0a0.95 0.95 0 1 0 -1.9 0M876.21 816.42a0.95 0.95 0 1 0 1.9 0a0.95 0.95 0 1 0 -1.9 0M876.21 819.72a0.95 0.95 0 1 0 1.9 0a0.95 0.95 0 1 0 -1.9 0M876.21 823.02a0.95 0.95 0 1 0 1.9 0a0.95 0.95 0 1 0 -1.9 0M876.21 826.32a0.95 0.95 0 1 0 1.9 0a0.95 0.95 0 1 0 -1.9 0M876.21 829.62a0.95 0.95 0 1 0 1.9 0a0.95 0.95 0 1 0 -1.9 0M876.21 832.93a0.95 0.95 0 1 0 1.9 0a0.95 0.95 0 1 0 -1.9 0M876.21 836.23a0.95 0.95 0 1 0 1.9 0a0.95 0.95 0 1 0 -1.9 0M876.21 839.53a0.95 0.95 0 1 0 1.9 0a0.95 0.95 0 1 0 -1.9 0M876.21 842.84a0.95 0.95 0 1 0 1.9 0a0.95 0.95 0 1 0 -1.9 0M876.21 846.14a0.95 0.95 0 1 0 1.9 0a0.95 0.95 0 1 0 -1.9 0M876.21 849.44a0.95 0.95 0 1 0 1.9 0a0.95 0.95 0 1 0 -1.9 0M876.21 852.74a0.95 0.95 0 1 0 1.9 0a0.95 0.95 0 1 0 -1.9 0M879.51 793.30a0.95 0.95 0 1 0 1.9 0a0.95 0.95 0 1 0 -1.9 0M879.51 796.60a0.95 0.95 0 1 0 1.9 0a0.95 0.95 0 1 0 -1.9 0M879.51 799.90a0.95 0.95 0 1 0 1.9 0a0.95 0.95 0 1 0 -1.9 0M879.51 803.21a0.95 0.95 0 1 0 1.9 0a0.95 0.95 0 1 0 -1.9 0M879.51 806.51a0.95 0.95 0 1 0 1.9 0a0.95 0.95 0 1 0 -1.9 0M879.51 809.81a0.95 0.95 0 1 0 1.9 0a0.95 0.95 0 1 0 -1.9 0M879.51 813.11a0.95 0.95 0 1 0 1.9 0a0.95 0.95 0 1 0 -1.9 0M879.51 816.42a0.95 0.95 0 1 0 1.9 0a0.95 0.95 0 1 0 -1.9 0M879.51 819.72a0.95 0.95 0 1 0 1.9 0a0.95 0.95 0 1 0 -1.9 0M879.51 823.02a0.95 0.95 0 1 0 1.9 0a0.95 0.95 0 1 0 -1.9 0M879.51 826.32a0.95 0.95 0 1 0 1.9 0a0.95 0.95 0 1 0 -1.9 0M879.51 829.62a0.95 0.95 0 1 0 1.9 0a0.95 0.95 0 1 0 -1.9 0M879.51 832.93a0.95 0.95 0 1 0 1.9 0a0.95 0.95 0 1 0 -1.9 0M879.51 836.23a0.95 0.95 0 1 0 1.9 0a0.95 0.95 0 1 0 -1.9 0M879.51 839.53a0.95 0.95 0 1 0 1.9 0a0.95 0.95 0 1 0 -1.9 0M879.51 842.84a0.95 0.95 0 1 0 1.9 0a0.95 0.95 0 1 0 -1.9 0M879.51 846.14a0.95 0.95 0 1 0 1.9 0a0.95 0.95 0 1 0 -1.9 0M879.51 849.44a0.95 0.95 0 1 0 1.9 0a0.95 0.95 0 1 0 -1.9 0M879.51 852.74a0.95 0.95 0 1 0 1.9 0a0.95 0.95 0 1 0 -1.9 0M882.81 793.30a0.95 0.95 0 1 0 1.9 0a0.95 0.95 0 1 0 -1.9 0M882.81 796.60a0.95 0.95 0 1 0 1.9 0a0.95 0.95 0 1 0 -1.9 0M882.81 799.90a0.95 0.95 0 1 0 1.9 0a0.95 0.95 0 1 0 -1.9 0M882.81 803.21a0.95 0.95 0 1 0 1.9 0a0.95 0.95 0 1 0 -1.9 0M882.81 806.51a0.95 0.95 0 1 0 1.9 0a0.95 0.95 0 1 0 -1.9 0M882.81 809.81a0.95 0.95 0 1 0 1.9 0a0.95 0.95 0 1 0 -1.9 0M882.81 813.11a0.95 0.95 0 1 0 1.9 0a0.95 0.95 0 1 0 -1.9 0M882.81 816.42a0.95 0.95 0 1 0 1.9 0a0.95 0.95 0 1 0 -1.9 0M882.81 819.72a0.95 0.95 0 1 0 1.9 0a0.95 0.95 0 1 0 -1.9 0M882.81 823.02a0.95 0.95 0 1 0 1.9 0a0.95 0.95 0 1 0 -1.9 0M882.81 826.32a0.95 0.95 0 1 0 1.9 0a0.95 0.95 0 1 0 -1.9 0M882.81 829.62a0.95 0.95 0 1 0 1.9 0a0.95 0.95 0 1 0 -1.9 0M882.81 832.93a0.95 0.95 0 1 0 1.9 0a0.95 0.95 0 1 0 -1.9 0M882.81 836.23a0.95 0.95 0 1 0 1.9 0a0.95 0.95 0 1 0 -1.9 0M882.81 839.53a0.95 0.95 0 1 0 1.9 0a0.95 0.95 0 1 0 -1.9 0M882.81 842.84a0.95 0.95 0 1 0 1.9 0a0.95 0.95 0 1 0 -1.9 0M882.81 846.14a0.95 0.95 0 1 0 1.9 0a0.95 0.95 0 1 0 -1.9 0M882.81 849.44a0.95 0.95 0 1 0 1.9 0a0.95 0.95 0 1 0 -1.9 0M882.81 852.74a0.95 0.95 0 1 0 1.9 0a0.95 0.95 0 1 0 -1.9 0M886.12 793.30a0.95 0.95 0 1 0 1.9 0a0.95 0.95 0 1 0 -1.9 0M886.12 796.60a0.95 0.95 0 1 0 1.9 0a0.95 0.95 0 1 0 -1.9 0M886.12 799.90a0.95 0.95 0 1 0 1.9 0a0.95 0.95 0 1 0 -1.9 0M886.12 803.21a0.95 0.95 0 1 0 1.9 0a0.95 0.95 0 1 0 -1.9 0M886.12 806.51a0.95 0.95 0 1 0 1.9 0a0.95 0.95 0 1 0 -1.9 0M886.12 809.81a0.95 0.95 0 1 0 1.9 0a0.95 0.95 0 1 0 -1.9 0M886.12 813.11a0.95 0.95 0 1 0 1.9 0a0.95 0.95 0 1 0 -1.9 0M886.12 816.42a0.95 0.95 0 1 0 1.9 0a0.95 0.95 0 1 0 -1.9 0M886.12 819.72a0.95 0.95 0 1 0 1.9 0a0.95 0.95 0 1 0 -1.9 0M886.12 823.02a0.95 0.95 0 1 0 1.9 0a0.95 0.95 0 1 0 -1.9 0M886.12 826.32a0.95 0.95 0 1 0 1.9 0a0.95 0.95 0 1 0 -1.9 0M886.12 829.62a0.95 0.95 0 1 0 1.9 0a0.95 0.95 0 1 0 -1.9 0M886.12 832.93a0.95 0.95 0 1 0 1.9 0a0.95 0.95 0 1 0 -1.9 0M886.12 836.23a0.95 0.95 0 1 0 1.9 0a0.95 0.95 0 1 0 -1.9 0M886.12 839.53a0.95 0.95 0 1 0 1.9 0a0.95 0.95 0 1 0 -1.9 0M886.12 842.84a0.95 0.95 0 1 0 1.9 0a0.95 0.95 0 1 0 -1.9 0M886.12 846.14a0.95 0.95 0 1 0 1.9 0a0.95 0.95 0 1 0 -1.9 0M886.12 849.44a0.95 0.95 0 1 0 1.9 0a0.95 0.95 0 1 0 -1.9 0M886.12 852.74a0.95 0.95 0 1 0 1.9 0a0.95 0.95 0 1 0 -1.9 0M889.42 793.30a0.95 0.95 0 1 0 1.9 0a0.95 0.95 0 1 0 -1.9 0M889.42 796.60a0.95 0.95 0 1 0 1.9 0a0.95 0.95 0 1 0 -1.9 0M889.42 799.90a0.95 0.95 0 1 0 1.9 0a0.95 0.95 0 1 0 -1.9 0M889.42 803.21a0.95 0.95 0 1 0 1.9 0a0.95 0.95 0 1 0 -1.9 0M889.42 806.51a0.95 0.95 0 1 0 1.9 0a0.95 0.95 0 1 0 -1.9 0M889.42 809.81a0.95 0.95 0 1 0 1.9 0a0.95 0.95 0 1 0 -1.9 0M889.42 813.11a0.95 0.95 0 1 0 1.9 0a0.95 0.95 0 1 0 -1.9 0M889.42 816.42a0.95 0.95 0 1 0 1.9 0a0.95 0.95 0 1 0 -1.9 0M889.42 819.72a0.95 0.95 0 1 0 1.9 0a0.95 0.95 0 1 0 -1.9 0M889.42 823.02a0.95 0.95 0 1 0 1.9 0a0.95 0.95 0 1 0 -1.9 0M889.42 826.32a0.95 0.95 0 1 0 1.9 0a0.95 0.95 0 1 0 -1.9 0M889.42 829.62a0.95 0.95 0 1 0 1.9 0a0.95 0.95 0 1 0 -1.9 0M889.42 832.93a0.95 0.95 0 1 0 1.9 0a0.95 0.95 0 1 0 -1.9 0M889.42 836.23a0.95 0.95 0 1 0 1.9 0a0.95 0.95 0 1 0 -1.9 0M889.42 839.53a0.95 0.95 0 1 0 1.9 0a0.95 0.95 0 1 0 -1.9 0M889.42 842.84a0.95 0.95 0 1 0 1.9 0a0.95 0.95 0 1 0 -1.9 0M889.42 846.14a0.95 0.95 0 1 0 1.9 0a0.95 0.95 0 1 0 -1.9 0M889.42 849.44a0.95 0.95 0 1 0 1.9 0a0.95 0.95 0 1 0 -1.9 0M889.42 852.74a0.95 0.95 0 1 0 1.9 0a0.95 0.95 0 1 0 -1.9 0M892.72 793.30a0.95 0.95 0 1 0 1.9 0a0.95 0.95 0 1 0 -1.9 0M892.72 796.60a0.95 0.95 0 1 0 1.9 0a0.95 0.95 0 1 0 -1.9 0M892.72 799.90a0.95 0.95 0 1 0 1.9 0a0.95 0.95 0 1 0 -1.9 0M892.72 803.21a0.95 0.95 0 1 0 1.9 0a0.95 0.95 0 1 0 -1.9 0M892.72 806.51a0.95 0.95 0 1 0 1.9 0a0.95 0.95 0 1 0 -1.9 0M892.72 809.81a0.95 0.95 0 1 0 1.9 0a0.95 0.95 0 1 0 -1.9 0M892.72 813.11a0.95 0.95 0 1 0 1.9 0a0.95 0.95 0 1 0 -1.9 0M892.72 816.42a0.95 0.95 0 1 0 1.9 0a0.95 0.95 0 1 0 -1.9 0M892.72 819.72a0.95 0.95 0 1 0 1.9 0a0.95 0.95 0 1 0 -1.9 0M892.72 823.02a0.95 0.95 0 1 0 1.9 0a0.95 0.95 0 1 0 -1.9 0M892.72 826.32a0.95 0.95 0 1 0 1.9 0a0.95 0.95 0 1 0 -1.9 0M892.72 829.62a0.95 0.95 0 1 0 1.9 0a0.95 0.95 0 1 0 -1.9 0M892.72 832.93a0.95 0.95 0 1 0 1.9 0a0.95 0.95 0 1 0 -1.9 0M892.72 836.23a0.95 0.95 0 1 0 1.9 0a0.95 0.95 0 1 0 -1.9 0M892.72 839.53a0.95 0.95 0 1 0 1.9 0a0.95 0.95 0 1 0 -1.9 0M892.72 842.84a0.95 0.95 0 1 0 1.9 0a0.95 0.95 0 1 0 -1.9 0M892.72 846.14a0.95 0.95 0 1 0 1.9 0a0.95 0.95 0 1 0 -1.9 0M892.72 849.44a0.95 0.95 0 1 0 1.9 0a0.95 0.95 0 1 0 -1.9 0M892.72 852.74a0.95 0.95 0 1 0 1.9 0a0.95 0.95 0 1 0 -1.9 0M861.35 794.95a0.95 0.95 0 1 0 1.9 0a0.95 0.95 0 1 0 -1.9 0M861.35 801.55a0.95 0.95 0 1 0 1.9 0a0.95 0.95 0 1 0 -1.9 0M861.35 808.16a0.95 0.95 0 1 0 1.9 0a0.95 0.95 0 1 0 -1.9 0M861.35 814.76a0.95 0.95 0 1 0 1.9 0a0.95 0.95 0 1 0 -1.9 0M861.35 821.37a0.95 0.95 0 1 0 1.9 0a0.95 0.95 0 1 0 -1.9 0M861.35 827.97a0.95 0.95 0 1 0 1.9 0a0.95 0.95 0 1 0 -1.9 0M861.35 834.58a0.95 0.95 0 1 0 1.9 0a0.95 0.95 0 1 0 -1.9 0M861.35 841.18a0.95 0.95 0 1 0 1.9 0a0.95 0.95 0 1 0 -1.9 0M861.35 847.79a0.95 0.95 0 1 0 1.9 0a0.95 0.95 0 1 0 -1.9 0M867.95 794.95a0.95 0.95 0 1 0 1.9 0a0.95 0.95 0 1 0 -1.9 0M864.65 798.25a0.95 0.95 0 1 0 1.9 0a0.95 0.95 0 1 0 -1.9 0M867.95 801.55a0.95 0.95 0 1 0 1.9 0a0.95 0.95 0 1 0 -1.9 0M864.65 804.86a0.95 0.95 0 1 0 1.9 0a0.95 0.95 0 1 0 -1.9 0M867.95 808.16a0.95 0.95 0 1 0 1.9 0a0.95 0.95 0 1 0 -1.9 0M864.65 811.46a0.95 0.95 0 1 0 1.9 0a0.95 0.95 0 1 0 -1.9 0M867.95 814.76a0.95 0.95 0 1 0 1.9 0a0.95 0.95 0 1 0 -1.9 0M864.65 818.07a0.95 0.95 0 1 0 1.9 0a0.95 0.95 0 1 0 -1.9 0M867.95 821.37a0.95 0.95 0 1 0 1.9 0a0.95 0.95 0 1 0 -1.9 0M864.65 824.67a0.95 0.95 0 1 0 1.9 0a0.95 0.95 0 1 0 -1.9 0M867.95 827.97a0.95 0.95 0 1 0 1.9 0a0.95 0.95 0 1 0 -1.9 0M864.65 831.28a0.95 0.95 0 1 0 1.9 0a0.95 0.95 0 1 0 -1.9 0M867.95 834.58a0.95 0.95 0 1 0 1.9 0a0.95 0.95 0 1 0 -1.9 0M864.65 837.88a0.95 0.95 0 1 0 1.9 0a0.95 0.95 0 1 0 -1.9 0M867.95 841.18a0.95 0.95 0 1 0 1.9 0a0.95 0.95 0 1 0 -1.9 0M864.65 844.49a0.95 0.95 0 1 0 1.9 0a0.95 0.95 0 1 0 -1.9 0M867.95 847.79a0.95 0.95 0 1 0 1.9 0a0.95 0.95 0 1 0 -1.9 0M864.65 851.09a0.95 0.95 0 1 0 1.9 0a0.95 0.95 0 1 0 -1.9 0M874.56 794.95a0.95 0.95 0 1 0 1.9 0a0.95 0.95 0 1 0 -1.9 0M871.26 798.25a0.95 0.95 0 1 0 1.9 0a0.95 0.95 0 1 0 -1.9 0M874.56 801.55a0.95 0.95 0 1 0 1.9 0a0.95 0.95 0 1 0 -1.9 0M871.26 804.86a0.95 0.95 0 1 0 1.9 0a0.95 0.95 0 1 0 -1.9 0M874.56 808.16a0.95 0.95 0 1 0 1.9 0a0.95 0.95 0 1 0 -1.9 0M871.26 811.46a0.95 0.95 0 1 0 1.9 0a0.95 0.95 0 1 0 -1.9 0M874.56 814.76a0.95 0.95 0 1 0 1.9 0a0.95 0.95 0 1 0 -1.9 0M871.26 818.07a0.95 0.95 0 1 0 1.9 0a0.95 0.95 0 1 0 -1.9 0M874.56 821.37a0.95 0.95 0 1 0 1.9 0a0.95 0.95 0 1 0 -1.9 0M871.26 824.67a0.95 0.95 0 1 0 1.9 0a0.95 0.95 0 1 0 -1.9 0M874.56 827.97a0.95 0.95 0 1 0 1.9 0a0.95 0.95 0 1 0 -1.9 0M871.26 831.28a0.95 0.95 0 1 0 1.9 0a0.95 0.95 0 1 0 -1.9 0M874.56 834.58a0.95 0.95 0 1 0 1.9 0a0.95 0.95 0 1 0 -1.9 0M871.26 837.88a0.95 0.95 0 1 0 1.9 0a0.95 0.95 0 1 0 -1.9 0M874.56 841.18a0.95 0.95 0 1 0 1.9 0a0.95 0.95 0 1 0 -1.9 0M871.26 844.49a0.95 0.95 0 1 0 1.9 0a0.95 0.95 0 1 0 -1.9 0M874.56 847.79a0.95 0.95 0 1 0 1.9 0a0.95 0.95 0 1 0 -1.9 0M871.26 851.09a0.95 0.95 0 1 0 1.9 0a0.95 0.95 0 1 0 -1.9 0M881.16 794.95a0.95 0.95 0 1 0 1.9 0a0.95 0.95 0 1 0 -1.9 0M877.86 798.25a0.95 0.95 0 1 0 1.9 0a0.95 0.95 0 1 0 -1.9 0M881.16 801.55a0.95 0.95 0 1 0 1.9 0a0.95 0.95 0 1 0 -1.9 0M877.86 804.86a0.95 0.95 0 1 0 1.9 0a0.95 0.95 0 1 0 -1.9 0M881.16 808.16a0.95 0.95 0 1 0 1.9 0a0.95 0.95 0 1 0 -1.9 0M877.86 811.46a0.95 0.95 0 1 0 1.9 0a0.95 0.95 0 1 0 -1.9 0M881.16 814.76a0.95 0.95 0 1 0 1.9 0a0.95 0.95 0 1 0 -1.9 0M877.86 818.07a0.95 0.95 0 1 0 1.9 0a0.95 0.95 0 1 0 -1.9 0M881.16 821.37a0.95 0.95 0 1 0 1.9 0a0.95 0.95 0 1 0 -1.9 0M877.86 824.67a0.95 0.95 0 1 0 1.9 0a0.95 0.95 0 1 0 -1.9 0M881.16 827.97a0.95 0.95 0 1 0 1.9 0a0.95 0.95 0 1 0 -1.9 0M877.86 831.28a0.95 0.95 0 1 0 1.9 0a0.95 0.95 0 1 0 -1.9 0M881.16 834.58a0.95 0.95 0 1 0 1.9 0a0.95 0.95 0 1 0 -1.9 0M877.86 837.88a0.95 0.95 0 1 0 1.9 0a0.95 0.95 0 1 0 -1.9 0M881.16 841.18a0.95 0.95 0 1 0 1.9 0a0.95 0.95 0 1 0 -1.9 0M877.86 844.49a0.95 0.95 0 1 0 1.9 0a0.95 0.95 0 1 0 -1.9 0M881.16 847.79a0.95 0.95 0 1 0 1.9 0a0.95 0.95 0 1 0 -1.9 0M877.86 851.09a0.95 0.95 0 1 0 1.9 0a0.95 0.95 0 1 0 -1.9 0M887.77 794.95a0.95 0.95 0 1 0 1.9 0a0.95 0.95 0 1 0 -1.9 0M884.47 798.25a0.95 0.95 0 1 0 1.9 0a0.95 0.95 0 1 0 -1.9 0M887.77 801.55a0.95 0.95 0 1 0 1.9 0a0.95 0.95 0 1 0 -1.9 0M884.47 804.86a0.95 0.95 0 1 0 1.9 0a0.95 0.95 0 1 0 -1.9 0M887.77 808.16a0.95 0.95 0 1 0 1.9 0a0.95 0.95 0 1 0 -1.9 0M884.47 811.46a0.95 0.95 0 1 0 1.9 0a0.95 0.95 0 1 0 -1.9 0M887.77 814.76a0.95 0.95 0 1 0 1.9 0a0.95 0.95 0 1 0 -1.9 0M884.47 818.07a0.95 0.95 0 1 0 1.9 0a0.95 0.95 0 1 0 -1.9 0M887.77 821.37a0.95 0.95 0 1 0 1.9 0a0.95 0.95 0 1 0 -1.9 0M884.47 824.67a0.95 0.95 0 1 0 1.9 0a0.95 0.95 0 1 0 -1.9 0M887.77 827.97a0.95 0.95 0 1 0 1.9 0a0.95 0.95 0 1 0 -1.9 0M884.47 831.28a0.95 0.95 0 1 0 1.9 0a0.95 0.95 0 1 0 -1.9 0M887.77 834.58a0.95 0.95 0 1 0 1.9 0a0.95 0.95 0 1 0 -1.9 0M884.47 837.88a0.95 0.95 0 1 0 1.9 0a0.95 0.95 0 1 0 -1.9 0M887.77 841.18a0.95 0.95 0 1 0 1.9 0a0.95 0.95 0 1 0 -1.9 0M884.47 844.49a0.95 0.95 0 1 0 1.9 0a0.95 0.95 0 1 0 -1.9 0M887.77 847.79a0.95 0.95 0 1 0 1.9 0a0.95 0.95 0 1 0 -1.9 0M884.47 851.09a0.95 0.95 0 1 0 1.9 0a0.95 0.95 0 1 0 -1.9 0M894.37 794.95a0.95 0.95 0 1 0 1.9 0a0.95 0.95 0 1 0 -1.9 0M891.07 798.25a0.95 0.95 0 1 0 1.9 0a0.95 0.95 0 1 0 -1.9 0M894.37 801.55a0.95 0.95 0 1 0 1.9 0a0.95 0.95 0 1 0 -1.9 0M891.07 804.86a0.95 0.95 0 1 0 1.9 0a0.95 0.95 0 1 0 -1.9 0M894.37 808.16a0.95 0.95 0 1 0 1.9 0a0.95 0.95 0 1 0 -1.9 0M891.07 811.46a0.95 0.95 0 1 0 1.9 0a0.95 0.95 0 1 0 -1.9 0M894.37 814.76a0.95 0.95 0 1 0 1.9 0a0.95 0.95 0 1 0 -1.9 0M891.07 818.07a0.95 0.95 0 1 0 1.9 0a0.95 0.95 0 1 0 -1.9 0M894.37 821.37a0.95 0.95 0 1 0 1.9 0a0.95 0.95 0 1 0 -1.9 0M891.07 824.67a0.95 0.95 0 1 0 1.9 0a0.95 0.95 0 1 0 -1.9 0M894.37 827.97a0.95 0.95 0 1 0 1.9 0a0.95 0.95 0 1 0 -1.9 0M891.07 831.28a0.95 0.95 0 1 0 1.9 0a0.95 0.95 0 1 0 -1.9 0M894.37 834.58a0.95 0.95 0 1 0 1.9 0a0.95 0.95 0 1 0 -1.9 0M891.07 837.88a0.95 0.95 0 1 0 1.9 0a0.95 0.95 0 1 0 -1.9 0M894.37 841.18a0.95 0.95 0 1 0 1.9 0a0.95 0.95 0 1 0 -1.9 0M891.07 844.49a0.95 0.95 0 1 0 1.9 0a0.95 0.95 0 1 0 -1.9 0M894.37 847.79a0.95 0.95 0 1 0 1.9 0a0.95 0.95 0 1 0 -1.9 0M891.07 851.09a0.95 0.95 0 1 0 1.9 0a0.95 0.95 0 1 0 -1.9 0"/>
<rect x="861.05" y="793.40" width="34.80" height="60.00" fill="none" stroke="#000" stroke-width="3.0" stroke-linejoin="round"/>
<text x="873.06" y="763.26" font-size="24" textLength="11.97" lengthAdjust="spacingAndGlyphs">c</text>
<line x1="923.35" y1="755.10" x2="923.35" y2="745.60" stroke="#000" stroke-width="1.8"/>
<line x1="919.10" y1="745.60" x2="927.60" y2="745.60" stroke="#000" stroke-width="1.9" stroke-linecap="round"/>
<rect x="905.95" y="753.60" width="34.80" height="99.80" fill="#000" stroke="#000" stroke-width="3.0" stroke-linejoin="round"/>
<text x="916.20" y="728.26" font-size="24" textLength="11.40" lengthAdjust="spacingAndGlyphs">c</text>
<line x1="968.25" y1="718.00" x2="968.25" y2="681.50" stroke="#000" stroke-width="1.8"/>
<line x1="964.00" y1="681.50" x2="972.50" y2="681.50" stroke="#000" stroke-width="1.9" stroke-linecap="round"/>
<rect x="950.85" y="716.50" width="34.80" height="136.90" fill="#a6a6a6" stroke="#000" stroke-width="3.0" stroke-linejoin="round"/>
<line x1="964.00" y1="718.20" x2="972.50" y2="718.20" stroke="#000" stroke-width="1.2" stroke-linecap="round"/>
<text x="962.50" y="665.96" font-size="24" textLength="13.94" lengthAdjust="spacingAndGlyphs">b</text>
<line x1="1013.15" y1="714.00" x2="1013.15" y2="698.60" stroke="#000" stroke-width="1.8"/>
<line x1="1008.90" y1="698.60" x2="1017.40" y2="698.60" stroke="#000" stroke-width="1.9" stroke-linecap="round"/>
<rect x="995.75" y="712.50" width="34.80" height="140.90" fill="#fff" stroke="#000" stroke-width="3.0" stroke-linejoin="round"/>
<line x1="1008.90" y1="714.20" x2="1017.40" y2="714.20" stroke="#000" stroke-width="1.2" stroke-linecap="round"/>
<text x="1005.23" y="683.46" font-size="24" textLength="14.55" lengthAdjust="spacingAndGlyphs">b</text>
<rect x="95.93" y="1307.80" width="13.40" height="0.60" fill="#fff"/>
<clipPath id="c182"><rect x="95.93" y="1307.80" width="13.40" height="0.60"/></clipPath>
<path clip-path="url(#c182)" fill="#000" d="M96.82 1308.49a0.95 0.95 0 1 0 1.9 0a0.95 0.95 0 1 0 -1.9 0M100.12 1308.49a0.95 0.95 0 1 0 1.9 0a0.95 0.95 0 1 0 -1.9 0M103.42 1308.49a0.95 0.95 0 1 0 1.9 0a0.95 0.95 0 1 0 -1.9 0M106.73 1308.49a0.95 0.95 0 1 0 1.9 0a0.95 0.95 0 1 0 -1.9 0"/>
<rect x="95.93" y="1307.80" width="13.40" height="0.60" fill="none" stroke="#000" stroke-width="3.0" stroke-linejoin="round"/>
<text x="100.96" y="1292.14" font-size="15.5" textLength="7.59" lengthAdjust="spacingAndGlyphs">a</text>
<rect x="114.03" y="1307.80" width="13.40" height="0.60" fill="#000" stroke="#000" stroke-width="3.0" stroke-linejoin="round"/>
<text x="117.06" y="1297.14" font-size="15.5" textLength="7.59" lengthAdjust="spacingAndGlyphs">a</text>
<rect x="132.13" y="1301.80" width="13.40" height="6.60" fill="#a6a6a6" stroke="#000" stroke-width="3.0" stroke-linejoin="round"/>
<text x="134.16" y="1291.25" font-size="15.5" textLength="7.59" lengthAdjust="spacingAndGlyphs">a</text>
<line x1="156.93" y1="1305.60" x2="156.93" y2="1301.00" stroke="#000" stroke-width="1.8"/>
<line x1="152.83" y1="1301.00" x2="161.03" y2="1301.00" stroke="#000" stroke-width="1.9" stroke-linecap="round"/>
<rect x="150.23" y="1304.10" width="13.40" height="4.30" fill="#fff" stroke="#000" stroke-width="3.0" stroke-linejoin="round"/>
<line x1="152.83" y1="1305.80" x2="161.03" y2="1305.80" stroke="#000" stroke-width="1.2" stroke-linecap="round"/>
<text x="154.01" y="1294.94" font-size="15.5" textLength="7.59" lengthAdjust="spacingAndGlyphs">a</text>
<rect x="194.85" y="1307.50" width="13.40" height="0.90" fill="#fff"/>
<clipPath id="c196"><rect x="194.85" y="1307.50" width="13.40" height="0.90"/></clipPath>
<path clip-path="url(#c196)" fill="#000" d="M195.90 1308.49a0.95 0.95 0 1 0 1.9 0a0.95 0.95 0 1 0 -1.9 0M199.20 1308.49a0.95 0.95 0 1 0 1.9 0a0.95 0.95 0 1 0 -1.9 0M202.50 1308.49a0.95 0.95 0 1 0 1.9 0a0.95 0.95 0 1 0 -1.9 0M205.80 1308.49a0.95 0.95 0 1 0 1.9 0a0.95 0.95 0 1 0 -1.9 0M197.55 1306.84a0.95 0.95 0 1 0 1.9 0a0.95 0.95 0 1 0 -1.9 0M204.15 1306.84a0.95 0.95 0 1 0 1.9 0a0.95 0.95 0 1 0 -1.9 0"/>
<rect x="194.85" y="1307.50" width="13.40" height="0.90" fill="none" stroke="#000" stroke-width="3.0" stroke-linejoin="round"/>
<text x="198.76" y="1277.94" font-size="15.5" textLength="7.59" lengthAdjust="spacingAndGlyphs">a</text>
<text x="197.87" y="1299.05" font-size="15.5" textLength="9.47" lengthAdjust="spacingAndGlyphs">b</text>
<rect x="212.95" y="1306.50" width="13.40" height="1.90" fill="#000" stroke="#000" stroke-width="3.0" stroke-linejoin="round"/>
<text x="214.17" y="1294.94" font-size="15.5" textLength="9.47" lengthAdjust="spacingAndGlyphs">b</text>
<line x1="237.75" y1="1288.40" x2="237.75" y2="1268.10" stroke="#000" stroke-width="1.8"/>
<line x1="233.65" y1="1268.10" x2="241.85" y2="1268.10" stroke="#000" stroke-width="1.9" stroke-linecap="round"/>
<rect x="231.05" y="1286.90" width="13.40" height="21.50" fill="#a6a6a6" stroke="#000" stroke-width="3.0" stroke-linejoin="round"/>
<line x1="233.65" y1="1288.60" x2="241.85" y2="1288.60" stroke="#000" stroke-width="1.2" stroke-linecap="round"/>
<text x="233.17" y="1255.64" font-size="15.5" textLength="9.47" lengthAdjust="spacingAndGlyphs">b</text>
<line x1="255.85" y1="1297.90" x2="255.85" y2="1289.30" stroke="#000" stroke-width="1.8"/>
<line x1="251.75" y1="1289.30" x2="259.95" y2="1289.30" stroke="#000" stroke-width="1.9" stroke-linecap="round"/>
<rect x="249.15" y="1296.40" width="13.40" height="12.00" fill="#fff" stroke="#000" stroke-width="3.0" stroke-linejoin="round"/>
<line x1="251.75" y1="1298.10" x2="259.95" y2="1298.10" stroke="#000" stroke-width="1.2" stroke-linecap="round"/>
<text x="253.02" y="1281.05" font-size="15.5" textLength="9.47" lengthAdjust="spacingAndGlyphs">b</text>
<rect x="293.77" y="1307.60" width="13.40" height="0.80" fill="#fff"/>
<clipPath id="c214"><rect x="293.77" y="1307.60" width="13.40" height="0.80"/></clipPath>
<path clip-path="url(#c214)" fill="#000" d="M294.97 1308.49a0.95 0.95 0 1 0 1.9 0a0.95 0.95 0 1 0 -1.9 0M298.27 1308.49a0.95 0.95 0 1 0 1.9 0a0.95 0.95 0 1 0 -1.9 0M301.58 1308.49a0.95 0.95 0 1 0 1.9 0a0.95 0.95 0 1 0 -1.9 0M304.88 1308.49a0.95 0.95 0 1 0 1.9 0a0.95 0.95 0 1 0 -1.9 0M296.62 1306.84a0.95 0.95 0 1 0 1.9 0a0.95 0.95 0 1 0 -1.9 0M303.23 1306.84a0.95 0.95 0 1 0 1.9 0a0.95 0.95 0 1 0 -1.9 0"/>
<rect x="293.77" y="1307.60" width="13.40" height="0.80" fill="none" stroke="#000" stroke-width="3.0" stroke-linejoin="round"/>
<text x="294.87" y="1298.94" font-size="15.5" textLength="9.47" lengthAdjust="spacingAndGlyphs">b</text>
<rect x="311.87" y="1304.30" width="13.40" height="4.10" fill="#000" stroke="#000" stroke-width="3.0" stroke-linejoin="round"/>
<text x="313.02" y="1273.25" font-size="15.5" textLength="9.47" lengthAdjust="spacingAndGlyphs">b</text>
<text x="313.87" y="1294.25" font-size="15.5" textLength="8.02" lengthAdjust="spacingAndGlyphs">c</text>
<line x1="336.67" y1="1258.70" x2="336.67" y2="1248.50" stroke="#000" stroke-width="1.8"/>
<line x1="332.57" y1="1248.50" x2="340.77" y2="1248.50" stroke="#000" stroke-width="1.9" stroke-linecap="round"/>
<rect x="329.97" y="1257.20" width="13.40" height="51.20" fill="#a6a6a6" stroke="#000" stroke-width="3.0" stroke-linejoin="round"/>
<line x1="332.57" y1="1258.90" x2="340.77" y2="1258.90" stroke="#000" stroke-width="1.2" stroke-linecap="round"/>
<text x="332.02" y="1236.55" font-size="15.5" textLength="8.02" lengthAdjust="spacingAndGlyphs">c</text>
<line x1="354.77" y1="1286.60" x2="354.77" y2="1276.40" stroke="#000" stroke-width="1.8"/>
<line x1="350.67" y1="1276.40" x2="358.87" y2="1276.40" stroke="#000" stroke-width="1.9" stroke-linecap="round"/>
<rect x="348.07" y="1285.10" width="13.40" height="23.30" fill="#fff" stroke="#000" stroke-width="3.0" stroke-linejoin="round"/>
<line x1="350.67" y1="1286.80" x2="358.87" y2="1286.80" stroke="#000" stroke-width="1.2" stroke-linecap="round"/>
<text x="351.37" y="1246.85" font-size="15.5" textLength="9.47" lengthAdjust="spacingAndGlyphs">b</text>
<text x="352.22" y="1268.25" font-size="15.5" textLength="8.02" lengthAdjust="spacingAndGlyphs">c</text>
<rect x="392.69" y="1303.90" width="13.40" height="4.50" fill="#fff"/>
<clipPath id="c233"><rect x="392.69" y="1303.90" width="13.40" height="4.50"/></clipPath>
<path clip-path="url(#c233)" fill="#000" d="M394.05 1305.19a0.95 0.95 0 1 0 1.9 0a0.95 0.95 0 1 0 -1.9 0M394.05 1308.49a0.95 0.95 0 1 0 1.9 0a0.95 0.95 0 1 0 -1.9 0M397.35 1305.19a0.95 0.95 0 1 0 1.9 0a0.95 0.95 0 1 0 -1.9 0M397.35 1308.49a0.95 0.95 0 1 0 1.9 0a0.95 0.95 0 1 0 -1.9 0M400.65 1305.19a0.95 0.95 0 1 0 1.9 0a0.95 0.95 0 1 0 -1.9 0M400.65 1308.49a0.95 0.95 0 1 0 1.9 0a0.95 0.95 0 1 0 -1.9 0M403.95 1305.19a0.95 0.95 0 1 0 1.9 0a0.95 0.95 0 1 0 -1.9 0M403.95 1308.49a0.95 0.95 0 1 0 1.9 0a0.95 0.95 0 1 0 -1.9 0M392.39 1303.53a0.95 0.95 0 1 0 1.9 0a0.95 0.95 0 1 0 -1.9 0M399.00 1303.53a0.95 0.95 0 1 0 1.9 0a0.95 0.95 0 1 0 -1.9 0M395.70 1306.84a0.95 0.95 0 1 0 1.9 0a0.95 0.95 0 1 0 -1.9 0M405.60 1303.53a0.95 0.95 0 1 0 1.9 0a0.95 0.95 0 1 0 -1.9 0M402.30 1306.84a0.95 0.95 0 1 0 1.9 0a0.95 0.95 0 1 0 -1.9 0"/>
<rect x="392.69" y="1303.90" width="13.40" height="4.50" fill="none" stroke="#000" stroke-width="3.0" stroke-linejoin="round"/>
<text x="394.77" y="1294.85" font-size="15.5" textLength="8.02" lengthAdjust="spacingAndGlyphs">c</text>
<rect x="410.79" y="1297.20" width="13.40" height="11.20" fill="#000" stroke="#000" stroke-width="3.0" stroke-linejoin="round"/>
<text x="413.42" y="1265.85" font-size="15.5" textLength="8.02" lengthAdjust="spacingAndGlyphs">c</text>
<text x="412.82" y="1287.14" font-size="15.5" textLength="9.75" lengthAdjust="spacingAndGlyphs">d</text>
<line x1="435.59" y1="1227.40" x2="435.59" y2="1210.70" stroke="#000" stroke-width="1.8"/>
<line x1="431.49" y1="1210.70" x2="439.69" y2="1210.70" stroke="#000" stroke-width="1.9" stroke-linecap="round"/>
<rect x="428.89" y="1225.90" width="13.40" height="82.50" fill="#a6a6a6" stroke="#000" stroke-width="3.0" stroke-linejoin="round"/>
<line x1="431.49" y1="1227.60" x2="439.69" y2="1227.60" stroke="#000" stroke-width="1.2" stroke-linecap="round"/>
<text x="430.87" y="1182.64" font-size="15.5" textLength="8.02" lengthAdjust="spacingAndGlyphs">c</text>
<text x="430.27" y="1203.85" font-size="15.5" textLength="9.75" lengthAdjust="spacingAndGlyphs">d</text>
<line x1="453.69" y1="1267.10" x2="453.69" y2="1249.80" stroke="#000" stroke-width="1.8"/>
<line x1="449.59" y1="1249.80" x2="457.79" y2="1249.80" stroke="#000" stroke-width="1.9" stroke-linecap="round"/>
<rect x="446.99" y="1265.60" width="13.40" height="42.80" fill="#fff" stroke="#000" stroke-width="3.0" stroke-linejoin="round"/>
<line x1="449.59" y1="1267.30" x2="457.79" y2="1267.30" stroke="#000" stroke-width="1.2" stroke-linecap="round"/>
<text x="450.82" y="1217.94" font-size="15.5" textLength="8.02" lengthAdjust="spacingAndGlyphs">c</text>
<text x="450.22" y="1239.05" font-size="15.5" textLength="9.75" lengthAdjust="spacingAndGlyphs">d</text>
<line x1="498.31" y1="1283.90" x2="498.31" y2="1278.20" stroke="#000" stroke-width="1.8"/>
<line x1="494.21" y1="1278.20" x2="502.41" y2="1278.20" stroke="#000" stroke-width="1.9" stroke-linecap="round"/>
<rect x="491.61" y="1282.40" width="13.40" height="26.00" fill="#fff"/>
<clipPath id="c255"><rect x="491.61" y="1282.40" width="13.40" height="26.00"/></clipPath>
<path clip-path="url(#c255)" fill="#000" d="M489.82 1282.07a0.95 0.95 0 1 0 1.9 0a0.95 0.95 0 1 0 -1.9 0M489.82 1285.37a0.95 0.95 0 1 0 1.9 0a0.95 0.95 0 1 0 -1.9 0M489.82 1288.67a0.95 0.95 0 1 0 1.9 0a0.95 0.95 0 1 0 -1.9 0M489.82 1291.98a0.95 0.95 0 1 0 1.9 0a0.95 0.95 0 1 0 -1.9 0M489.82 1295.28a0.95 0.95 0 1 0 1.9 0a0.95 0.95 0 1 0 -1.9 0M489.82 1298.58a0.95 0.95 0 1 0 1.9 0a0.95 0.95 0 1 0 -1.9 0M489.82 1301.88a0.95 0.95 0 1 0 1.9 0a0.95 0.95 0 1 0 -1.9 0M489.82 1305.19a0.95 0.95 0 1 0 1.9 0a0.95 0.95 0 1 0 -1.9 0M489.82 1308.49a0.95 0.95 0 1 0 1.9 0a0.95 0.95 0 1 0 -1.9 0M493.12 1282.07a0.95 0.95 0 1 0 1.9 0a0.95 0.95 0 1 0 -1.9 0M493.12 1285.37a0.95 0.95 0 1 0 1.9 0a0.95 0.95 0 1 0 -1.9 0M493.12 1288.67a0.95 0.95 0 1 0 1.9 0a0.95 0.95 0 1 0 -1.9 0M493.12 1291.98a0.95 0.95 0 1 0 1.9 0a0.95 0.95 0 1 0 -1.9 0M493.12 1295.28a0.95 0.95 0 1 0 1.9 0a0.95 0.95 0 1 0 -1.9 0M493.12 1298.58a0.95 0.95 0 1 0 1.9 0a0.95 0.95 0 1 0 -1.9 0M493.12 1301.88a0.95 0.95 0 1 0 1.9 0a0.95 0.95 0 1 0 -1.9 0M493.12 1305.19a0.95 0.95 0 1 0 1.9 0a0.95 0.95 0 1 0 -1.9 0M493.12 1308.49a0.95 0.95 0 1 0 1.9 0a0.95 0.95 0 1 0 -1.9 0M496.42 1282.07a0.95 0.95 0 1 0 1.9 0a0.95 0.95 0 1 0 -1.9 0M496.42 1285.37a0.95 0.95 0 1 0 1.9 0a0.95 0.95 0 1 0 -1.9 0M496.42 1288.67a0.95 0.95 0 1 0 1.9 0a0.95 0.95 0 1 0 -1.9 0M496.42 1291.98a0.95 0.95 0 1 0 1.9 0a0.95 0.95 0 1 0 -1.9 0M496.42 1295.28a0.95 0.95 0 1 0 1.9 0a0.95 0.95 0 1 0 -1.9 0M496.42 1298.58a0.95 0.95 0 1 0 1.9 0a0.95 0.95 0 1 0 -1.9 0M496.42 1301.88a0.95 0.95 0 1 0 1.9 0a0.95 0.95 0 1 0 -1.9 0M496.42 1305.19a0.95 0.95 0 1 0 1.9 0a0.95 0.95 0 1 0 -1.9 0M496.42 1308.49a0.95 0.95 0 1 0 1.9 0a0.95 0.95 0 1 0 -1.9 0M499.73 1282.07a0.95 0.95 0 1 0 1.9 0a0.95 0.95 0 1 0 -1.9 0M499.73 1285.37a0.95 0.95 0 1 0 1.9 0a0.95 0.95 0 1 0 -1.9 0M499.73 1288.67a0.95 0.95 0 1 0 1.9 0a0.95 0.95 0 1 0 -1.9 0M499.73 1291.98a0.95 0.95 0 1 0 1.9 0a0.95 0.95 0 1 0 -1.9 0M499.73 1295.28a0.95 0.95 0 1 0 1.9 0a0.95 0.95 0 1 0 -1.9 0M499.73 1298.58a0.95 0.95 0 1 0 1.9 0a0.95 0.95 0 1 0 -1.9 0M499.73 1301.88a0.95 0.95 0 1 0 1.9 0a0.95 0.95 0 1 0 -1.9 0M499.73 1305.19a0.95 0.95 0 1 0 1.9 0a0.95 0.95 0 1 0 -1.9 0M499.73 1308.49a0.95 0.95 0 1 0 1.9 0a0.95 0.95 0 1 0 -1.9 0M503.03 1282.07a0.95 0.95 0 1 0 1.9 0a0.95 0.95 0 1 0 -1.9 0M503.03 1285.37a0.95 0.95 0 1 0 1.9 0a0.95 0.95 0 1 0 -1.9 0M503.03 1288.67a0.95 0.95 0 1 0 1.9 0a0.95 0.95 0 1 0 -1.9 0M503.03 1291.98a0.95 0.95 0 1 0 1.9 0a0.95 0.95 0 1 0 -1.9 0M503.03 1295.28a0.95 0.95 0 1 0 1.9 0a0.95 0.95 0 1 0 -1.9 0M503.03 1298.58a0.95 0.95 0 1 0 1.9 0a0.95 0.95 0 1 0 -1.9 0M503.03 1301.88a0.95 0.95 0 1 0 1.9 0a0.95 0.95 0 1 0 -1.9 0M503.03 1305.19a0.95 0.95 0 1 0 1.9 0a0.95 0.95 0 1 0 -1.9 0M503.03 1308.49a0.95 0.95 0 1 0 1.9 0a0.95 0.95 0 1 0 -1.9 0M491.47 1283.72a0.95 0.95 0 1 0 1.9 0a0.95 0.95 0 1 0 -1.9 0M491.47 1290.32a0.95 0.95 0 1 0 1.9 0a0.95 0.95 0 1 0 -1.9 0M491.47 1296.93a0.95 0.95 0 1 0 1.9 0a0.95 0.95 0 1 0 -1.9 0M491.47 1303.53a0.95 0.95 0 1 0 1.9 0a0.95 0.95 0 1 0 -1.9 0M498.07 1283.72a0.95 0.95 0 1 0 1.9 0a0.95 0.95 0 1 0 -1.9 0M494.77 1287.02a0.95 0.95 0 1 0 1.9 0a0.95 0.95 0 1 0 -1.9 0M498.07 1290.32a0.95 0.95 0 1 0 1.9 0a0.95 0.95 0 1 0 -1.9 0M494.77 1293.63a0.95 0.95 0 1 0 1.9 0a0.95 0.95 0 1 0 -1.9 0M498.07 1296.93a0.95 0.95 0 1 0 1.9 0a0.95 0.95 0 1 0 -1.9 0M494.77 1300.23a0.95 0.95 0 1 0 1.9 0a0.95 0.95 0 1 0 -1.9 0M498.07 1303.53a0.95 0.95 0 1 0 1.9 0a0.95 0.95 0 1 0 -1.9 0M494.77 1306.84a0.95 0.95 0 1 0 1.9 0a0.95 0.95 0 1 0 -1.9 0M504.68 1283.72a0.95 0.95 0 1 0 1.9 0a0.95 0.95 0 1 0 -1.9 0M501.38 1287.02a0.95 0.95 0 1 0 1.9 0a0.95 0.95 0 1 0 -1.9 0M504.68 1290.32a0.95 0.95 0 1 0 1.9 0a0.95 0.95 0 1 0 -1.9 0M501.38 1293.63a0.95 0.95 0 1 0 1.9 0a0.95 0.95 0 1 0 -1.9 0M504.68 1296.93a0.95 0.95 0 1 0 1.9 0a0.95 0.95 0 1 0 -1.9 0M501.38 1300.23a0.95 0.95 0 1 0 1.9 0a0.95 0.95 0 1 0 -1.9 0M504.68 1303.53a0.95 0.95 0 1 0 1.9 0a0.95 0.95 0 1 0 -1.9 0M501.38 1306.84a0.95 0.95 0 1 0 1.9 0a0.95 0.95 0 1 0 -1.9 0"/>
<rect x="491.61" y="1282.40" width="13.40" height="26.00" fill="none" stroke="#000" stroke-width="3.0" stroke-linejoin="round"/>
<text x="493.52" y="1268.55" font-size="15.5" textLength="9.75" lengthAdjust="spacingAndGlyphs">d</text>
<line x1="516.41" y1="1274.40" x2="516.41" y2="1269.10" stroke="#000" stroke-width="1.8"/>
<line x1="512.31" y1="1269.10" x2="520.51" y2="1269.10" stroke="#000" stroke-width="1.9" stroke-linecap="round"/>
<rect x="509.71" y="1272.90" width="13.40" height="35.50" fill="#000" stroke="#000" stroke-width="3.0" stroke-linejoin="round"/>
<text x="510.72" y="1237.55" font-size="15.5" textLength="9.75" lengthAdjust="spacingAndGlyphs">d</text>
<text x="510.79" y="1258.64" font-size="15.5" textLength="9.14" lengthAdjust="spacingAndGlyphs">e</text>
<line x1="534.51" y1="1133.70" x2="534.51" y2="1053.70" stroke="#000" stroke-width="1.8"/>
<line x1="530.41" y1="1053.70" x2="538.61" y2="1053.70" stroke="#000" stroke-width="1.9" stroke-linecap="round"/>
<rect x="527.81" y="1132.20" width="13.40" height="176.20" fill="#a6a6a6" stroke="#000" stroke-width="3.0" stroke-linejoin="round"/>
<line x1="530.41" y1="1133.90" x2="538.61" y2="1133.90" stroke="#000" stroke-width="1.2" stroke-linecap="round"/>
<text x="528.42" y="1025.55" font-size="15.5" textLength="9.75" lengthAdjust="spacingAndGlyphs">d</text>
<text x="528.49" y="1046.64" font-size="15.5" textLength="9.14" lengthAdjust="spacingAndGlyphs">e</text>
<line x1="552.61" y1="1158.50" x2="552.61" y2="1093.20" stroke="#000" stroke-width="1.8"/>
<line x1="548.51" y1="1093.20" x2="556.71" y2="1093.20" stroke="#000" stroke-width="1.9" stroke-linecap="round"/>
<rect x="545.91" y="1157.00" width="13.40" height="151.40" fill="#fff" stroke="#000" stroke-width="3.0" stroke-linejoin="round"/>
<line x1="548.51" y1="1158.70" x2="556.71" y2="1158.70" stroke="#000" stroke-width="1.2" stroke-linecap="round"/>
<text x="547.79" y="1083.75" font-size="15.5" textLength="9.14" lengthAdjust="spacingAndGlyphs">e</text>
<rect x="590.53" y="1307.50" width="13.40" height="0.90" fill="#fff"/>
<clipPath id="c276"><rect x="590.53" y="1307.50" width="13.40" height="0.90"/></clipPath>
<path clip-path="url(#c276)" fill="#000" d="M588.89 1308.49a0.95 0.95 0 1 0 1.9 0a0.95 0.95 0 1 0 -1.9 0M592.19 1308.49a0.95 0.95 0 1 0 1.9 0a0.95 0.95 0 1 0 -1.9 0M595.50 1308.49a0.95 0.95 0 1 0 1.9 0a0.95 0.95 0 1 0 -1.9 0M598.80 1308.49a0.95 0.95 0 1 0 1.9 0a0.95 0.95 0 1 0 -1.9 0M602.10 1308.49a0.95 0.95 0 1 0 1.9 0a0.95 0.95 0 1 0 -1.9 0M593.85 1306.84a0.95 0.95 0 1 0 1.9 0a0.95 0.95 0 1 0 -1.9 0M600.45 1306.84a0.95 0.95 0 1 0 1.9 0a0.95 0.95 0 1 0 -1.9 0"/>
<rect x="590.53" y="1307.50" width="13.40" height="0.90" fill="none" stroke="#000" stroke-width="3.0" stroke-linejoin="round"/>
<text x="593.87" y="1296.55" font-size="15.5" textLength="9.47" lengthAdjust="spacingAndGlyphs">b</text>
<rect x="608.63" y="1303.90" width="13.40" height="4.50" fill="#000" stroke="#000" stroke-width="3.0" stroke-linejoin="round"/>
<text x="611.32" y="1272.35" font-size="15.5" textLength="9.47" lengthAdjust="spacingAndGlyphs">b</text>
<text x="612.17" y="1293.44" font-size="15.5" textLength="8.02" lengthAdjust="spacingAndGlyphs">c</text>
<line x1="633.43" y1="1155.80" x2="633.43" y2="1127.10" stroke="#000" stroke-width="1.8"/>
<line x1="629.33" y1="1127.10" x2="637.53" y2="1127.10" stroke="#000" stroke-width="1.9" stroke-linecap="round"/>
<rect x="626.73" y="1154.30" width="13.40" height="154.10" fill="#a6a6a6" stroke="#000" stroke-width="3.0" stroke-linejoin="round"/>
<line x1="629.33" y1="1156.00" x2="637.53" y2="1156.00" stroke="#000" stroke-width="1.2" stroke-linecap="round"/>
<text x="628.32" y="1096.14" font-size="15.5" textLength="9.75" lengthAdjust="spacingAndGlyphs">d</text>
<text x="628.39" y="1117.25" font-size="15.5" textLength="9.14" lengthAdjust="spacingAndGlyphs">e</text>
<line x1="651.53" y1="1219.00" x2="651.53" y2="1190.30" stroke="#000" stroke-width="1.8"/>
<line x1="647.43" y1="1190.30" x2="655.63" y2="1190.30" stroke="#000" stroke-width="1.9" stroke-linecap="round"/>
<rect x="644.83" y="1217.50" width="13.40" height="90.90" fill="#fff" stroke="#000" stroke-width="3.0" stroke-linejoin="round"/>
<line x1="647.43" y1="1219.20" x2="655.63" y2="1219.20" stroke="#000" stroke-width="1.2" stroke-linecap="round"/>
<text x="646.42" y="1158.55" font-size="15.5" textLength="9.75" lengthAdjust="spacingAndGlyphs">d</text>
<text x="646.49" y="1180.05" font-size="15.5" textLength="9.14" lengthAdjust="spacingAndGlyphs">e</text>
<rect x="689.45" y="1303.30" width="13.40" height="5.10" fill="#fff"/>
<clipPath id="c296"><rect x="689.45" y="1303.30" width="13.40" height="5.10"/></clipPath>
<path clip-path="url(#c296)" fill="#000" d="M687.97 1305.19a0.95 0.95 0 1 0 1.9 0a0.95 0.95 0 1 0 -1.9 0M687.97 1308.49a0.95 0.95 0 1 0 1.9 0a0.95 0.95 0 1 0 -1.9 0M691.27 1305.19a0.95 0.95 0 1 0 1.9 0a0.95 0.95 0 1 0 -1.9 0M691.27 1308.49a0.95 0.95 0 1 0 1.9 0a0.95 0.95 0 1 0 -1.9 0M694.57 1305.19a0.95 0.95 0 1 0 1.9 0a0.95 0.95 0 1 0 -1.9 0M694.57 1308.49a0.95 0.95 0 1 0 1.9 0a0.95 0.95 0 1 0 -1.9 0M697.88 1305.19a0.95 0.95 0 1 0 1.9 0a0.95 0.95 0 1 0 -1.9 0M697.88 1308.49a0.95 0.95 0 1 0 1.9 0a0.95 0.95 0 1 0 -1.9 0M701.18 1305.19a0.95 0.95 0 1 0 1.9 0a0.95 0.95 0 1 0 -1.9 0M701.18 1308.49a0.95 0.95 0 1 0 1.9 0a0.95 0.95 0 1 0 -1.9 0M689.62 1303.53a0.95 0.95 0 1 0 1.9 0a0.95 0.95 0 1 0 -1.9 0M696.22 1303.53a0.95 0.95 0 1 0 1.9 0a0.95 0.95 0 1 0 -1.9 0M692.92 1306.84a0.95 0.95 0 1 0 1.9 0a0.95 0.95 0 1 0 -1.9 0M702.83 1303.53a0.95 0.95 0 1 0 1.9 0a0.95 0.95 0 1 0 -1.9 0M699.53 1306.84a0.95 0.95 0 1 0 1.9 0a0.95 0.95 0 1 0 -1.9 0"/>
<rect x="689.45" y="1303.30" width="13.40" height="5.10" fill="none" stroke="#000" stroke-width="3.0" stroke-linejoin="round"/>
<text x="690.37" y="1293.85" font-size="15.5" textLength="8.02" lengthAdjust="spacingAndGlyphs">c</text>
<line x1="714.25" y1="1283.30" x2="714.25" y2="1277.80" stroke="#000" stroke-width="1.8"/>
<line x1="710.15" y1="1277.80" x2="718.35" y2="1277.80" stroke="#000" stroke-width="1.9" stroke-linecap="round"/>
<rect x="707.55" y="1281.80" width="13.40" height="26.60" fill="#000" stroke="#000" stroke-width="3.0" stroke-linejoin="round"/>
<text x="710.52" y="1247.44" font-size="15.5" textLength="9.75" lengthAdjust="spacingAndGlyphs">d</text>
<text x="710.59" y="1268.14" font-size="15.5" textLength="9.14" lengthAdjust="spacingAndGlyphs">e</text>
<line x1="732.35" y1="1059.30" x2="732.35" y2="1009.20" stroke="#000" stroke-width="1.8"/>
<line x1="728.25" y1="1009.20" x2="736.45" y2="1009.20" stroke="#000" stroke-width="1.9" stroke-linecap="round"/>
<rect x="725.65" y="1057.80" width="13.40" height="250.60" fill="#a6a6a6" stroke="#000" stroke-width="3.0" stroke-linejoin="round"/>
<line x1="728.25" y1="1059.50" x2="736.45" y2="1059.50" stroke="#000" stroke-width="1.2" stroke-linecap="round"/>
<text x="727.94" y="997.14" font-size="15.5" textLength="9.14" lengthAdjust="spacingAndGlyphs">e</text>
<line x1="750.45" y1="1129.90" x2="750.45" y2="1123.30" stroke="#000" stroke-width="1.8"/>
<line x1="746.35" y1="1123.30" x2="754.55" y2="1123.30" stroke="#000" stroke-width="1.9" stroke-linecap="round"/>
<rect x="743.75" y="1128.40" width="13.40" height="180.00" fill="#fff" stroke="#000" stroke-width="3.0" stroke-linejoin="round"/>
<line x1="746.35" y1="1130.10" x2="754.55" y2="1130.10" stroke="#000" stroke-width="1.2" stroke-linecap="round"/>
<text x="746.69" y="1109.85" font-size="15.5" textLength="9.14" lengthAdjust="spacingAndGlyphs">e</text>
<rect x="788.37" y="1303.90" width="13.40" height="4.50" fill="#fff"/>
<clipPath id="c316"><rect x="788.37" y="1303.90" width="13.40" height="4.50"/></clipPath>
<path clip-path="url(#c316)" fill="#000" d="M787.04 1305.19a0.95 0.95 0 1 0 1.9 0a0.95 0.95 0 1 0 -1.9 0M787.04 1308.49a0.95 0.95 0 1 0 1.9 0a0.95 0.95 0 1 0 -1.9 0M790.34 1305.19a0.95 0.95 0 1 0 1.9 0a0.95 0.95 0 1 0 -1.9 0M790.34 1308.49a0.95 0.95 0 1 0 1.9 0a0.95 0.95 0 1 0 -1.9 0M793.65 1305.19a0.95 0.95 0 1 0 1.9 0a0.95 0.95 0 1 0 -1.9 0M793.65 1308.49a0.95 0.95 0 1 0 1.9 0a0.95 0.95 0 1 0 -1.9 0M796.95 1305.19a0.95 0.95 0 1 0 1.9 0a0.95 0.95 0 1 0 -1.9 0M796.95 1308.49a0.95 0.95 0 1 0 1.9 0a0.95 0.95 0 1 0 -1.9 0M800.25 1305.19a0.95 0.95 0 1 0 1.9 0a0.95 0.95 0 1 0 -1.9 0M800.25 1308.49a0.95 0.95 0 1 0 1.9 0a0.95 0.95 0 1 0 -1.9 0M788.69 1303.53a0.95 0.95 0 1 0 1.9 0a0.95 0.95 0 1 0 -1.9 0M795.30 1303.53a0.95 0.95 0 1 0 1.9 0a0.95 0.95 0 1 0 -1.9 0M792.00 1306.84a0.95 0.95 0 1 0 1.9 0a0.95 0.95 0 1 0 -1.9 0M798.60 1306.84a0.95 0.95 0 1 0 1.9 0a0.95 0.95 0 1 0 -1.9 0"/>
<rect x="788.37" y="1303.90" width="13.40" height="4.50" fill="none" stroke="#000" stroke-width="3.0" stroke-linejoin="round"/>
<text x="790.02" y="1296.55" font-size="15.5" textLength="8.02" lengthAdjust="spacingAndGlyphs">c</text>
<line x1="813.17" y1="1270.70" x2="813.17" y2="1252.50" stroke="#000" stroke-width="1.8"/>
<line x1="809.07" y1="1252.50" x2="817.27" y2="1252.50" stroke="#000" stroke-width="1.9" stroke-linecap="round"/>
<rect x="806.47" y="1269.20" width="13.40" height="39.20" fill="#000" stroke="#000" stroke-width="3.0" stroke-linejoin="round"/>
<text x="808.32" y="1222.85" font-size="15.5" textLength="9.75" lengthAdjust="spacingAndGlyphs">d</text>
<text x="808.39" y="1244.35" font-size="15.5" textLength="9.14" lengthAdjust="spacingAndGlyphs">e</text>
<line x1="831.27" y1="1074.70" x2="831.27" y2="1057.30" stroke="#000" stroke-width="1.8"/>
<line x1="827.17" y1="1057.30" x2="835.37" y2="1057.30" stroke="#000" stroke-width="1.9" stroke-linecap="round"/>
<rect x="824.57" y="1073.20" width="13.40" height="235.20" fill="#a6a6a6" stroke="#000" stroke-width="3.0" stroke-linejoin="round"/>
<line x1="827.17" y1="1074.90" x2="835.37" y2="1074.90" stroke="#000" stroke-width="1.2" stroke-linecap="round"/>
<text x="825.79" y="1039.85" font-size="15.5" textLength="9.14" lengthAdjust="spacingAndGlyphs">e</text>
<line x1="849.37" y1="1176.90" x2="849.37" y2="1142.30" stroke="#000" stroke-width="1.8"/>
<line x1="845.27" y1="1142.30" x2="853.47" y2="1142.30" stroke="#000" stroke-width="1.9" stroke-linecap="round"/>
<rect x="842.67" y="1175.40" width="13.40" height="133.00" fill="#fff" stroke="#000" stroke-width="3.0" stroke-linejoin="round"/>
<line x1="845.27" y1="1177.10" x2="853.47" y2="1177.10" stroke="#000" stroke-width="1.2" stroke-linecap="round"/>
<text x="844.69" y="1128.44" font-size="15.5" textLength="9.14" lengthAdjust="spacingAndGlyphs">e</text>
<line x1="893.99" y1="1301.80" x2="893.99" y2="1297.30" stroke="#000" stroke-width="1.8"/>
<line x1="889.89" y1="1297.30" x2="898.09" y2="1297.30" stroke="#000" stroke-width="1.9" stroke-linecap="round"/>
<rect x="887.29" y="1300.30" width="13.40" height="8.10" fill="#fff"/>
<clipPath id="c338"><rect x="887.29" y="1300.30" width="13.40" height="8.10"/></clipPath>
<path clip-path="url(#c338)" fill="#000" d="M886.12 1301.88a0.95 0.95 0 1 0 1.9 0a0.95 0.95 0 1 0 -1.9 0M886.12 1305.19a0.95 0.95 0 1 0 1.9 0a0.95 0.95 0 1 0 -1.9 0M886.12 1308.49a0.95 0.95 0 1 0 1.9 0a0.95 0.95 0 1 0 -1.9 0M889.42 1301.88a0.95 0.95 0 1 0 1.9 0a0.95 0.95 0 1 0 -1.9 0M889.42 1305.19a0.95 0.95 0 1 0 1.9 0a0.95 0.95 0 1 0 -1.9 0M889.42 1308.49a0.95 0.95 0 1 0 1.9 0a0.95 0.95 0 1 0 -1.9 0M892.72 1301.88a0.95 0.95 0 1 0 1.9 0a0.95 0.95 0 1 0 -1.9 0M892.72 1305.19a0.95 0.95 0 1 0 1.9 0a0.95 0.95 0 1 0 -1.9 0M892.72 1308.49a0.95 0.95 0 1 0 1.9 0a0.95 0.95 0 1 0 -1.9 0M896.02 1301.88a0.95 0.95 0 1 0 1.9 0a0.95 0.95 0 1 0 -1.9 0M896.02 1305.19a0.95 0.95 0 1 0 1.9 0a0.95 0.95 0 1 0 -1.9 0M896.02 1308.49a0.95 0.95 0 1 0 1.9 0a0.95 0.95 0 1 0 -1.9 0M899.33 1301.88a0.95 0.95 0 1 0 1.9 0a0.95 0.95 0 1 0 -1.9 0M899.33 1305.19a0.95 0.95 0 1 0 1.9 0a0.95 0.95 0 1 0 -1.9 0M899.33 1308.49a0.95 0.95 0 1 0 1.9 0a0.95 0.95 0 1 0 -1.9 0M887.77 1303.53a0.95 0.95 0 1 0 1.9 0a0.95 0.95 0 1 0 -1.9 0M891.07 1300.23a0.95 0.95 0 1 0 1.9 0a0.95 0.95 0 1 0 -1.9 0M894.37 1303.53a0.95 0.95 0 1 0 1.9 0a0.95 0.95 0 1 0 -1.9 0M891.07 1306.84a0.95 0.95 0 1 0 1.9 0a0.95 0.95 0 1 0 -1.9 0M897.68 1300.23a0.95 0.95 0 1 0 1.9 0a0.95 0.95 0 1 0 -1.9 0M897.68 1306.84a0.95 0.95 0 1 0 1.9 0a0.95 0.95 0 1 0 -1.9 0"/>
<rect x="887.29" y="1300.30" width="13.40" height="8.10" fill="none" stroke="#000" stroke-width="3.0" stroke-linejoin="round"/>
<text x="890.02" y="1287.25" font-size="15.5" textLength="8.02" lengthAdjust="spacingAndGlyphs">c</text>
<line x1="912.09" y1="1276.70" x2="912.09" y2="1270.60" stroke="#000" stroke-width="1.8"/>
<line x1="907.99" y1="1270.60" x2="916.19" y2="1270.60" stroke="#000" stroke-width="1.9" stroke-linecap="round"/>
<rect x="905.39" y="1275.20" width="13.40" height="33.20" fill="#000" stroke="#000" stroke-width="3.0" stroke-linejoin="round"/>
<text x="906.02" y="1240.55" font-size="15.5" textLength="9.75" lengthAdjust="spacingAndGlyphs">d</text>
<text x="906.09" y="1262.05" font-size="15.5" textLength="9.14" lengthAdjust="spacingAndGlyphs">e</text>
<line x1="930.19" y1="1118.20" x2="930.19" y2="1094.30" stroke="#000" stroke-width="1.8"/>
<line x1="926.09" y1="1094.30" x2="934.29" y2="1094.30" stroke="#000" stroke-width="1.9" stroke-linecap="round"/>
<rect x="923.49" y="1116.70" width="13.40" height="191.70" fill="#a6a6a6" stroke="#000" stroke-width="3.0" stroke-linejoin="round"/>
<line x1="926.09" y1="1118.40" x2="934.29" y2="1118.40" stroke="#000" stroke-width="1.2" stroke-linecap="round"/>
<text x="924.62" y="1061.35" font-size="15.5" textLength="9.75" lengthAdjust="spacingAndGlyphs">d</text>
<text x="924.69" y="1082.25" font-size="15.5" textLength="9.14" lengthAdjust="spacingAndGlyphs">e</text>
<line x1="948.29" y1="1203.60" x2="948.29" y2="1186.30" stroke="#000" stroke-width="1.8"/>
<line x1="944.19" y1="1186.30" x2="952.39" y2="1186.30" stroke="#000" stroke-width="1.9" stroke-linecap="round"/>
<rect x="941.59" y="1202.10" width="13.40" height="106.30" fill="#fff" stroke="#000" stroke-width="3.0" stroke-linejoin="round"/>
<line x1="944.19" y1="1203.80" x2="952.39" y2="1203.80" stroke="#000" stroke-width="1.2" stroke-linecap="round"/>
<text x="943.97" y="1154.75" font-size="15.5" textLength="9.75" lengthAdjust="spacingAndGlyphs">d</text>
<text x="944.04" y="1175.75" font-size="15.5" textLength="9.14" lengthAdjust="spacingAndGlyphs">e</text>
<line x1="992.91" y1="1262.80" x2="992.91" y2="1246.00" stroke="#000" stroke-width="1.8"/>
<line x1="988.81" y1="1246.00" x2="997.01" y2="1246.00" stroke="#000" stroke-width="1.9" stroke-linecap="round"/>
<rect x="986.21" y="1261.30" width="13.40" height="47.10" fill="#fff"/>
<clipPath id="c362"><rect x="986.21" y="1261.30" width="13.40" height="47.10"/></clipPath>
<path clip-path="url(#c362)" fill="#000" d="M985.19 1262.25a0.95 0.95 0 1 0 1.9 0a0.95 0.95 0 1 0 -1.9 0M985.19 1265.56a0.95 0.95 0 1 0 1.9 0a0.95 0.95 0 1 0 -1.9 0M985.19 1268.86a0.95 0.95 0 1 0 1.9 0a0.95 0.95 0 1 0 -1.9 0M985.19 1272.16a0.95 0.95 0 1 0 1.9 0a0.95 0.95 0 1 0 -1.9 0M985.19 1275.46a0.95 0.95 0 1 0 1.9 0a0.95 0.95 0 1 0 -1.9 0M985.19 1278.77a0.95 0.95 0 1 0 1.9 0a0.95 0.95 0 1 0 -1.9 0M985.19 1282.07a0.95 0.95 0 1 0 1.9 0a0.95 0.95 0 1 0 -1.9 0M985.19 1285.37a0.95 0.95 0 1 0 1.9 0a0.95 0.95 0 1 0 -1.9 0M985.19 1288.67a0.95 0.95 0 1 0 1.9 0a0.95 0.95 0 1 0 -1.9 0M985.19 1291.98a0.95 0.95 0 1 0 1.9 0a0.95 0.95 0 1 0 -1.9 0M985.19 1295.28a0.95 0.95 0 1 0 1.9 0a0.95 0.95 0 1 0 -1.9 0M985.19 1298.58a0.95 0.95 0 1 0 1.9 0a0.95 0.95 0 1 0 -1.9 0M985.19 1301.88a0.95 0.95 0 1 0 1.9 0a0.95 0.95 0 1 0 -1.9 0M985.19 1305.19a0.95 0.95 0 1 0 1.9 0a0.95 0.95 0 1 0 -1.9 0M985.19 1308.49a0.95 0.95 0 1 0 1.9 0a0.95 0.95 0 1 0 -1.9 0M988.50 1262.25a0.95 0.95 0 1 0 1.9 0a0.95 0.95 0 1 0 -1.9 0M988.50 1265.56a0.95 0.95 0 1 0 1.9 0a0.95 0.95 0 1 0 -1.9 0M988.50 1268.86a0.95 0.95 0 1 0 1.9 0a0.95 0.95 0 1 0 -1.9 0M988.50 1272.16a0.95 0.95 0 1 0 1.9 0a0.95 0.95 0 1 0 -1.9 0M988.50 1275.46a0.95 0.95 0 1 0 1.9 0a0.95 0.95 0 1 0 -1.9 0M988.50 1278.77a0.95 0.95 0 1 0 1.9 0a0.95 0.95 0 1 0 -1.9 0M988.50 1282.07a0.95 0.95 0 1 0 1.9 0a0.95 0.95 0 1 0 -1.9 0M988.50 1285.37a0.95 0.95 0 1 0 1.9 0a0.95 0.95 0 1 0 -1.9 0M988.50 1288.67a0.95 0.95 0 1 0 1.9 0a0.95 0.95 0 1 0 -1.9 0M988.50 1291.98a0.95 0.95 0 1 0 1.9 0a0.95 0.95 0 1 0 -1.9 0M988.50 1295.28a0.95 0.95 0 1 0 1.9 0a0.95 0.95 0 1 0 -1.9 0M988.50 1298.58a0.95 0.95 0 1 0 1.9 0a0.95 0.95 0 1 0 -1.9 0M988.50 1301.88a0.95 0.95 0 1 0 1.9 0a0.95 0.95 0 1 0 -1.9 0M988.50 1305.19a0.95 0.95 0 1 0 1.9 0a0.95 0.95 0 1 0 -1.9 0M988.50 1308.49a0.95 0.95 0 1 0 1.9 0a0.95 0.95 0 1 0 -1.9 0M991.80 1262.25a0.95 0.95 0 1 0 1.9 0a0.95 0.95 0 1 0 -1.9 0M991.80 1265.56a0.95 0.95 0 1 0 1.9 0a0.95 0.95 0 1 0 -1.9 0M991.80 1268.86a0.95 0.95 0 1 0 1.9 0a0.95 0.95 0 1 0 -1.9 0M991.80 1272.16a0.95 0.95 0 1 0 1.9 0a0.95 0.95 0 1 0 -1.9 0M991.80 1275.46a0.95 0.95 0 1 0 1.9 0a0.95 0.95 0 1 0 -1.9 0M991.80 1278.77a0.95 0.95 0 1 0 1.9 0a0.95 0.95 0 1 0 -1.9 0M991.80 1282.07a0.95 0.95 0 1 0 1.9 0a0.95 0.95 0 1 0 -1.9 0M991.80 1285.37a0.95 0.95 0 1 0 1.9 0a0.95 0.95 0 1 0 -1.9 0M991.80 1288.67a0.95 0.95 0 1 0 1.9 0a0.95 0.95 0 1 0 -1.9 0M991.80 1291.98a0.95 0.95 0 1 0 1.9 0a0.95 0.95 0 1 0 -1.9 0M991.80 1295.28a0.95 0.95 0 1 0 1.9 0a0.95 0.95 0 1 0 -1.9 0M991.80 1298.58a0.95 0.95 0 1 0 1.9 0a0.95 0.95 0 1 0 -1.9 0M991.80 1301.88a0.95 0.95 0 1 0 1.9 0a0.95 0.95 0 1 0 -1.9 0M991.80 1305.19a0.95 0.95 0 1 0 1.9 0a0.95 0.95 0 1 0 -1.9 0M991.80 1308.49a0.95 0.95 0 1 0 1.9 0a0.95 0.95 0 1 0 -1.9 0M995.10 1262.25a0.95 0.95 0 1 0 1.9 0a0.95 0.95 0 1 0 -1.9 0M995.10 1265.56a0.95 0.95 0 1 0 1.9 0a0.95 0.95 0 1 0 -1.9 0M995.10 1268.86a0.95 0.95 0 1 0 1.9 0a0.95 0.95 0 1 0 -1.9 0M995.10 1272.16a0.95 0.95 0 1 0 1.9 0a0.95 0.95 0 1 0 -1.9 0M995.10 1275.46a0.95 0.95 0 1 0 1.9 0a0.95 0.95 0 1 0 -1.9 0M995.10 1278.77a0.95 0.95 0 1 0 1.9 0a0.95 0.95 0 1 0 -1.9 0M995.10 1282.07a0.95 0.95 0 1 0 1.9 0a0.95 0.95 0 1 0 -1.9 0M995.10 1285.37a0.95 0.95 0 1 0 1.9 0a0.95 0.95 0 1 0 -1.9 0M995.10 1288.67a0.95 0.95 0 1 0 1.9 0a0.95 0.95 0 1 0 -1.9 0M995.10 1291.98a0.95 0.95 0 1 0 1.9 0a0.95 0.95 0 1 0 -1.9 0M995.10 1295.28a0.95 0.95 0 1 0 1.9 0a0.95 0.95 0 1 0 -1.9 0M995.10 1298.58a0.95 0.95 0 1 0 1.9 0a0.95 0.95 0 1 0 -1.9 0M995.10 1301.88a0.95 0.95 0 1 0 1.9 0a0.95 0.95 0 1 0 -1.9 0M995.10 1305.19a0.95 0.95 0 1 0 1.9 0a0.95 0.95 0 1 0 -1.9 0M995.10 1308.49a0.95 0.95 0 1 0 1.9 0a0.95 0.95 0 1 0 -1.9 0M998.40 1262.25a0.95 0.95 0 1 0 1.9 0a0.95 0.95 0 1 0 -1.9 0M998.40 1265.56a0.95 0.95 0 1 0 1.9 0a0.95 0.95 0 1 0 -1.9 0M998.40 1268.86a0.95 0.95 0 1 0 1.9 0a0.95 0.95 0 1 0 -1.9 0M998.40 1272.16a0.95 0.95 0 1 0 1.9 0a0.95 0.95 0 1 0 -1.9 0M998.40 1275.46a0.95 0.95 0 1 0 1.9 0a0.95 0.95 0 1 0 -1.9 0M998.40 1278.77a0.95 0.95 0 1 0 1.9 0a0.95 0.95 0 1 0 -1.9 0M998.40 1282.07a0.95 0.95 0 1 0 1.9 0a0.95 0.95 0 1 0 -1.9 0M998.40 1285.37a0.95 0.95 0 1 0 1.9 0a0.95 0.95 0 1 0 -1.9 0M998.40 1288.67a0.95 0.95 0 1 0 1.9 0a0.95 0.95 0 1 0 -1.9 0M998.40 1291.98a0.95 0.95 0 1 0 1.9 0a0.95 0.95 0 1 0 -1.9 0M998.40 1295.28a0.95 0.95 0 1 0 1.9 0a0.95 0.95 0 1 0 -1.9 0M998.40 1298.58a0.95 0.95 0 1 0 1.9 0a0.95 0.95 0 1 0 -1.9 0M998.40 1301.88a0.95 0.95 0 1 0 1.9 0a0.95 0.95 0 1 0 -1.9 0M998.40 1305.19a0.95 0.95 0 1 0 1.9 0a0.95 0.95 0 1 0 -1.9 0M998.40 1308.49a0.95 0.95 0 1 0 1.9 0a0.95 0.95 0 1 0 -1.9 0M986.84 1263.90a0.95 0.95 0 1 0 1.9 0a0.95 0.95 0 1 0 -1.9 0M986.84 1270.51a0.95 0.95 0 1 0 1.9 0a0.95 0.95 0 1 0 -1.9 0M986.84 1277.11a0.95 0.95 0 1 0 1.9 0a0.95 0.95 0 1 0 -1.9 0M986.84 1283.72a0.95 0.95 0 1 0 1.9 0a0.95 0.95 0 1 0 -1.9 0M986.84 1290.32a0.95 0.95 0 1 0 1.9 0a0.95 0.95 0 1 0 -1.9 0M986.84 1296.93a0.95 0.95 0 1 0 1.9 0a0.95 0.95 0 1 0 -1.9 0M986.84 1303.53a0.95 0.95 0 1 0 1.9 0a0.95 0.95 0 1 0 -1.9 0M990.15 1260.60a0.95 0.95 0 1 0 1.9 0a0.95 0.95 0 1 0 -1.9 0M993.45 1263.90a0.95 0.95 0 1 0 1.9 0a0.95 0.95 0 1 0 -1.9 0M990.15 1267.21a0.95 0.95 0 1 0 1.9 0a0.95 0.95 0 1 0 -1.9 0M993.45 1270.51a0.95 0.95 0 1 0 1.9 0a0.95 0.95 0 1 0 -1.9 0M990.15 1273.81a0.95 0.95 0 1 0 1.9 0a0.95 0.95 0 1 0 -1.9 0M993.45 1277.11a0.95 0.95 0 1 0 1.9 0a0.95 0.95 0 1 0 -1.9 0M990.15 1280.42a0.95 0.95 0 1 0 1.9 0a0.95 0.95 0 1 0 -1.9 0M993.45 1283.72a0.95 0.95 0 1 0 1.9 0a0.95 0.95 0 1 0 -1.9 0M990.15 1287.02a0.95 0.95 0 1 0 1.9 0a0.95 0.95 0 1 0 -1.9 0M993.45 1290.32a0.95 0.95 0 1 0 1.9 0a0.95 0.95 0 1 0 -1.9 0M990.15 1293.63a0.95 0.95 0 1 0 1.9 0a0.95 0.95 0 1 0 -1.9 0M993.45 1296.93a0.95 0.95 0 1 0 1.9 0a0.95 0.95 0 1 0 -1.9 0M990.15 1300.23a0.95 0.95 0 1 0 1.9 0a0.95 0.95 0 1 0 -1.9 0M993.45 1303.53a0.95 0.95 0 1 0 1.9 0a0.95 0.95 0 1 0 -1.9 0M990.15 1306.84a0.95 0.95 0 1 0 1.9 0a0.95 0.95 0 1 0 -1.9 0M996.75 1260.60a0.95 0.95 0 1 0 1.9 0a0.95 0.95 0 1 0 -1.9 0M996.75 1267.21a0.95 0.95 0 1 0 1.9 0a0.95 0.95 0 1 0 -1.9 0M996.75 1273.81a0.95 0.95 0 1 0 1.9 0a0.95 0.95 0 1 0 -1.9 0M996.75 1280.42a0.95 0.95 0 1 0 1.9 0a0.95 0.95 0 1 0 -1.9 0M996.75 1287.02a0.95 0.95 0 1 0 1.9 0a0.95 0.95 0 1 0 -1.9 0M996.75 1293.63a0.95 0.95 0 1 0 1.9 0a0.95 0.95 0 1 0 -1.9 0M996.75 1300.23a0.95 0.95 0 1 0 1.9 0a0.95 0.95 0 1 0 -1.9 0M996.75 1306.84a0.95 0.95 0 1 0 1.9 0a0.95 0.95 0 1 0 -1.9 0"/>
<rect x="986.21" y="1261.30" width="13.40" height="47.10" fill="none" stroke="#000" stroke-width="3.0" stroke-linejoin="round"/>
<text x="987.77" y="1237.35" font-size="15.5" textLength="9.75" lengthAdjust="spacingAndGlyphs">d</text>
<line x1="1011.01" y1="1208.10" x2="1011.01" y2="1171.60" stroke="#000" stroke-width="1.8"/>
<line x1="1006.91" y1="1171.60" x2="1015.11" y2="1171.60" stroke="#000" stroke-width="1.9" stroke-linecap="round"/>
<rect x="1004.31" y="1206.60" width="13.40" height="101.80" fill="#000" stroke="#000" stroke-width="3.0" stroke-linejoin="round"/>
<text x="1006.59" y="1161.44" font-size="15.5" textLength="9.14" lengthAdjust="spacingAndGlyphs">e</text>
<line x1="1029.11" y1="1146.20" x2="1029.11" y2="1129.00" stroke="#000" stroke-width="1.8"/>
<line x1="1025.01" y1="1129.00" x2="1033.21" y2="1129.00" stroke="#000" stroke-width="1.9" stroke-linecap="round"/>
<rect x="1022.41" y="1144.70" width="13.40" height="163.70" fill="#a6a6a6" stroke="#000" stroke-width="3.0" stroke-linejoin="round"/>
<line x1="1025.01" y1="1146.40" x2="1033.21" y2="1146.40" stroke="#000" stroke-width="1.2" stroke-linecap="round"/>
<text x="1022.22" y="1093.25" font-size="15.5" textLength="9.75" lengthAdjust="spacingAndGlyphs">d</text>
<text x="1022.29" y="1114.64" font-size="15.5" textLength="9.14" lengthAdjust="spacingAndGlyphs">e</text>
<line x1="1047.21" y1="1188.90" x2="1047.21" y2="1153.10" stroke="#000" stroke-width="1.8"/>
<line x1="1043.11" y1="1153.10" x2="1051.31" y2="1153.10" stroke="#000" stroke-width="1.9" stroke-linecap="round"/>
<rect x="1040.51" y="1187.40" width="13.40" height="121.00" fill="#fff" stroke="#000" stroke-width="3.0" stroke-linejoin="round"/>
<line x1="1043.11" y1="1189.10" x2="1051.31" y2="1189.10" stroke="#000" stroke-width="1.2" stroke-linecap="round"/>
<text x="1041.49" y="1143.05" font-size="15.5" textLength="9.14" lengthAdjust="spacingAndGlyphs">e</text>
<path d="M80.4 11.6 V411.7 H1063.8" fill="none" stroke="#000" stroke-width="2.9"/>
<path d="M80.4 499.2 V853.3 H1069.1" fill="none" stroke="#000" stroke-width="3.1"/>
<path d="M80.3 974 V1308.4 H1069" fill="none" stroke="#000" stroke-width="3.2"/>
<text x="54.90" y="417.60" font-size="16" textLength="9.82" lengthAdjust="spacingAndGlyphs">0</text>
<text x="46.50" y="337.48" font-size="16" textLength="18.17" lengthAdjust="spacingAndGlyphs">50</text>
<text x="36.75" y="257.36" font-size="16" textLength="27.94" lengthAdjust="spacingAndGlyphs">100</text>
<text x="36.75" y="177.24" font-size="16" textLength="27.94" lengthAdjust="spacingAndGlyphs">150</text>
<text x="37.23" y="97.12" font-size="16" textLength="27.44" lengthAdjust="spacingAndGlyphs">200</text>
<text x="37.23" y="17.00" font-size="16" textLength="27.44" lengthAdjust="spacingAndGlyphs">250</text>
<text x="54.90" y="858.70" font-size="16" textLength="9.82" lengthAdjust="spacingAndGlyphs">0</text>
<text x="46.50" y="808.10" font-size="16" textLength="18.17" lengthAdjust="spacingAndGlyphs">50</text>
<text x="36.75" y="757.50" font-size="16" textLength="27.94" lengthAdjust="spacingAndGlyphs">100</text>
<text x="36.75" y="706.90" font-size="16" textLength="27.94" lengthAdjust="spacingAndGlyphs">150</text>
<text x="37.23" y="656.30" font-size="16" textLength="27.44" lengthAdjust="spacingAndGlyphs">200</text>
<text x="37.23" y="605.70" font-size="16" textLength="27.44" lengthAdjust="spacingAndGlyphs">250</text>
<text x="37.43" y="555.10" font-size="16" textLength="27.24" lengthAdjust="spacingAndGlyphs">300</text>
<text x="37.43" y="504.50" font-size="16" textLength="27.24" lengthAdjust="spacingAndGlyphs">350</text>
<text x="54.90" y="1313.70" font-size="16" textLength="9.82" lengthAdjust="spacingAndGlyphs">0</text>
<text x="36.75" y="1271.90" font-size="16" textLength="27.94" lengthAdjust="spacingAndGlyphs">100</text>
<text x="37.23" y="1230.10" font-size="16" textLength="27.44" lengthAdjust="spacingAndGlyphs">200</text>
<text x="37.43" y="1188.30" font-size="16" textLength="27.24" lengthAdjust="spacingAndGlyphs">300</text>
<text x="37.55" y="1146.50" font-size="16" textLength="27.11" lengthAdjust="spacingAndGlyphs">400</text>
<text x="37.30" y="1104.70" font-size="16" textLength="27.38" lengthAdjust="spacingAndGlyphs">500</text>
<text x="37.20" y="1062.90" font-size="16" textLength="27.48" lengthAdjust="spacingAndGlyphs">600</text>
<text x="37.09" y="1021.10" font-size="16" textLength="27.59" lengthAdjust="spacingAndGlyphs">700</text>
<text x="37.28" y="979.30" font-size="16" textLength="27.39" lengthAdjust="spacingAndGlyphs">800</text>
<text x="102.26" y="41.90" font-size="29.5" textLength="21.53" lengthAdjust="spacingAndGlyphs">A</text>
<text x="103.14" y="518.80" font-size="29.5" textLength="21.20" lengthAdjust="spacingAndGlyphs">B</text>
<text x="103.17" y="989.80" font-size="30.5" textLength="21.65" lengthAdjust="spacingAndGlyphs">C</text>
<text x="24.00" y="380.45" font-size="24.5" textLength="125.29" lengthAdjust="spacingAndGlyphs" transform="rotate(-90 24.00 380.45)">Normalized</text>
<text x="24.00" y="248.96" font-size="24.5" textLength="82.66" lengthAdjust="spacingAndGlyphs" transform="rotate(-90 24.00 248.96)">relative</text>
<text x="24.00" y="159.87" font-size="24.5" textLength="117.24" lengthAdjust="spacingAndGlyphs" transform="rotate(-90 24.00 159.87)">expression</text>
<text x="23.90" y="845.35" font-size="24.5" textLength="125.29" lengthAdjust="spacingAndGlyphs" transform="rotate(-90 23.90 845.35)">Normalized</text>
<text x="23.90" y="713.86" font-size="24.5" textLength="82.66" lengthAdjust="spacingAndGlyphs" transform="rotate(-90 23.90 713.86)">relative</text>
<text x="23.90" y="624.77" font-size="24.5" textLength="117.24" lengthAdjust="spacingAndGlyphs" transform="rotate(-90 23.90 624.77)">expression</text>
<text x="23.90" y="1318.35" font-size="24.5" textLength="125.29" lengthAdjust="spacingAndGlyphs" transform="rotate(-90 23.90 1318.35)">Normalized</text>
<text x="23.90" y="1186.86" font-size="24.5" textLength="82.66" lengthAdjust="spacingAndGlyphs" transform="rotate(-90 23.90 1186.86)">relative</text>
<text x="23.90" y="1097.77" font-size="24.5" textLength="117.24" lengthAdjust="spacingAndGlyphs" transform="rotate(-90 23.90 1097.77)">expression</text>
<text x="148.73" y="453.70" font-size="24" textLength="59.49" lengthAdjust="spacingAndGlyphs">AG94</text>
<text x="282.55" y="453.70" font-size="24" textLength="79.79" lengthAdjust="spacingAndGlyphs">Golden</text>
<text x="368.60" y="453.70" font-size="24" textLength="99.52" lengthAdjust="spacingAndGlyphs">Delicious</text>
<text x="524.07" y="453.70" font-size="24" textLength="98.09" lengthAdjust="spacingAndGlyphs">Jonagold</text>
<text x="746.13" y="453.70" font-size="24" textLength="45.88" lengthAdjust="spacingAndGlyphs">CPG</text>
<text x="944.58" y="453.70" font-size="24" textLength="42.58" lengthAdjust="spacingAndGlyphs">PDL</text>
<text x="134.58" y="894.80" font-size="24" textLength="138.54" lengthAdjust="spacingAndGlyphs">COX-B-Waxy</text>
<text x="376.61" y="894.80" font-size="24" textLength="149.05" lengthAdjust="spacingAndGlyphs">COX-B-Russet</text>
<text x="631.09" y="894.80" font-size="24" textLength="134.63" lengthAdjust="spacingAndGlyphs">COX-L-Waxy</text>
<text x="873.02" y="894.80" font-size="24" textLength="146.05" lengthAdjust="spacingAndGlyphs">COX-L-Russet</text>
<text x="49.83" y="1426.60" font-size="21.5" textLength="122.26" lengthAdjust="spacingAndGlyphs" transform="rotate(-45 49.83 1426.60)" style="stroke-width:0.4px">CB-57-DAFB</text>
<text x="148.75" y="1426.60" font-size="21.5" textLength="122.26" lengthAdjust="spacingAndGlyphs" transform="rotate(-45 148.75 1426.60)" style="stroke-width:0.4px">CB-78-DAFB</text>
<text x="247.67" y="1426.60" font-size="21.5" textLength="122.26" lengthAdjust="spacingAndGlyphs" transform="rotate(-45 247.67 1426.60)" style="stroke-width:0.4px">CB-99-DAFB</text>
<text x="338.10" y="1435.09" font-size="21.5" textLength="134.27" lengthAdjust="spacingAndGlyphs" transform="rotate(-45 338.10 1435.09)" style="stroke-width:0.4px">CB-120-DAFB</text>
<text x="437.02" y="1435.09" font-size="21.5" textLength="134.27" lengthAdjust="spacingAndGlyphs" transform="rotate(-45 437.02 1435.09)" style="stroke-width:0.4px">CB-150-DAFB</text>
<text x="544.44" y="1426.59" font-size="21.5" textLength="122.24" lengthAdjust="spacingAndGlyphs" transform="rotate(-45 544.44 1426.59)" style="stroke-width:0.4px">CG-57-DAFB</text>
<text x="643.36" y="1426.59" font-size="21.5" textLength="122.24" lengthAdjust="spacingAndGlyphs" transform="rotate(-45 643.36 1426.59)" style="stroke-width:0.4px">CG-78-DAFB</text>
<text x="742.28" y="1426.59" font-size="21.5" textLength="122.24" lengthAdjust="spacingAndGlyphs" transform="rotate(-45 742.28 1426.59)" style="stroke-width:0.4px">CG-99-DAFB</text>
<text x="832.71" y="1435.08" font-size="21.5" textLength="134.25" lengthAdjust="spacingAndGlyphs" transform="rotate(-45 832.71 1435.08)" style="stroke-width:0.4px">CG-120-DAFB</text>
<text x="931.63" y="1435.08" font-size="21.5" textLength="134.25" lengthAdjust="spacingAndGlyphs" transform="rotate(-45 931.63 1435.08)" style="stroke-width:0.4px">CG-150-DAFB</text>
<rect x="322.90" y="1472.70" width="14.70" height="14.70" fill="#fff"/>
<clipPath id="c440"><rect x="322.90" y="1472.70" width="14.70" height="14.70"/></clipPath>
<path clip-path="url(#c440)" fill="#000" d="M321.39 1473.61a0.95 0.95 0 1 0 1.9 0a0.95 0.95 0 1 0 -1.9 0M321.39 1476.92a0.95 0.95 0 1 0 1.9 0a0.95 0.95 0 1 0 -1.9 0M321.39 1480.22a0.95 0.95 0 1 0 1.9 0a0.95 0.95 0 1 0 -1.9 0M321.39 1483.52a0.95 0.95 0 1 0 1.9 0a0.95 0.95 0 1 0 -1.9 0M321.39 1486.82a0.95 0.95 0 1 0 1.9 0a0.95 0.95 0 1 0 -1.9 0M324.69 1473.61a0.95 0.95 0 1 0 1.9 0a0.95 0.95 0 1 0 -1.9 0M324.69 1476.92a0.95 0.95 0 1 0 1.9 0a0.95 0.95 0 1 0 -1.9 0M324.69 1480.22a0.95 0.95 0 1 0 1.9 0a0.95 0.95 0 1 0 -1.9 0M324.69 1483.52a0.95 0.95 0 1 0 1.9 0a0.95 0.95 0 1 0 -1.9 0M324.69 1486.82a0.95 0.95 0 1 0 1.9 0a0.95 0.95 0 1 0 -1.9 0M328.00 1473.61a0.95 0.95 0 1 0 1.9 0a0.95 0.95 0 1 0 -1.9 0M328.00 1476.92a0.95 0.95 0 1 0 1.9 0a0.95 0.95 0 1 0 -1.9 0M328.00 1480.22a0.95 0.95 0 1 0 1.9 0a0.95 0.95 0 1 0 -1.9 0M328.00 1483.52a0.95 0.95 0 1 0 1.9 0a0.95 0.95 0 1 0 -1.9 0M328.00 1486.82a0.95 0.95 0 1 0 1.9 0a0.95 0.95 0 1 0 -1.9 0M331.30 1473.61a0.95 0.95 0 1 0 1.9 0a0.95 0.95 0 1 0 -1.9 0M331.30 1476.92a0.95 0.95 0 1 0 1.9 0a0.95 0.95 0 1 0 -1.9 0M331.30 1480.22a0.95 0.95 0 1 0 1.9 0a0.95 0.95 0 1 0 -1.9 0M331.30 1483.52a0.95 0.95 0 1 0 1.9 0a0.95 0.95 0 1 0 -1.9 0M331.30 1486.82a0.95 0.95 0 1 0 1.9 0a0.95 0.95 0 1 0 -1.9 0M334.60 1473.61a0.95 0.95 0 1 0 1.9 0a0.95 0.95 0 1 0 -1.9 0M334.60 1476.92a0.95 0.95 0 1 0 1.9 0a0.95 0.95 0 1 0 -1.9 0M334.60 1480.22a0.95 0.95 0 1 0 1.9 0a0.95 0.95 0 1 0 -1.9 0M334.60 1483.52a0.95 0.95 0 1 0 1.9 0a0.95 0.95 0 1 0 -1.9 0M334.60 1486.82a0.95 0.95 0 1 0 1.9 0a0.95 0.95 0 1 0 -1.9 0M323.04 1471.96a0.95 0.95 0 1 0 1.9 0a0.95 0.95 0 1 0 -1.9 0M326.34 1475.26a0.95 0.95 0 1 0 1.9 0a0.95 0.95 0 1 0 -1.9 0M323.04 1478.57a0.95 0.95 0 1 0 1.9 0a0.95 0.95 0 1 0 -1.9 0M326.34 1481.87a0.95 0.95 0 1 0 1.9 0a0.95 0.95 0 1 0 -1.9 0M323.04 1485.17a0.95 0.95 0 1 0 1.9 0a0.95 0.95 0 1 0 -1.9 0M329.65 1471.96a0.95 0.95 0 1 0 1.9 0a0.95 0.95 0 1 0 -1.9 0M332.95 1475.26a0.95 0.95 0 1 0 1.9 0a0.95 0.95 0 1 0 -1.9 0M329.65 1478.57a0.95 0.95 0 1 0 1.9 0a0.95 0.95 0 1 0 -1.9 0M332.95 1481.87a0.95 0.95 0 1 0 1.9 0a0.95 0.95 0 1 0 -1.9 0M329.65 1485.17a0.95 0.95 0 1 0 1.9 0a0.95 0.95 0 1 0 -1.9 0M336.25 1471.96a0.95 0.95 0 1 0 1.9 0a0.95 0.95 0 1 0 -1.9 0M336.25 1478.57a0.95 0.95 0 1 0 1.9 0a0.95 0.95 0 1 0 -1.9 0M336.25 1485.17a0.95 0.95 0 1 0 1.9 0a0.95 0.95 0 1 0 -1.9 0"/>
<rect x="322.90" y="1472.70" width="14.70" height="14.70" rx="0.8" fill="none" stroke="#000" stroke-width="3.2"/>
<text x="343.71" y="1487.60" font-size="23.5" textLength="81.89" lengthAdjust="spacingAndGlyphs">MdC4H</text>
<rect x="444.30" y="1472.70" width="14.70" height="14.70" rx="0.8" fill="#000" stroke="#000" stroke-width="3.2"/>
<text x="464.97" y="1487.60" font-size="23.5" textLength="116.30" lengthAdjust="spacingAndGlyphs">MdMYB52</text>
<rect x="600.20" y="1472.70" width="14.70" height="14.70" rx="0.8" fill="#a6a6a6" stroke="#000" stroke-width="3.2"/>
<text x="620.78" y="1487.60" font-size="23.5" textLength="115.69" lengthAdjust="spacingAndGlyphs">MdMYB93</text>
<rect x="756.20" y="1472.70" width="14.70" height="14.70" rx="0.8" fill="#fff" stroke="#000" stroke-width="3.2"/>
<text x="777.36" y="1487.60" font-size="23.5" textLength="109.67" lengthAdjust="spacingAndGlyphs">MdGPAT5</text>
</g></svg>
</body></html>
